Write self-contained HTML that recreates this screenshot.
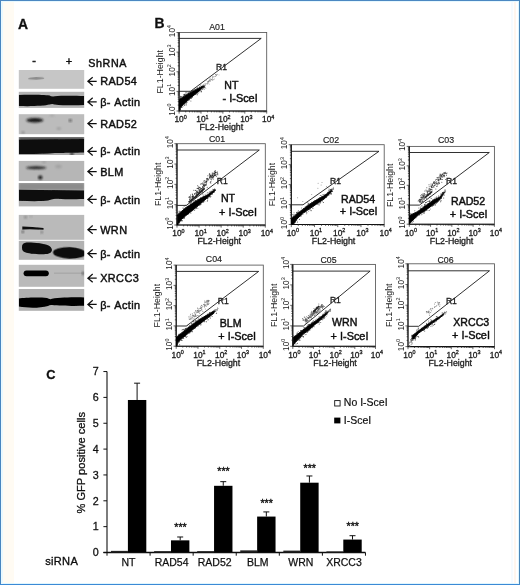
<!DOCTYPE html>
<html><head><meta charset="utf-8"><style>
html,body{margin:0;padding:0;background:#fff;}
svg{display:block;font-family:"Liberation Sans", sans-serif;will-change:transform;}
</style></head><body>
<svg width="520" height="585" viewBox="0 0 520 585">
<defs>
<filter id="b1" x="-20%" y="-50%" width="140%" height="200%"><feGaussianBlur stdDeviation="1"/></filter>
<filter id="b07" x="-20%" y="-50%" width="140%" height="200%"><feGaussianBlur stdDeviation="0.7"/></filter>
<filter id="b05" x="-20%" y="-50%" width="140%" height="200%"><feGaussianBlur stdDeviation="0.5"/></filter>
<filter id="b04" x="-20%" y="-20%" width="140%" height="140%"><feGaussianBlur stdDeviation="0.4"/></filter>
<filter id="gblur" x="0" y="0" width="100%" height="100%" filterUnits="userSpaceOnUse"><feGaussianBlur stdDeviation="0.35"/></filter>
<clipPath id="blotclip"><rect x="18.8" y="70.0" width="65.4" height="18.799999999999997"/><rect x="18.8" y="91.8" width="65.4" height="16.10000000000001"/><rect x="18.8" y="114.2" width="65.4" height="19.999999999999986"/><rect x="18.8" y="137.0" width="65.4" height="18.0"/><rect x="18.8" y="160.9" width="65.4" height="20.099999999999994"/><rect x="18.8" y="183.0" width="65.4" height="23.400000000000006"/><rect x="18.8" y="214.9" width="65.4" height="24.900000000000006"/><rect x="18.8" y="240.8" width="65.4" height="19.0"/><rect x="18.8" y="264.8" width="65.4" height="22.0"/><rect x="18.8" y="289.0" width="65.4" height="21.80000000000001"/></clipPath>
</defs>
<g filter="url(#gblur)">
<rect x="0" y="0" width="520" height="585" fill="#fff"/>
<rect x="3" y="1" width="11" height="583" fill="#fffbf3"/>
<rect x="514" y="1" width="2" height="583" fill="#fff6ee"/>
<rect x="511" y="1" width="2" height="583" fill="#f6fbff"/>
<rect x="0" y="0" width="520" height="1" fill="#4c88c2"/>
<rect x="0" y="0" width="1" height="585" fill="#4a86bf"/>
<rect x="519" y="0" width="1" height="585" fill="#4a86b8"/>
<rect x="0" y="584" width="520" height="1" fill="#3a8ad6"/>
<rect x="1" y="583" width="518" height="1" fill="#dff6ff"/>
<rect x="518" y="1" width="1" height="583" fill="#dff6ff"/>
<rect x="1" y="1" width="518" height="1" fill="#e6f8ff"/>
<rect x="1" y="1" width="2" height="583" fill="#e9f9ff"/>
<text x="18.10" y="28.90" font-size="13.9" text-anchor="start" font-weight="bold" fill="#111" stroke="#111" stroke-width="0.3" >A</text>
<text x="34.00" y="64.00" font-size="11" text-anchor="middle" font-weight="normal" fill="#111" stroke="#111" stroke-width="0.45" >-</text>
<text x="69.00" y="65.20" font-size="11" text-anchor="middle" font-weight="normal" fill="#111" stroke="#111" stroke-width="0.45" >+</text>
<text x="88.30" y="66.60" font-size="10.7" text-anchor="start" font-weight="normal" fill="#111" stroke="#111" stroke-width="0.45" letter-spacing="0.6">ShRNA</text>
<rect x="18.8" y="70.0" width="65.4" height="18.799999999999997" fill="#c6c6c6"/>
<rect x="18.8" y="91.8" width="65.4" height="16.10000000000001" fill="#b4b4b4"/>
<rect x="18.8" y="114.2" width="65.4" height="19.999999999999986" fill="#bcbcbc"/>
<rect x="18.8" y="137.0" width="65.4" height="18.0" fill="#a8a8a8"/>
<rect x="18.8" y="160.9" width="65.4" height="20.099999999999994" fill="#b6b6b6"/>
<rect x="18.8" y="183.0" width="65.4" height="23.400000000000006" fill="#b0b0b0"/>
<rect x="18.8" y="214.9" width="65.4" height="24.900000000000006" fill="#bababa"/>
<rect x="18.8" y="240.8" width="65.4" height="19.0" fill="#b2b2b2"/>
<rect x="18.8" y="264.8" width="65.4" height="22.0" fill="#bababa"/>
<rect x="18.8" y="289.0" width="65.4" height="21.80000000000001" fill="#b0b0b0"/>
<g clip-path="url(#blotclip)">
<ellipse cx="36.2" cy="78.4" rx="8.2" ry="1.3" fill="#8c8c8c" filter="url(#b07)" transform="rotate(-2 36.2 78.4)"/>
<path d="M18.8,95.0 C30,94.6 45,94.9 49.5,95.6 Q52,96.9 54.5,96.2 C62,95.6 75,95.8 84.2,96.0 L84.2,105.0 C75,105.5 62,105.4 54.5,104.4 Q52,103.4 49.5,104.6 C45,106.0 30,106.4 18.8,106.0 Z" fill="#0c0c0c" filter="url(#b07)"/>
<ellipse cx="34.8" cy="120.2" rx="8.6" ry="2.2" fill="#161616" opacity="1.0" filter="url(#b1)"/>
<ellipse cx="70.3" cy="120.4" rx="1.4" ry="1.0" fill="#252525" opacity="0.95" filter="url(#b1)"/>
<ellipse cx="58.8" cy="128.6" rx="2.4" ry="1.1" fill="#8a8a8a" opacity="0.7" filter="url(#b1)"/>
<ellipse cx="23.0" cy="132.6" rx="1.6" ry="1.1" fill="#666" opacity="0.7" filter="url(#b1)"/>
<ellipse cx="52.0" cy="115.5" rx="2.5" ry="1.0" fill="#999" opacity="0.6" filter="url(#b1)"/>
<rect x="18.8" y="137" width="65.4" height="4" fill="#555" filter="url(#b1)"/>
<path d="M18.8,139.8 L84.2,139.0 L84.2,152.6 C70,152.8 60,153.2 55,153.0 C45,154.0 30,154.2 18.8,154.0 Z" fill="#0a0a0a" filter="url(#b07)"/>
<ellipse cx="71.9" cy="153.9" rx="1.8" ry="1.2" fill="#000" opacity="0.9" filter="url(#b1)"/>
<ellipse cx="36.2" cy="167.8" rx="10.2" ry="1.5" fill="#202020" opacity="1.0" filter="url(#b1)"/>
<ellipse cx="40.3" cy="177.6" rx="2.0" ry="2.0" fill="#111" opacity="1.0" filter="url(#b1)"/>
<ellipse cx="58.5" cy="166.5" rx="3.2" ry="1.8" fill="#999" opacity="0.7" filter="url(#b1)"/>
<ellipse cx="44.0" cy="162.0" rx="2.0" ry="1.0" fill="#888" opacity="0.6" filter="url(#b1)"/>
<rect x="18.8" y="183" width="65.4" height="7" fill="#8c8c8c" filter="url(#b1)"/>
<path d="M18.8,189.8 L84.2,190.5 L84.2,199.0 C70,199.4 60,199.2 55,198.8 Q51,199.2 48,200.6 C40,201.4 30,201.2 18.8,200.8 Z" fill="#080808" filter="url(#b07)"/>
<path d="M22.3,226.4 Q32,226.6 43.5,228.0 L43.5,229.8 Q32,228.8 22.3,229.4 Z" fill="#0c0c0c" filter="url(#b05)"/>
<ellipse cx="25.5" cy="217.2" rx="1.1" ry="1.0" fill="#444" opacity="0.8" filter="url(#b1)"/>
<ellipse cx="22.8" cy="231.8" rx="1.2" ry="1.1" fill="#333" opacity="0.9" filter="url(#b1)"/>
<ellipse cx="41.7" cy="232.2" rx="1.0" ry="1.0" fill="#444" opacity="0.9" filter="url(#b1)"/>
<ellipse cx="31.0" cy="216.5" rx="0.9" ry="0.8" fill="#777" opacity="0.7" filter="url(#b1)"/>
<path d="M22.0,247.5 C22.0,243.5 24.5,242.6 28,242.6 C36,242.6 44,243.6 48.5,245.6 C51.5,247.0 52.2,249.5 51.8,250.8 C51.2,253.2 48,254.2 44,254.2 C36,254.4 28,253.6 24.5,252.0 C22.6,251.0 22.0,249.5 22.0,247.5 Z" fill="#080808" filter="url(#b07)"/>
<ellipse cx="0" cy="0" rx="16.5" ry="5.8" fill="#080808" filter="url(#b07)" transform="translate(69.5,252.9) rotate(2)"/>
<rect x="23.6" y="270.4" width="25.2" height="5.8" rx="2.9" fill="#060606" filter="url(#b05)"/>
<rect x="54" y="272.6" width="28" height="1.2" fill="#a6a6a6" filter="url(#b05)"/>
<ellipse cx="83.2" cy="273.2" rx="1.0" ry="1.8" fill="#333" opacity="0.9" filter="url(#b1)"/>
<path d="M18.8,298.5 C25,297.4 40,297.2 47,298.0 Q50,299.8 52,298.8 C60,297.4 75,297.2 84.2,297.4 L84.2,305.8 C75,306.0 60,306.0 52,305.0 Q50,304.6 48,306.0 C40,308.2 28,308.2 18.8,306.6 Z" fill="#060606" filter="url(#b07)"/>
</g>
<path d="M96.7,81.30 H88.2 M92.7,77.20 L87.9,81.30 L92.7,85.40" stroke="#111" stroke-width="1.25" fill="none"/>
<text x="100.20" y="85.40" font-size="10.9" text-anchor="start" font-weight="normal" fill="#111" stroke="#111" stroke-width="0.45" letter-spacing="0.4">RAD54</text>
<path d="M96.7,101.90 H88.2 M92.7,97.80 L87.9,101.90 L92.7,106.00" stroke="#111" stroke-width="1.25" fill="none"/>
<text x="100.20" y="106.00" font-size="10.9" text-anchor="start" font-weight="normal" fill="#111" stroke="#111" stroke-width="0.45" letter-spacing="0.4">β- Actin</text>
<path d="M96.7,123.60 H88.2 M92.7,119.50 L87.9,123.60 L92.7,127.70" stroke="#111" stroke-width="1.25" fill="none"/>
<text x="100.20" y="127.70" font-size="10.9" text-anchor="start" font-weight="normal" fill="#111" stroke="#111" stroke-width="0.45" letter-spacing="0.4">RAD52</text>
<path d="M96.7,151.30 H88.2 M92.7,147.20 L87.9,151.30 L92.7,155.40" stroke="#111" stroke-width="1.25" fill="none"/>
<text x="100.20" y="155.40" font-size="10.9" text-anchor="start" font-weight="normal" fill="#111" stroke="#111" stroke-width="0.45" letter-spacing="0.4">β- Actin</text>
<path d="M96.7,171.60 H88.2 M92.7,167.50 L87.9,171.60 L92.7,175.70" stroke="#111" stroke-width="1.25" fill="none"/>
<text x="100.20" y="175.70" font-size="10.9" text-anchor="start" font-weight="normal" fill="#111" stroke="#111" stroke-width="0.45" letter-spacing="0.4">BLM</text>
<path d="M96.7,199.40 H88.2 M92.7,195.30 L87.9,199.40 L92.7,203.50" stroke="#111" stroke-width="1.25" fill="none"/>
<text x="100.20" y="203.50" font-size="10.9" text-anchor="start" font-weight="normal" fill="#111" stroke="#111" stroke-width="0.45" letter-spacing="0.4">β- Actin</text>
<path d="M96.7,229.70 H88.2 M92.7,225.60 L87.9,229.70 L92.7,233.80" stroke="#111" stroke-width="1.25" fill="none"/>
<text x="100.20" y="233.80" font-size="10.9" text-anchor="start" font-weight="normal" fill="#111" stroke="#111" stroke-width="0.45" letter-spacing="0.4">WRN</text>
<path d="M96.7,253.60 H88.2 M92.7,249.50 L87.9,253.60 L92.7,257.70" stroke="#111" stroke-width="1.25" fill="none"/>
<text x="100.20" y="257.70" font-size="10.9" text-anchor="start" font-weight="normal" fill="#111" stroke="#111" stroke-width="0.45" letter-spacing="0.4">β- Actin</text>
<path d="M96.7,278.20 H88.2 M92.7,274.10 L87.9,278.20 L92.7,282.30" stroke="#111" stroke-width="1.25" fill="none"/>
<text x="100.20" y="282.30" font-size="10.9" text-anchor="start" font-weight="normal" fill="#111" stroke="#111" stroke-width="0.45" letter-spacing="0.4">XRCC3</text>
<path d="M96.7,304.40 H88.2 M92.7,300.30 L87.9,304.40 L92.7,308.50" stroke="#111" stroke-width="1.25" fill="none"/>
<text x="100.20" y="308.50" font-size="10.9" text-anchor="start" font-weight="normal" fill="#111" stroke="#111" stroke-width="0.45" letter-spacing="0.4">β- Actin</text>
<text x="154.60" y="28.40" font-size="13.9" text-anchor="start" font-weight="bold" fill="#111" stroke="#111" stroke-width="0.3" >B</text>
<rect x="179.1" y="32.5" width="87.60" height="78.50" fill="none" stroke="#555" stroke-width="0.85"/>
<path d="M179.1,32.5 L179.1,111.0 L266.7,111.0" fill="none" stroke="#111" stroke-width="1.1"/>
<path d="M179.10,111.0 v2.6 M179.1,111.00 h-2.6 M185.69,111.0 v1.4 M179.1,105.09 h-1.4 M189.55,111.0 v1.4 M179.1,101.64 h-1.4 M192.29,111.0 v1.4 M179.1,99.18 h-1.4 M194.41,111.0 v1.4 M179.1,97.28 h-1.4 M196.14,111.0 v1.4 M179.1,95.73 h-1.4 M197.61,111.0 v1.4 M179.1,94.41 h-1.4 M198.88,111.0 v1.4 M179.1,93.28 h-1.4 M200.00,111.0 v1.4 M179.1,92.27 h-1.4 M201.00,111.0 v2.6 M179.1,91.38 h-2.6 M207.59,111.0 v1.4 M179.1,85.47 h-1.4 M211.45,111.0 v1.4 M179.1,82.01 h-1.4 M214.19,111.0 v1.4 M179.1,79.56 h-1.4 M216.31,111.0 v1.4 M179.1,77.66 h-1.4 M218.04,111.0 v1.4 M179.1,76.10 h-1.4 M219.51,111.0 v1.4 M179.1,74.79 h-1.4 M220.78,111.0 v1.4 M179.1,73.65 h-1.4 M221.90,111.0 v1.4 M179.1,72.65 h-1.4 M222.90,111.0 v2.6 M179.1,71.75 h-2.6 M229.49,111.0 v1.4 M179.1,65.84 h-1.4 M233.35,111.0 v1.4 M179.1,62.39 h-1.4 M236.09,111.0 v1.4 M179.1,59.93 h-1.4 M238.21,111.0 v1.4 M179.1,58.03 h-1.4 M239.94,111.0 v1.4 M179.1,56.48 h-1.4 M241.41,111.0 v1.4 M179.1,55.16 h-1.4 M242.68,111.0 v1.4 M179.1,54.03 h-1.4 M243.80,111.0 v1.4 M179.1,53.02 h-1.4 M244.80,111.0 v2.6 M179.1,52.12 h-2.6 M251.39,111.0 v1.4 M179.1,46.22 h-1.4 M255.25,111.0 v1.4 M179.1,42.76 h-1.4 M257.99,111.0 v1.4 M179.1,40.31 h-1.4 M260.11,111.0 v1.4 M179.1,38.41 h-1.4 M261.84,111.0 v1.4 M179.1,36.85 h-1.4 M263.31,111.0 v1.4 M179.1,35.54 h-1.4 M264.58,111.0 v1.4 M179.1,34.40 h-1.4 M265.70,111.0 v1.4 M179.1,33.40 h-1.4 M266.70,111.0 v2.6 M179.1,32.5 h-2.6" stroke="#222" stroke-width="0.7" fill="none"/>
<path d="M179.1,91.3 L190.5,91.3 L261.2,38.4 L179.1,38.4" fill="none" stroke="#1a1a1a" stroke-width="0.9"/>
<circle cx="207.8" cy="83.8" r="0.45" fill="#666" opacity="0.85"/>
<circle cx="204.0" cy="87.9" r="0.45" fill="#666" opacity="0.85"/>
<circle cx="210.4" cy="79.8" r="0.45" fill="#666" opacity="0.85"/>
<circle cx="210.3" cy="80.6" r="0.45" fill="#666" opacity="0.85"/>
<circle cx="202.3" cy="87.2" r="0.45" fill="#666" opacity="0.85"/>
<circle cx="203.6" cy="86.8" r="0.45" fill="#666" opacity="0.85"/>
<circle cx="209.0" cy="81.8" r="0.45" fill="#666" opacity="0.85"/>
<circle cx="205.2" cy="84.3" r="0.45" fill="#666" opacity="0.85"/>
<circle cx="213.0" cy="79.6" r="0.45" fill="#666" opacity="0.85"/>
<circle cx="208.0" cy="81.7" r="0.45" fill="#666" opacity="0.85"/>
<circle cx="219.0" cy="74.9" r="0.45" fill="#666" opacity="0.85"/>
<circle cx="207.1" cy="84.1" r="0.45" fill="#666" opacity="0.85"/>
<circle cx="204.8" cy="86.3" r="0.45" fill="#666" opacity="0.85"/>
<circle cx="215.5" cy="76.2" r="0.45" fill="#666" opacity="0.85"/>
<circle cx="204.0" cy="84.3" r="0.45" fill="#666" opacity="0.85"/>
<circle cx="207.4" cy="81.9" r="0.45" fill="#666" opacity="0.85"/>
<circle cx="211.0" cy="80.0" r="0.45" fill="#666" opacity="0.85"/>
<circle cx="205.4" cy="85.0" r="0.45" fill="#666" opacity="0.85"/>
<circle cx="212.3" cy="77.2" r="0.45" fill="#666" opacity="0.85"/>
<circle cx="211.7" cy="79.5" r="0.45" fill="#666" opacity="0.85"/>
<circle cx="208.8" cy="80.8" r="0.45" fill="#666" opacity="0.85"/>
<circle cx="214.5" cy="78.9" r="0.45" fill="#666" opacity="0.85"/>
<circle cx="205.1" cy="83.5" r="0.45" fill="#666" opacity="0.85"/>
<circle cx="215.6" cy="74.4" r="0.45" fill="#666" opacity="0.85"/>
<circle cx="213.2" cy="76.5" r="0.45" fill="#666" opacity="0.85"/>
<circle cx="205.9" cy="88.4" r="0.45" fill="#666" opacity="0.85"/>
<circle cx="208.7" cy="81.7" r="0.45" fill="#666" opacity="0.85"/>
<circle cx="209.4" cy="80.2" r="0.45" fill="#666" opacity="0.85"/>
<circle cx="202.0" cy="86.7" r="0.45" fill="#666" opacity="0.85"/>
<circle cx="210.1" cy="78.2" r="0.45" fill="#666" opacity="0.85"/>
<circle cx="215.6" cy="74.4" r="0.45" fill="#666" opacity="0.85"/>
<circle cx="212.6" cy="80.2" r="0.45" fill="#666" opacity="0.85"/>
<circle cx="209.9" cy="77.8" r="0.45" fill="#666" opacity="0.85"/>
<circle cx="217.5" cy="74.2" r="0.45" fill="#666" opacity="0.85"/>
<circle cx="209.4" cy="80.7" r="0.45" fill="#666" opacity="0.85"/>
<circle cx="213.0" cy="77.2" r="0.45" fill="#666" opacity="0.85"/>
<circle cx="213.8" cy="79.8" r="0.45" fill="#666" opacity="0.85"/>
<circle cx="206.5" cy="83.7" r="0.45" fill="#666" opacity="0.85"/>
<circle cx="208.1" cy="82.1" r="0.45" fill="#666" opacity="0.85"/>
<circle cx="209.2" cy="80.9" r="0.45" fill="#666" opacity="0.85"/>
<circle cx="204.9" cy="85.7" r="0.45" fill="#666" opacity="0.85"/>
<circle cx="214.5" cy="76.7" r="0.45" fill="#666" opacity="0.85"/>
<circle cx="204.1" cy="86.1" r="0.45" fill="#666" opacity="0.85"/>
<circle cx="216.7" cy="75.7" r="0.45" fill="#666" opacity="0.85"/>
<circle cx="202.4" cy="85.8" r="0.45" fill="#666" opacity="0.85"/>
<circle cx="216.4" cy="75.1" r="0.45" fill="#666" opacity="0.85"/>
<circle cx="215.5" cy="76.1" r="0.45" fill="#666" opacity="0.85"/>
<circle cx="208.2" cy="81.3" r="0.45" fill="#666" opacity="0.85"/>
<circle cx="209.2" cy="84.1" r="0.45" fill="#666" opacity="0.85"/>
<circle cx="203.2" cy="84.4" r="0.45" fill="#666" opacity="0.85"/>
<circle cx="204.9" cy="85.4" r="0.45" fill="#666" opacity="0.85"/>
<circle cx="210.3" cy="81.3" r="0.45" fill="#666" opacity="0.85"/>
<circle cx="211.4" cy="79.2" r="0.45" fill="#666" opacity="0.85"/>
<circle cx="208.8" cy="81.8" r="0.45" fill="#666" opacity="0.85"/>
<circle cx="206.2" cy="80.6" r="0.45" fill="#666" opacity="0.85"/>
<circle cx="212.3" cy="76.8" r="0.45" fill="#666" opacity="0.85"/>
<circle cx="209.4" cy="79.4" r="0.45" fill="#666" opacity="0.85"/>
<circle cx="202.1" cy="86.4" r="0.45" fill="#666" opacity="0.85"/>
<circle cx="216.7" cy="74.8" r="0.45" fill="#666" opacity="0.85"/>
<circle cx="213.3" cy="74.4" r="0.45" fill="#666" opacity="0.85"/>
<circle cx="208.0" cy="81.8" r="0.45" fill="#666" opacity="0.85"/>
<circle cx="212.4" cy="78.7" r="0.45" fill="#666" opacity="0.85"/>
<circle cx="203.5" cy="87.6" r="0.45" fill="#666" opacity="0.85"/>
<circle cx="204.8" cy="85.8" r="0.45" fill="#666" opacity="0.85"/>
<circle cx="207.5" cy="82.9" r="0.45" fill="#666" opacity="0.85"/>
<circle cx="204.4" cy="85.7" r="0.45" fill="#666" opacity="0.85"/>
<circle cx="203.5" cy="86.4" r="0.45" fill="#666" opacity="0.85"/>
<circle cx="216.1" cy="75.0" r="0.45" fill="#666" opacity="0.85"/>
<circle cx="212.2" cy="79.2" r="0.45" fill="#666" opacity="0.85"/>
<circle cx="208.0" cy="83.3" r="0.45" fill="#666" opacity="0.85"/>
<polygon points="179.3,99.4 186.1,94.9 194.2,90.4 202.2,86.3 204.0,85.8 203.4,87.3 196.8,92.9 188.8,99.4 183.4,104.4 180.2,108.0 179.6,110.8 179.3,110.8" fill="#050505" stroke="#050505" stroke-width="0.9" stroke-linejoin="round" filter="url(#b04)"/>
<circle cx="184.5" cy="94.3" r="0.5" fill="#222" opacity="0.89"/>
<circle cx="182.0" cy="107.0" r="0.5" fill="#222" opacity="0.90"/>
<circle cx="196.4" cy="93.8" r="0.5" fill="#222" opacity="0.57"/>
<circle cx="189.6" cy="98.8" r="0.5" fill="#222" opacity="0.60"/>
<circle cx="186.2" cy="105.0" r="0.5" fill="#222" opacity="0.78"/>
<circle cx="186.6" cy="102.0" r="0.5" fill="#222" opacity="0.53"/>
<circle cx="201.2" cy="91.0" r="0.5" fill="#222" opacity="0.96"/>
<circle cx="192.5" cy="90.4" r="0.5" fill="#222" opacity="0.58"/>
<circle cx="181.4" cy="96.7" r="0.5" fill="#222" opacity="0.98"/>
<circle cx="186.0" cy="94.0" r="0.5" fill="#222" opacity="0.69"/>
<circle cx="190.9" cy="98.4" r="0.5" fill="#222" opacity="0.75"/>
<circle cx="184.6" cy="105.2" r="0.5" fill="#222" opacity="0.87"/>
<circle cx="192.1" cy="97.2" r="0.5" fill="#222" opacity="0.56"/>
<circle cx="190.1" cy="91.3" r="0.5" fill="#222" opacity="0.97"/>
<circle cx="180.5" cy="97.5" r="0.5" fill="#222" opacity="0.65"/>
<circle cx="180.5" cy="98.4" r="0.5" fill="#222" opacity="0.93"/>
<circle cx="184.1" cy="95.3" r="0.5" fill="#222" opacity="0.98"/>
<circle cx="190.9" cy="100.9" r="0.5" fill="#222" opacity="0.70"/>
<circle cx="184.5" cy="104.8" r="0.5" fill="#222" opacity="0.64"/>
<circle cx="195.2" cy="89.8" r="0.5" fill="#222" opacity="0.57"/>
<circle cx="186.5" cy="103.7" r="0.5" fill="#222" opacity="0.66"/>
<circle cx="188.5" cy="99.8" r="0.5" fill="#222" opacity="0.55"/>
<circle cx="195.3" cy="94.4" r="0.5" fill="#222" opacity="0.57"/>
<circle cx="204.4" cy="86.5" r="0.5" fill="#222" opacity="0.90"/>
<circle cx="181.5" cy="106.9" r="0.5" fill="#222" opacity="0.70"/>
<circle cx="180.5" cy="96.2" r="0.5" fill="#222" opacity="0.72"/>
<circle cx="181.7" cy="106.9" r="0.5" fill="#222" opacity="0.77"/>
<circle cx="203.5" cy="87.2" r="0.5" fill="#222" opacity="0.83"/>
<circle cx="204.8" cy="87.5" r="0.5" fill="#222" opacity="0.80"/>
<circle cx="186.0" cy="92.3" r="0.5" fill="#222" opacity="0.94"/>
<circle cx="192.3" cy="91.2" r="0.5" fill="#222" opacity="0.98"/>
<circle cx="203.9" cy="87.6" r="0.5" fill="#222" opacity="0.55"/>
<circle cx="187.1" cy="93.1" r="0.5" fill="#222" opacity="0.92"/>
<circle cx="184.2" cy="96.0" r="0.5" fill="#222" opacity="0.81"/>
<circle cx="184.9" cy="95.3" r="0.5" fill="#222" opacity="0.71"/>
<circle cx="180.4" cy="108.4" r="0.5" fill="#222" opacity="0.93"/>
<circle cx="184.7" cy="94.6" r="0.5" fill="#222" opacity="0.71"/>
<circle cx="198.3" cy="91.7" r="0.5" fill="#222" opacity="0.65"/>
<circle cx="183.0" cy="96.3" r="0.5" fill="#222" opacity="0.78"/>
<circle cx="199.5" cy="86.3" r="0.5" fill="#222" opacity="0.52"/>
<circle cx="189.3" cy="92.8" r="0.5" fill="#222" opacity="0.82"/>
<circle cx="181.0" cy="107.3" r="0.5" fill="#222" opacity="0.82"/>
<circle cx="180.9" cy="96.7" r="0.5" fill="#222" opacity="0.96"/>
<circle cx="191.0" cy="91.8" r="0.5" fill="#222" opacity="0.60"/>
<circle cx="191.5" cy="91.5" r="0.5" fill="#222" opacity="0.81"/>
<circle cx="194.1" cy="89.3" r="0.5" fill="#222" opacity="0.87"/>
<circle cx="192.2" cy="96.7" r="0.5" fill="#222" opacity="0.56"/>
<circle cx="180.4" cy="98.1" r="0.5" fill="#222" opacity="0.64"/>
<circle cx="184.2" cy="95.9" r="0.5" fill="#222" opacity="0.68"/>
<circle cx="184.6" cy="103.7" r="0.5" fill="#222" opacity="0.77"/>
<circle cx="180.5" cy="109.5" r="0.5" fill="#222" opacity="0.88"/>
<circle cx="185.5" cy="95.0" r="0.5" fill="#222" opacity="0.69"/>
<circle cx="180.0" cy="110.2" r="0.5" fill="#222" opacity="0.91"/>
<circle cx="185.9" cy="104.1" r="0.5" fill="#222" opacity="0.65"/>
<circle cx="200.8" cy="85.1" r="0.5" fill="#222" opacity="0.89"/>
<circle cx="200.4" cy="90.6" r="0.5" fill="#222" opacity="0.68"/>
<circle cx="187.2" cy="102.2" r="0.5" fill="#222" opacity="0.56"/>
<circle cx="186.0" cy="102.5" r="0.5" fill="#222" opacity="0.92"/>
<circle cx="197.2" cy="93.7" r="0.5" fill="#222" opacity="0.92"/>
<circle cx="199.9" cy="91.8" r="0.5" fill="#222" opacity="0.93"/>
<circle cx="201.5" cy="91.7" r="0.5" fill="#222" opacity="0.97"/>
<circle cx="193.0" cy="90.7" r="0.5" fill="#222" opacity="0.68"/>
<circle cx="185.4" cy="94.1" r="0.5" fill="#222" opacity="0.53"/>
<circle cx="191.5" cy="98.3" r="0.5" fill="#222" opacity="0.65"/>
<circle cx="197.3" cy="88.1" r="0.5" fill="#222" opacity="0.98"/>
<circle cx="185.2" cy="103.2" r="0.5" fill="#222" opacity="0.71"/>
<circle cx="203.7" cy="88.2" r="0.5" fill="#222" opacity="0.72"/>
<circle cx="187.8" cy="100.7" r="0.5" fill="#222" opacity="0.76"/>
<circle cx="180.1" cy="109.2" r="0.5" fill="#222" opacity="0.55"/>
<circle cx="192.6" cy="90.8" r="0.5" fill="#222" opacity="0.78"/>
<circle cx="180.1" cy="98.7" r="0.5" fill="#222" opacity="0.54"/>
<circle cx="199.9" cy="87.3" r="0.5" fill="#222" opacity="0.53"/>
<circle cx="183.8" cy="94.4" r="0.5" fill="#222" opacity="0.80"/>
<circle cx="197.2" cy="94.7" r="0.5" fill="#222" opacity="0.94"/>
<circle cx="196.1" cy="89.1" r="0.5" fill="#222" opacity="0.98"/>
<circle cx="198.4" cy="93.1" r="0.5" fill="#222" opacity="0.58"/>
<circle cx="189.4" cy="99.5" r="0.5" fill="#222" opacity="0.78"/>
<circle cx="204.8" cy="87.2" r="0.5" fill="#222" opacity="0.74"/>
<circle cx="183.5" cy="106.0" r="0.5" fill="#222" opacity="0.51"/>
<circle cx="183.6" cy="96.2" r="0.5" fill="#222" opacity="0.51"/>
<circle cx="188.9" cy="100.0" r="0.5" fill="#222" opacity="0.51"/>
<circle cx="188.6" cy="92.8" r="0.5" fill="#222" opacity="0.99"/>
<circle cx="186.3" cy="102.2" r="0.5" fill="#222" opacity="0.61"/>
<circle cx="192.3" cy="96.9" r="0.5" fill="#222" opacity="0.70"/>
<circle cx="202.4" cy="89.3" r="0.5" fill="#222" opacity="0.90"/>
<circle cx="195.2" cy="94.4" r="0.5" fill="#222" opacity="0.72"/>
<circle cx="188.9" cy="100.3" r="0.5" fill="#222" opacity="0.64"/>
<circle cx="204.1" cy="89.4" r="0.5" fill="#222" opacity="0.55"/>
<circle cx="197.2" cy="87.9" r="0.5" fill="#222" opacity="0.85"/>
<circle cx="182.0" cy="107.0" r="0.5" fill="#222" opacity="0.53"/>
<text x="209.20" y="30.00" font-size="8.8" text-anchor="start" font-weight="normal" fill="#1a1a1a" stroke="#1a1a1a" stroke-width="0.15" >A01</text>
<text x="216.00" y="70.30" font-size="8.6" text-anchor="start" font-weight="normal" fill="#1a1a1a" stroke="#1a1a1a" stroke-width="0.3" >R1</text>
<text x="224.30" y="89.30" font-size="10.6" text-anchor="start" font-weight="normal" fill="#111" stroke="#111" stroke-width="0.45" >NT</text>
<text x="222.60" y="102.30" font-size="10.9" text-anchor="start" font-weight="normal" fill="#111" stroke="#111" stroke-width="0.45" >- I-SceI</text>
<text x="179.10" y="122.30" font-size="8.4" text-anchor="middle" font-weight="normal" fill="#1a1a1a" stroke="#1a1a1a" stroke-width="0.3" >10</text>
<text x="183.70" y="118.60" font-size="5.4" text-anchor="start" font-weight="normal" fill="#1a1a1a" stroke="#1a1a1a" stroke-width="0.3" >0</text>
<text x="201.00" y="122.30" font-size="8.4" text-anchor="middle" font-weight="normal" fill="#1a1a1a" stroke="#1a1a1a" stroke-width="0.3" >10</text>
<text x="205.60" y="118.60" font-size="5.4" text-anchor="start" font-weight="normal" fill="#1a1a1a" stroke="#1a1a1a" stroke-width="0.3" >1</text>
<text x="222.90" y="122.30" font-size="8.4" text-anchor="middle" font-weight="normal" fill="#1a1a1a" stroke="#1a1a1a" stroke-width="0.3" >10</text>
<text x="227.50" y="118.60" font-size="5.4" text-anchor="start" font-weight="normal" fill="#1a1a1a" stroke="#1a1a1a" stroke-width="0.3" >2</text>
<text x="244.80" y="122.30" font-size="8.4" text-anchor="middle" font-weight="normal" fill="#1a1a1a" stroke="#1a1a1a" stroke-width="0.3" >10</text>
<text x="249.40" y="118.60" font-size="5.4" text-anchor="start" font-weight="normal" fill="#1a1a1a" stroke="#1a1a1a" stroke-width="0.3" >3</text>
<text x="266.70" y="122.30" font-size="8.4" text-anchor="middle" font-weight="normal" fill="#1a1a1a" stroke="#1a1a1a" stroke-width="0.3" >10</text>
<text x="271.30" y="118.60" font-size="5.4" text-anchor="start" font-weight="normal" fill="#1a1a1a" stroke="#1a1a1a" stroke-width="0.3" >4</text>
<text x="199.60" y="130.40" font-size="8.8" text-anchor="start" font-weight="normal" fill="#1a1a1a" stroke="#1a1a1a" stroke-width="0.3" >FL2-Height</text>
<g transform="translate(175.10,111.00) rotate(-90)">
<text x="0" y="0" font-size="8.4" text-anchor="middle" fill="#1a1a1a">10</text>
<text x="4.6" y="-3.7" font-size="5.4" fill="#1a1a1a">0</text>
</g>
<g transform="translate(175.10,91.38) rotate(-90)">
<text x="0" y="0" font-size="8.4" text-anchor="middle" fill="#1a1a1a">10</text>
<text x="4.6" y="-3.7" font-size="5.4" fill="#1a1a1a">1</text>
</g>
<g transform="translate(175.10,71.75) rotate(-90)">
<text x="0" y="0" font-size="8.4" text-anchor="middle" fill="#1a1a1a">10</text>
<text x="4.6" y="-3.7" font-size="5.4" fill="#1a1a1a">2</text>
</g>
<g transform="translate(175.10,52.12) rotate(-90)">
<text x="0" y="0" font-size="8.4" text-anchor="middle" fill="#1a1a1a">10</text>
<text x="4.6" y="-3.7" font-size="5.4" fill="#1a1a1a">3</text>
</g>
<g transform="translate(175.10,32.50) rotate(-90)">
<text x="0" y="0" font-size="8.4" text-anchor="middle" fill="#1a1a1a">10</text>
<text x="4.6" y="-3.7" font-size="5.4" fill="#1a1a1a">4</text>
</g>
<g transform="translate(163.10,71.75) rotate(-90)"><text x="0" y="0" font-size="8.8" text-anchor="middle" fill="#1a1a1a">FL1-Height</text></g>
<rect x="177.0" y="143.7" width="88.30" height="81.30" fill="none" stroke="#555" stroke-width="0.85"/>
<path d="M177.0,143.7 L177.0,225.0 L265.3,225.0" fill="none" stroke="#111" stroke-width="1.1"/>
<path d="M177.00,225.0 v2.6 M177.0,225.00 h-2.6 M183.65,225.0 v1.4 M177.0,218.88 h-1.4 M187.53,225.0 v1.4 M177.0,215.30 h-1.4 M190.29,225.0 v1.4 M177.0,212.76 h-1.4 M192.43,225.0 v1.4 M177.0,210.79 h-1.4 M194.18,225.0 v1.4 M177.0,209.18 h-1.4 M195.66,225.0 v1.4 M177.0,207.82 h-1.4 M196.94,225.0 v1.4 M177.0,206.64 h-1.4 M198.06,225.0 v1.4 M177.0,205.61 h-1.4 M199.07,225.0 v2.6 M177.0,204.68 h-2.6 M205.72,225.0 v1.4 M177.0,198.56 h-1.4 M209.61,225.0 v1.4 M177.0,194.98 h-1.4 M212.37,225.0 v1.4 M177.0,192.44 h-1.4 M214.50,225.0 v1.4 M177.0,190.47 h-1.4 M216.25,225.0 v1.4 M177.0,188.86 h-1.4 M217.73,225.0 v1.4 M177.0,187.50 h-1.4 M219.01,225.0 v1.4 M177.0,186.32 h-1.4 M220.14,225.0 v1.4 M177.0,185.28 h-1.4 M221.15,225.0 v2.6 M177.0,184.35 h-2.6 M227.80,225.0 v1.4 M177.0,178.23 h-1.4 M231.68,225.0 v1.4 M177.0,174.65 h-1.4 M234.44,225.0 v1.4 M177.0,172.11 h-1.4 M236.58,225.0 v1.4 M177.0,170.14 h-1.4 M238.33,225.0 v1.4 M177.0,168.53 h-1.4 M239.81,225.0 v1.4 M177.0,167.17 h-1.4 M241.09,225.0 v1.4 M177.0,165.99 h-1.4 M242.21,225.0 v1.4 M177.0,164.96 h-1.4 M243.23,225.0 v2.6 M177.0,164.02 h-2.6 M249.87,225.0 v1.4 M177.0,157.91 h-1.4 M253.76,225.0 v1.4 M177.0,154.33 h-1.4 M256.52,225.0 v1.4 M177.0,151.79 h-1.4 M258.65,225.0 v1.4 M177.0,149.82 h-1.4 M260.40,225.0 v1.4 M177.0,148.21 h-1.4 M261.88,225.0 v1.4 M177.0,146.85 h-1.4 M263.16,225.0 v1.4 M177.0,145.67 h-1.4 M264.29,225.0 v1.4 M177.0,144.63 h-1.4 M265.30,225.0 v2.6 M177.0,143.7 h-2.6" stroke="#222" stroke-width="0.7" fill="none"/>
<path d="M177.0,205.4 L186.3,205.4 L259.3,150.0 L177.0,150.0" fill="none" stroke="#1a1a1a" stroke-width="0.9"/>
<circle cx="206.3" cy="184.9" r="0.5" fill="#222" opacity="0.9"/>
<circle cx="212.1" cy="177.9" r="0.5" fill="#222" opacity="0.9"/>
<circle cx="205.8" cy="182.5" r="0.5" fill="#222" opacity="0.9"/>
<circle cx="203.9" cy="185.2" r="0.5" fill="#222" opacity="0.9"/>
<circle cx="192.2" cy="196.8" r="0.5" fill="#222" opacity="0.9"/>
<circle cx="205.1" cy="182.8" r="0.5" fill="#222" opacity="0.9"/>
<circle cx="198.3" cy="188.6" r="0.5" fill="#222" opacity="0.9"/>
<circle cx="195.6" cy="196.4" r="0.5" fill="#222" opacity="0.9"/>
<circle cx="195.6" cy="196.0" r="0.5" fill="#222" opacity="0.9"/>
<circle cx="212.4" cy="175.2" r="0.5" fill="#222" opacity="0.9"/>
<circle cx="212.9" cy="174.1" r="0.5" fill="#222" opacity="0.9"/>
<circle cx="192.6" cy="197.4" r="0.5" fill="#222" opacity="0.9"/>
<circle cx="214.8" cy="175.5" r="0.5" fill="#222" opacity="0.9"/>
<circle cx="205.4" cy="185.3" r="0.5" fill="#222" opacity="0.9"/>
<circle cx="192.5" cy="196.0" r="0.5" fill="#222" opacity="0.9"/>
<circle cx="204.6" cy="184.6" r="0.5" fill="#222" opacity="0.9"/>
<circle cx="203.2" cy="184.8" r="0.5" fill="#222" opacity="0.9"/>
<circle cx="201.5" cy="188.8" r="0.5" fill="#222" opacity="0.9"/>
<circle cx="196.1" cy="194.7" r="0.5" fill="#222" opacity="0.9"/>
<circle cx="214.2" cy="175.3" r="0.5" fill="#222" opacity="0.9"/>
<circle cx="203.7" cy="185.6" r="0.5" fill="#222" opacity="0.9"/>
<circle cx="215.3" cy="172.5" r="0.5" fill="#222" opacity="0.9"/>
<circle cx="203.6" cy="186.2" r="0.5" fill="#222" opacity="0.9"/>
<circle cx="207.1" cy="178.6" r="0.5" fill="#222" opacity="0.9"/>
<circle cx="196.2" cy="193.4" r="0.5" fill="#222" opacity="0.9"/>
<circle cx="196.5" cy="191.7" r="0.5" fill="#222" opacity="0.9"/>
<circle cx="189.7" cy="198.1" r="0.5" fill="#222" opacity="0.9"/>
<circle cx="198.8" cy="192.4" r="0.5" fill="#222" opacity="0.9"/>
<circle cx="215.4" cy="175.4" r="0.5" fill="#222" opacity="0.9"/>
<circle cx="197.1" cy="193.9" r="0.5" fill="#222" opacity="0.9"/>
<circle cx="206.5" cy="183.1" r="0.5" fill="#222" opacity="0.9"/>
<circle cx="189.9" cy="196.5" r="0.5" fill="#222" opacity="0.9"/>
<circle cx="193.9" cy="190.3" r="0.5" fill="#222" opacity="0.9"/>
<circle cx="189.2" cy="197.0" r="0.5" fill="#222" opacity="0.9"/>
<circle cx="205.9" cy="181.4" r="0.5" fill="#222" opacity="0.9"/>
<circle cx="197.2" cy="188.2" r="0.5" fill="#222" opacity="0.9"/>
<circle cx="209.3" cy="174.1" r="0.5" fill="#222" opacity="0.9"/>
<circle cx="190.9" cy="200.3" r="0.5" fill="#222" opacity="0.9"/>
<circle cx="214.4" cy="171.8" r="0.5" fill="#222" opacity="0.9"/>
<circle cx="193.0" cy="198.0" r="0.5" fill="#222" opacity="0.9"/>
<circle cx="196.4" cy="192.7" r="0.5" fill="#222" opacity="0.9"/>
<circle cx="192.3" cy="194.0" r="0.5" fill="#222" opacity="0.9"/>
<circle cx="199.8" cy="190.5" r="0.5" fill="#222" opacity="0.9"/>
<circle cx="196.5" cy="194.2" r="0.5" fill="#222" opacity="0.9"/>
<circle cx="202.9" cy="194.1" r="0.5" fill="#222" opacity="0.9"/>
<circle cx="210.8" cy="176.5" r="0.5" fill="#222" opacity="0.9"/>
<circle cx="200.9" cy="184.2" r="0.5" fill="#222" opacity="0.9"/>
<circle cx="214.6" cy="173.7" r="0.5" fill="#222" opacity="0.9"/>
<circle cx="209.8" cy="177.7" r="0.5" fill="#222" opacity="0.9"/>
<circle cx="206.3" cy="181.3" r="0.5" fill="#222" opacity="0.9"/>
<circle cx="213.0" cy="175.6" r="0.5" fill="#222" opacity="0.9"/>
<circle cx="208.9" cy="178.7" r="0.5" fill="#222" opacity="0.9"/>
<circle cx="201.0" cy="191.4" r="0.5" fill="#222" opacity="0.9"/>
<circle cx="210.8" cy="182.9" r="0.5" fill="#222" opacity="0.9"/>
<circle cx="211.6" cy="179.7" r="0.5" fill="#222" opacity="0.9"/>
<circle cx="217.0" cy="174.4" r="0.5" fill="#222" opacity="0.9"/>
<circle cx="214.4" cy="173.7" r="0.5" fill="#222" opacity="0.9"/>
<circle cx="209.4" cy="174.7" r="0.5" fill="#222" opacity="0.9"/>
<circle cx="203.9" cy="181.0" r="0.5" fill="#222" opacity="0.9"/>
<circle cx="212.0" cy="178.1" r="0.5" fill="#222" opacity="0.9"/>
<circle cx="212.6" cy="173.9" r="0.5" fill="#222" opacity="0.9"/>
<circle cx="207.2" cy="187.2" r="0.5" fill="#222" opacity="0.9"/>
<circle cx="217.8" cy="174.7" r="0.5" fill="#222" opacity="0.9"/>
<circle cx="213.3" cy="179.1" r="0.5" fill="#222" opacity="0.9"/>
<circle cx="197.3" cy="193.1" r="0.5" fill="#222" opacity="0.9"/>
<circle cx="194.6" cy="193.6" r="0.5" fill="#222" opacity="0.9"/>
<circle cx="202.5" cy="186.8" r="0.5" fill="#222" opacity="0.9"/>
<circle cx="215.9" cy="174.9" r="0.5" fill="#222" opacity="0.9"/>
<circle cx="208.2" cy="179.9" r="0.5" fill="#222" opacity="0.9"/>
<circle cx="210.0" cy="176.2" r="0.5" fill="#222" opacity="0.9"/>
<circle cx="210.3" cy="175.9" r="0.5" fill="#222" opacity="0.9"/>
<circle cx="209.7" cy="173.7" r="0.5" fill="#222" opacity="0.9"/>
<circle cx="202.4" cy="189.6" r="0.5" fill="#222" opacity="0.9"/>
<circle cx="213.5" cy="176.6" r="0.5" fill="#222" opacity="0.9"/>
<circle cx="197.3" cy="188.4" r="0.5" fill="#222" opacity="0.9"/>
<circle cx="210.2" cy="175.8" r="0.5" fill="#222" opacity="0.9"/>
<circle cx="189.9" cy="199.7" r="0.5" fill="#222" opacity="0.9"/>
<circle cx="193.0" cy="196.8" r="0.5" fill="#222" opacity="0.9"/>
<circle cx="210.5" cy="175.1" r="0.5" fill="#222" opacity="0.9"/>
<circle cx="203.1" cy="187.5" r="0.5" fill="#222" opacity="0.9"/>
<circle cx="199.3" cy="190.5" r="0.5" fill="#222" opacity="0.9"/>
<circle cx="213.9" cy="176.5" r="0.5" fill="#222" opacity="0.9"/>
<circle cx="206.6" cy="181.9" r="0.5" fill="#222" opacity="0.9"/>
<circle cx="197.8" cy="192.6" r="0.5" fill="#222" opacity="0.9"/>
<circle cx="207.3" cy="178.2" r="0.5" fill="#222" opacity="0.9"/>
<circle cx="212.4" cy="177.2" r="0.5" fill="#222" opacity="0.9"/>
<circle cx="193.1" cy="196.4" r="0.5" fill="#222" opacity="0.9"/>
<circle cx="211.9" cy="175.8" r="0.5" fill="#222" opacity="0.9"/>
<circle cx="194.6" cy="194.3" r="0.5" fill="#222" opacity="0.9"/>
<circle cx="202.7" cy="192.2" r="0.5" fill="#222" opacity="0.9"/>
<circle cx="197.3" cy="194.7" r="0.5" fill="#222" opacity="0.9"/>
<circle cx="213.1" cy="173.1" r="0.5" fill="#222" opacity="0.9"/>
<circle cx="197.7" cy="185.8" r="0.5" fill="#222" opacity="0.9"/>
<circle cx="203.7" cy="185.3" r="0.5" fill="#222" opacity="0.9"/>
<circle cx="217.5" cy="172.1" r="0.5" fill="#222" opacity="0.9"/>
<circle cx="196.4" cy="197.2" r="0.5" fill="#222" opacity="0.9"/>
<circle cx="205.0" cy="185.4" r="0.5" fill="#222" opacity="0.9"/>
<circle cx="215.5" cy="172.6" r="0.5" fill="#222" opacity="0.9"/>
<circle cx="202.6" cy="187.1" r="0.5" fill="#222" opacity="0.9"/>
<circle cx="198.7" cy="189.0" r="0.5" fill="#222" opacity="0.9"/>
<circle cx="190.5" cy="195.0" r="0.5" fill="#222" opacity="0.9"/>
<circle cx="203.1" cy="184.4" r="0.5" fill="#222" opacity="0.9"/>
<circle cx="202.4" cy="191.2" r="0.5" fill="#222" opacity="0.9"/>
<circle cx="206.9" cy="179.7" r="0.5" fill="#222" opacity="0.9"/>
<circle cx="191.1" cy="197.0" r="0.5" fill="#222" opacity="0.9"/>
<circle cx="215.0" cy="171.4" r="0.5" fill="#222" opacity="0.9"/>
<circle cx="198.9" cy="188.7" r="0.5" fill="#222" opacity="0.9"/>
<circle cx="198.7" cy="187.8" r="0.5" fill="#222" opacity="0.9"/>
<circle cx="203.0" cy="183.8" r="0.5" fill="#222" opacity="0.9"/>
<circle cx="201.2" cy="183.4" r="0.5" fill="#222" opacity="0.9"/>
<circle cx="200.2" cy="189.8" r="0.5" fill="#222" opacity="0.9"/>
<circle cx="212.5" cy="175.7" r="0.5" fill="#222" opacity="0.9"/>
<circle cx="207.3" cy="179.1" r="0.5" fill="#222" opacity="0.9"/>
<circle cx="209.8" cy="177.8" r="0.5" fill="#222" opacity="0.9"/>
<circle cx="213.8" cy="173.9" r="0.5" fill="#222" opacity="0.9"/>
<circle cx="189.0" cy="197.2" r="0.5" fill="#222" opacity="0.9"/>
<circle cx="200.7" cy="192.3" r="0.5" fill="#222" opacity="0.9"/>
<circle cx="216.3" cy="176.2" r="0.5" fill="#222" opacity="0.9"/>
<circle cx="192.6" cy="194.6" r="0.5" fill="#222" opacity="0.9"/>
<circle cx="190.5" cy="197.9" r="0.5" fill="#222" opacity="0.9"/>
<circle cx="200.6" cy="188.6" r="0.5" fill="#222" opacity="0.9"/>
<circle cx="195.9" cy="190.3" r="0.5" fill="#222" opacity="0.9"/>
<circle cx="210.2" cy="177.5" r="0.5" fill="#222" opacity="0.9"/>
<circle cx="202.8" cy="189.1" r="0.5" fill="#222" opacity="0.9"/>
<circle cx="215.2" cy="170.5" r="0.5" fill="#222" opacity="0.9"/>
<circle cx="206.6" cy="178.8" r="0.5" fill="#222" opacity="0.9"/>
<circle cx="202.1" cy="190.6" r="0.5" fill="#222" opacity="0.9"/>
<circle cx="208.2" cy="179.6" r="0.5" fill="#222" opacity="0.9"/>
<circle cx="198.3" cy="192.7" r="0.5" fill="#222" opacity="0.9"/>
<circle cx="213.6" cy="177.3" r="0.5" fill="#222" opacity="0.9"/>
<circle cx="211.1" cy="176.6" r="0.5" fill="#222" opacity="0.9"/>
<circle cx="204.5" cy="185.5" r="0.5" fill="#222" opacity="0.9"/>
<circle cx="214.7" cy="175.5" r="0.5" fill="#222" opacity="0.9"/>
<circle cx="196.2" cy="196.6" r="0.5" fill="#222" opacity="0.9"/>
<circle cx="199.4" cy="191.8" r="0.5" fill="#222" opacity="0.9"/>
<circle cx="200.7" cy="189.2" r="0.5" fill="#222" opacity="0.9"/>
<circle cx="216.8" cy="172.6" r="0.5" fill="#222" opacity="0.9"/>
<circle cx="198.2" cy="190.9" r="0.5" fill="#222" opacity="0.9"/>
<circle cx="215.8" cy="172.9" r="0.5" fill="#222" opacity="0.9"/>
<circle cx="202.8" cy="188.2" r="0.5" fill="#222" opacity="0.9"/>
<circle cx="192.9" cy="196.8" r="0.5" fill="#222" opacity="0.9"/>
<circle cx="201.6" cy="189.9" r="0.5" fill="#222" opacity="0.9"/>
<circle cx="215.9" cy="172.0" r="0.5" fill="#222" opacity="0.9"/>
<circle cx="215.3" cy="174.4" r="0.5" fill="#222" opacity="0.9"/>
<circle cx="203.0" cy="187.8" r="0.5" fill="#222" opacity="0.9"/>
<circle cx="209.6" cy="176.1" r="0.5" fill="#222" opacity="0.9"/>
<circle cx="199.6" cy="191.9" r="0.5" fill="#222" opacity="0.9"/>
<circle cx="204.3" cy="187.9" r="0.5" fill="#222" opacity="0.9"/>
<circle cx="204.1" cy="182.9" r="0.5" fill="#222" opacity="0.9"/>
<circle cx="195.7" cy="190.4" r="0.5" fill="#222" opacity="0.9"/>
<circle cx="201.0" cy="190.6" r="0.5" fill="#222" opacity="0.9"/>
<circle cx="197.1" cy="191.0" r="0.5" fill="#222" opacity="0.9"/>
<circle cx="206.9" cy="181.6" r="0.5" fill="#222" opacity="0.9"/>
<circle cx="193.1" cy="200.7" r="0.5" fill="#222" opacity="0.9"/>
<circle cx="211.3" cy="175.1" r="0.5" fill="#222" opacity="0.9"/>
<circle cx="214.9" cy="172.3" r="0.5" fill="#222" opacity="0.9"/>
<circle cx="197.2" cy="192.3" r="0.5" fill="#222" opacity="0.9"/>
<circle cx="205.3" cy="184.5" r="0.5" fill="#222" opacity="0.9"/>
<circle cx="209.8" cy="177.7" r="0.5" fill="#222" opacity="0.9"/>
<circle cx="210.7" cy="175.6" r="0.5" fill="#222" opacity="0.9"/>
<circle cx="192.4" cy="196.2" r="0.5" fill="#222" opacity="0.9"/>
<circle cx="217.7" cy="173.4" r="0.5" fill="#222" opacity="0.9"/>
<circle cx="206.4" cy="180.9" r="0.5" fill="#222" opacity="0.9"/>
<circle cx="198.8" cy="186.8" r="0.5" fill="#222" opacity="0.9"/>
<circle cx="215.3" cy="172.7" r="0.5" fill="#222" opacity="0.9"/>
<circle cx="199.5" cy="187.6" r="0.5" fill="#222" opacity="0.9"/>
<circle cx="211.3" cy="176.2" r="0.5" fill="#222" opacity="0.9"/>
<circle cx="214.1" cy="175.3" r="0.5" fill="#222" opacity="0.9"/>
<circle cx="202.6" cy="183.0" r="0.5" fill="#222" opacity="0.9"/>
<circle cx="214.1" cy="173.6" r="0.5" fill="#222" opacity="0.9"/>
<circle cx="193.4" cy="195.9" r="0.5" fill="#222" opacity="0.9"/>
<circle cx="201.5" cy="188.4" r="0.5" fill="#222" opacity="0.9"/>
<circle cx="204.6" cy="186.4" r="0.5" fill="#222" opacity="0.9"/>
<circle cx="204.2" cy="181.9" r="0.5" fill="#222" opacity="0.9"/>
<circle cx="200.1" cy="187.5" r="0.5" fill="#222" opacity="0.9"/>
<circle cx="212.4" cy="175.1" r="0.5" fill="#222" opacity="0.9"/>
<circle cx="211.6" cy="177.5" r="0.5" fill="#222" opacity="0.9"/>
<circle cx="207.6" cy="180.0" r="0.5" fill="#222" opacity="0.9"/>
<circle cx="207.9" cy="175.8" r="0.5" fill="#222" opacity="0.9"/>
<circle cx="214.3" cy="173.9" r="0.5" fill="#222" opacity="0.9"/>
<circle cx="210.8" cy="179.1" r="0.5" fill="#222" opacity="0.9"/>
<circle cx="212.2" cy="173.1" r="0.5" fill="#222" opacity="0.9"/>
<circle cx="193.0" cy="195.7" r="0.5" fill="#222" opacity="0.9"/>
<circle cx="204.8" cy="180.6" r="0.5" fill="#222" opacity="0.9"/>
<circle cx="198.9" cy="193.4" r="0.5" fill="#222" opacity="0.9"/>
<circle cx="212.9" cy="176.7" r="0.5" fill="#222" opacity="0.9"/>
<circle cx="197.6" cy="192.3" r="0.5" fill="#222" opacity="0.9"/>
<circle cx="193.3" cy="198.0" r="0.5" fill="#222" opacity="0.9"/>
<circle cx="210.3" cy="182.3" r="0.5" fill="#222" opacity="0.9"/>
<circle cx="199.4" cy="189.3" r="0.5" fill="#222" opacity="0.9"/>
<circle cx="210.9" cy="181.6" r="0.5" fill="#222" opacity="0.9"/>
<circle cx="199.8" cy="191.5" r="0.5" fill="#222" opacity="0.9"/>
<circle cx="189.7" cy="199.5" r="0.5" fill="#222" opacity="0.9"/>
<circle cx="197.0" cy="191.6" r="0.5" fill="#222" opacity="0.9"/>
<circle cx="190.2" cy="197.0" r="0.5" fill="#222" opacity="0.9"/>
<circle cx="212.3" cy="177.1" r="0.5" fill="#222" opacity="0.9"/>
<circle cx="191.3" cy="199.1" r="0.5" fill="#222" opacity="0.9"/>
<circle cx="195.6" cy="193.0" r="0.5" fill="#222" opacity="0.9"/>
<circle cx="206.4" cy="181.2" r="0.5" fill="#222" opacity="0.9"/>
<circle cx="206.2" cy="184.3" r="0.5" fill="#222" opacity="0.9"/>
<circle cx="210.4" cy="193.0" r="0.45" fill="#666" opacity="0.85"/>
<circle cx="213.8" cy="189.5" r="0.45" fill="#666" opacity="0.85"/>
<circle cx="213.8" cy="189.8" r="0.45" fill="#666" opacity="0.85"/>
<circle cx="213.6" cy="190.1" r="0.45" fill="#666" opacity="0.85"/>
<circle cx="208.8" cy="193.4" r="0.45" fill="#666" opacity="0.85"/>
<circle cx="209.4" cy="193.7" r="0.45" fill="#666" opacity="0.85"/>
<circle cx="212.7" cy="190.8" r="0.45" fill="#666" opacity="0.85"/>
<circle cx="210.9" cy="191.4" r="0.45" fill="#666" opacity="0.85"/>
<circle cx="211.8" cy="191.2" r="0.45" fill="#666" opacity="0.85"/>
<circle cx="214.1" cy="189.5" r="0.45" fill="#666" opacity="0.85"/>
<circle cx="215.3" cy="189.4" r="0.45" fill="#666" opacity="0.85"/>
<circle cx="210.1" cy="191.2" r="0.45" fill="#666" opacity="0.85"/>
<circle cx="215.3" cy="189.5" r="0.45" fill="#666" opacity="0.85"/>
<circle cx="210.0" cy="193.6" r="0.45" fill="#666" opacity="0.85"/>
<circle cx="211.5" cy="191.4" r="0.45" fill="#666" opacity="0.85"/>
<circle cx="211.2" cy="191.1" r="0.45" fill="#666" opacity="0.85"/>
<circle cx="211.2" cy="192.5" r="0.45" fill="#666" opacity="0.85"/>
<circle cx="211.1" cy="193.0" r="0.45" fill="#666" opacity="0.85"/>
<circle cx="210.1" cy="193.0" r="0.45" fill="#666" opacity="0.85"/>
<circle cx="211.2" cy="191.3" r="0.45" fill="#666" opacity="0.85"/>
<circle cx="210.1" cy="192.9" r="0.45" fill="#666" opacity="0.85"/>
<circle cx="210.4" cy="192.4" r="0.45" fill="#666" opacity="0.85"/>
<circle cx="212.1" cy="190.8" r="0.45" fill="#666" opacity="0.85"/>
<circle cx="212.5" cy="189.1" r="0.45" fill="#666" opacity="0.85"/>
<circle cx="215.2" cy="189.9" r="0.45" fill="#666" opacity="0.85"/>
<circle cx="213.0" cy="190.0" r="0.45" fill="#666" opacity="0.85"/>
<circle cx="209.4" cy="193.7" r="0.45" fill="#666" opacity="0.85"/>
<circle cx="214.2" cy="189.8" r="0.45" fill="#666" opacity="0.85"/>
<circle cx="213.1" cy="190.1" r="0.45" fill="#666" opacity="0.85"/>
<circle cx="210.9" cy="192.0" r="0.45" fill="#666" opacity="0.85"/>
<circle cx="209.2" cy="192.2" r="0.45" fill="#666" opacity="0.85"/>
<circle cx="210.0" cy="191.4" r="0.45" fill="#666" opacity="0.85"/>
<circle cx="209.4" cy="194.0" r="0.45" fill="#666" opacity="0.85"/>
<circle cx="214.7" cy="189.9" r="0.45" fill="#666" opacity="0.85"/>
<circle cx="213.7" cy="189.8" r="0.45" fill="#666" opacity="0.85"/>
<circle cx="209.7" cy="193.5" r="0.45" fill="#666" opacity="0.85"/>
<circle cx="210.0" cy="193.3" r="0.45" fill="#666" opacity="0.85"/>
<circle cx="214.5" cy="188.5" r="0.45" fill="#666" opacity="0.85"/>
<circle cx="214.6" cy="189.6" r="0.45" fill="#666" opacity="0.85"/>
<circle cx="213.5" cy="189.4" r="0.45" fill="#666" opacity="0.85"/>
<polygon points="177.3,215.0 185.4,208.0 193.5,202.6 201.5,197.8 208.0,194.6 214.9,189.8 215.4,190.4 214.1,191.8 206.9,198.2 198.8,205.2 190.8,211.7 185.4,216.0 181.2,219.7 178.4,223.5 177.5,224.8 177.2,224.8" fill="#050505" stroke="#050505" stroke-width="0.9" stroke-linejoin="round" filter="url(#b04)"/>
<circle cx="179.1" cy="211.0" r="0.5" fill="#222" opacity="0.60"/>
<circle cx="198.3" cy="198.9" r="0.5" fill="#222" opacity="0.50"/>
<circle cx="207.3" cy="198.2" r="0.5" fill="#222" opacity="0.71"/>
<circle cx="210.9" cy="196.6" r="0.5" fill="#222" opacity="0.72"/>
<circle cx="184.3" cy="217.1" r="0.5" fill="#222" opacity="0.94"/>
<circle cx="203.4" cy="201.7" r="0.5" fill="#222" opacity="0.99"/>
<circle cx="181.6" cy="220.5" r="0.5" fill="#222" opacity="0.80"/>
<circle cx="213.1" cy="189.5" r="0.5" fill="#222" opacity="0.58"/>
<circle cx="184.7" cy="216.8" r="0.5" fill="#222" opacity="0.83"/>
<circle cx="197.3" cy="200.1" r="0.5" fill="#222" opacity="0.74"/>
<circle cx="208.9" cy="196.5" r="0.5" fill="#222" opacity="0.83"/>
<circle cx="179.3" cy="212.7" r="0.5" fill="#222" opacity="0.63"/>
<circle cx="196.6" cy="208.2" r="0.5" fill="#222" opacity="0.86"/>
<circle cx="214.1" cy="192.4" r="0.5" fill="#222" opacity="0.81"/>
<circle cx="207.9" cy="192.6" r="0.5" fill="#222" opacity="0.54"/>
<circle cx="181.0" cy="221.6" r="0.5" fill="#222" opacity="0.59"/>
<circle cx="209.2" cy="196.3" r="0.5" fill="#222" opacity="0.53"/>
<circle cx="206.8" cy="195.2" r="0.5" fill="#222" opacity="0.70"/>
<circle cx="197.1" cy="206.7" r="0.5" fill="#222" opacity="0.94"/>
<circle cx="184.2" cy="217.1" r="0.5" fill="#222" opacity="0.61"/>
<circle cx="193.4" cy="202.5" r="0.5" fill="#222" opacity="0.96"/>
<circle cx="200.7" cy="197.6" r="0.5" fill="#222" opacity="0.71"/>
<circle cx="195.3" cy="200.6" r="0.5" fill="#222" opacity="0.80"/>
<circle cx="208.7" cy="197.7" r="0.5" fill="#222" opacity="0.69"/>
<circle cx="209.6" cy="193.1" r="0.5" fill="#222" opacity="0.53"/>
<circle cx="178.5" cy="224.4" r="0.5" fill="#222" opacity="0.60"/>
<circle cx="205.2" cy="194.2" r="0.5" fill="#222" opacity="0.58"/>
<circle cx="207.5" cy="197.7" r="0.5" fill="#222" opacity="0.58"/>
<circle cx="179.5" cy="222.2" r="0.5" fill="#222" opacity="0.86"/>
<circle cx="210.0" cy="192.0" r="0.5" fill="#222" opacity="0.75"/>
<circle cx="182.4" cy="220.7" r="0.5" fill="#222" opacity="0.97"/>
<circle cx="210.4" cy="196.9" r="0.5" fill="#222" opacity="0.74"/>
<circle cx="178.5" cy="213.3" r="0.5" fill="#222" opacity="0.65"/>
<circle cx="203.7" cy="196.1" r="0.5" fill="#222" opacity="0.84"/>
<circle cx="197.1" cy="206.6" r="0.5" fill="#222" opacity="0.69"/>
<circle cx="196.4" cy="207.5" r="0.5" fill="#222" opacity="0.83"/>
<circle cx="182.9" cy="218.3" r="0.5" fill="#222" opacity="0.56"/>
<circle cx="191.9" cy="211.1" r="0.5" fill="#222" opacity="0.51"/>
<circle cx="191.5" cy="202.4" r="0.5" fill="#222" opacity="0.69"/>
<circle cx="190.3" cy="203.4" r="0.5" fill="#222" opacity="0.83"/>
<circle cx="180.5" cy="211.8" r="0.5" fill="#222" opacity="0.75"/>
<circle cx="188.0" cy="214.5" r="0.5" fill="#222" opacity="0.81"/>
<circle cx="179.2" cy="211.8" r="0.5" fill="#222" opacity="0.97"/>
<circle cx="177.7" cy="212.3" r="0.5" fill="#222" opacity="0.58"/>
<circle cx="195.2" cy="208.8" r="0.5" fill="#222" opacity="0.75"/>
<circle cx="184.0" cy="218.6" r="0.5" fill="#222" opacity="0.86"/>
<circle cx="202.7" cy="202.1" r="0.5" fill="#222" opacity="0.53"/>
<circle cx="194.6" cy="210.3" r="0.5" fill="#222" opacity="0.78"/>
<circle cx="207.4" cy="198.4" r="0.5" fill="#222" opacity="0.52"/>
<circle cx="207.7" cy="198.3" r="0.5" fill="#222" opacity="0.76"/>
<circle cx="183.0" cy="208.0" r="0.5" fill="#222" opacity="0.91"/>
<circle cx="212.1" cy="194.3" r="0.5" fill="#222" opacity="0.81"/>
<circle cx="193.5" cy="202.5" r="0.5" fill="#222" opacity="0.93"/>
<circle cx="207.6" cy="200.0" r="0.5" fill="#222" opacity="0.81"/>
<circle cx="209.3" cy="196.8" r="0.5" fill="#222" opacity="0.61"/>
<circle cx="185.3" cy="207.9" r="0.5" fill="#222" opacity="0.67"/>
<circle cx="209.8" cy="196.4" r="0.5" fill="#222" opacity="0.93"/>
<circle cx="183.9" cy="217.5" r="0.5" fill="#222" opacity="0.71"/>
<circle cx="192.6" cy="210.4" r="0.5" fill="#222" opacity="0.97"/>
<circle cx="197.9" cy="208.6" r="0.5" fill="#222" opacity="0.53"/>
<circle cx="203.0" cy="196.2" r="0.5" fill="#222" opacity="0.74"/>
<circle cx="184.1" cy="206.2" r="0.5" fill="#222" opacity="0.63"/>
<circle cx="207.2" cy="193.1" r="0.5" fill="#222" opacity="0.63"/>
<circle cx="199.7" cy="205.1" r="0.5" fill="#222" opacity="0.76"/>
<circle cx="195.2" cy="200.4" r="0.5" fill="#222" opacity="0.94"/>
<circle cx="184.0" cy="217.9" r="0.5" fill="#222" opacity="0.97"/>
<circle cx="183.5" cy="209.5" r="0.5" fill="#222" opacity="0.89"/>
<circle cx="193.4" cy="209.8" r="0.5" fill="#222" opacity="0.70"/>
<circle cx="187.0" cy="205.9" r="0.5" fill="#222" opacity="0.53"/>
<circle cx="211.8" cy="191.8" r="0.5" fill="#222" opacity="0.99"/>
<circle cx="200.0" cy="204.5" r="0.5" fill="#222" opacity="0.99"/>
<circle cx="207.3" cy="200.9" r="0.5" fill="#222" opacity="0.99"/>
<circle cx="181.3" cy="220.6" r="0.5" fill="#222" opacity="0.91"/>
<circle cx="178.5" cy="224.2" r="0.5" fill="#222" opacity="0.57"/>
<circle cx="215.0" cy="189.3" r="0.5" fill="#222" opacity="0.62"/>
<circle cx="185.9" cy="205.2" r="0.5" fill="#222" opacity="0.95"/>
<circle cx="187.6" cy="214.3" r="0.5" fill="#222" opacity="0.80"/>
<circle cx="204.8" cy="201.2" r="0.5" fill="#222" opacity="0.54"/>
<circle cx="200.3" cy="204.4" r="0.5" fill="#222" opacity="0.55"/>
<circle cx="203.7" cy="202.1" r="0.5" fill="#222" opacity="0.81"/>
<circle cx="201.0" cy="204.2" r="0.5" fill="#222" opacity="0.73"/>
<circle cx="213.9" cy="190.3" r="0.5" fill="#222" opacity="0.59"/>
<circle cx="183.7" cy="208.7" r="0.5" fill="#222" opacity="0.62"/>
<circle cx="194.0" cy="201.6" r="0.5" fill="#222" opacity="0.74"/>
<circle cx="197.7" cy="199.6" r="0.5" fill="#222" opacity="0.74"/>
<circle cx="190.8" cy="213.0" r="0.5" fill="#222" opacity="0.96"/>
<circle cx="179.7" cy="223.0" r="0.5" fill="#222" opacity="0.91"/>
<circle cx="212.4" cy="193.8" r="0.5" fill="#222" opacity="0.57"/>
<circle cx="199.8" cy="205.1" r="0.5" fill="#222" opacity="0.92"/>
<circle cx="185.7" cy="207.7" r="0.5" fill="#222" opacity="0.61"/>
<polygon points="188.0,201.8 196.0,195.2 204.0,187.8 205.2,189.0 197.0,196.8 189.2,203.0" fill="#222" filter="url(#b05)"/>
<text x="209.00" y="141.70" font-size="8.8" text-anchor="start" font-weight="normal" fill="#1a1a1a" stroke="#1a1a1a" stroke-width="0.15" >C01</text>
<text x="216.80" y="183.50" font-size="8.6" text-anchor="start" font-weight="normal" fill="#1a1a1a" stroke="#1a1a1a" stroke-width="0.3" >R1</text>
<text x="220.90" y="202.30" font-size="10.6" text-anchor="start" font-weight="normal" fill="#111" stroke="#111" stroke-width="0.45" >NT</text>
<text x="219.10" y="215.50" font-size="10.9" text-anchor="start" font-weight="normal" fill="#111" stroke="#111" stroke-width="0.45" >+ I-SceI</text>
<text x="177.00" y="236.30" font-size="8.4" text-anchor="middle" font-weight="normal" fill="#1a1a1a" stroke="#1a1a1a" stroke-width="0.3" >10</text>
<text x="181.60" y="232.60" font-size="5.4" text-anchor="start" font-weight="normal" fill="#1a1a1a" stroke="#1a1a1a" stroke-width="0.3" >0</text>
<text x="199.07" y="236.30" font-size="8.4" text-anchor="middle" font-weight="normal" fill="#1a1a1a" stroke="#1a1a1a" stroke-width="0.3" >10</text>
<text x="203.67" y="232.60" font-size="5.4" text-anchor="start" font-weight="normal" fill="#1a1a1a" stroke="#1a1a1a" stroke-width="0.3" >1</text>
<text x="221.15" y="236.30" font-size="8.4" text-anchor="middle" font-weight="normal" fill="#1a1a1a" stroke="#1a1a1a" stroke-width="0.3" >10</text>
<text x="225.75" y="232.60" font-size="5.4" text-anchor="start" font-weight="normal" fill="#1a1a1a" stroke="#1a1a1a" stroke-width="0.3" >2</text>
<text x="243.23" y="236.30" font-size="8.4" text-anchor="middle" font-weight="normal" fill="#1a1a1a" stroke="#1a1a1a" stroke-width="0.3" >10</text>
<text x="247.83" y="232.60" font-size="5.4" text-anchor="start" font-weight="normal" fill="#1a1a1a" stroke="#1a1a1a" stroke-width="0.3" >3</text>
<text x="265.30" y="236.30" font-size="8.4" text-anchor="middle" font-weight="normal" fill="#1a1a1a" stroke="#1a1a1a" stroke-width="0.3" >10</text>
<text x="269.90" y="232.60" font-size="5.4" text-anchor="start" font-weight="normal" fill="#1a1a1a" stroke="#1a1a1a" stroke-width="0.3" >4</text>
<text x="197.50" y="244.40" font-size="8.8" text-anchor="start" font-weight="normal" fill="#1a1a1a" stroke="#1a1a1a" stroke-width="0.3" >FL2-Height</text>
<g transform="translate(173.00,225.00) rotate(-90)">
<text x="0" y="0" font-size="8.4" text-anchor="middle" fill="#1a1a1a">10</text>
<text x="4.6" y="-3.7" font-size="5.4" fill="#1a1a1a">0</text>
</g>
<g transform="translate(173.00,204.68) rotate(-90)">
<text x="0" y="0" font-size="8.4" text-anchor="middle" fill="#1a1a1a">10</text>
<text x="4.6" y="-3.7" font-size="5.4" fill="#1a1a1a">1</text>
</g>
<g transform="translate(173.00,184.35) rotate(-90)">
<text x="0" y="0" font-size="8.4" text-anchor="middle" fill="#1a1a1a">10</text>
<text x="4.6" y="-3.7" font-size="5.4" fill="#1a1a1a">2</text>
</g>
<g transform="translate(173.00,164.02) rotate(-90)">
<text x="0" y="0" font-size="8.4" text-anchor="middle" fill="#1a1a1a">10</text>
<text x="4.6" y="-3.7" font-size="5.4" fill="#1a1a1a">3</text>
</g>
<g transform="translate(173.00,143.70) rotate(-90)">
<text x="0" y="0" font-size="8.4" text-anchor="middle" fill="#1a1a1a">10</text>
<text x="4.6" y="-3.7" font-size="5.4" fill="#1a1a1a">4</text>
</g>
<g transform="translate(161.00,184.35) rotate(-90)"><text x="0" y="0" font-size="8.8" text-anchor="middle" fill="#1a1a1a">FL1-Height</text></g>
<rect x="291.3" y="144.7" width="92.90" height="79.80" fill="none" stroke="#555" stroke-width="0.85"/>
<path d="M291.3,144.7 L291.3,224.5 L384.2,224.5" fill="none" stroke="#111" stroke-width="1.1"/>
<path d="M291.30,224.5 v2.6 M291.3,224.50 h-2.6 M298.29,224.5 v1.4 M291.3,218.49 h-1.4 M302.38,224.5 v1.4 M291.3,214.98 h-1.4 M305.28,224.5 v1.4 M291.3,212.49 h-1.4 M307.53,224.5 v1.4 M291.3,210.56 h-1.4 M309.37,224.5 v1.4 M291.3,208.98 h-1.4 M310.93,224.5 v1.4 M291.3,207.64 h-1.4 M312.27,224.5 v1.4 M291.3,206.48 h-1.4 M313.46,224.5 v1.4 M291.3,205.46 h-1.4 M314.52,224.5 v2.6 M291.3,204.55 h-2.6 M321.52,224.5 v1.4 M291.3,198.54 h-1.4 M325.61,224.5 v1.4 M291.3,195.03 h-1.4 M328.51,224.5 v1.4 M291.3,192.54 h-1.4 M330.76,224.5 v1.4 M291.3,190.61 h-1.4 M332.60,224.5 v1.4 M291.3,189.03 h-1.4 M334.15,224.5 v1.4 M291.3,187.69 h-1.4 M335.50,224.5 v1.4 M291.3,186.53 h-1.4 M336.69,224.5 v1.4 M291.3,185.51 h-1.4 M337.75,224.5 v2.6 M291.3,184.60 h-2.6 M344.74,224.5 v1.4 M291.3,178.59 h-1.4 M348.83,224.5 v1.4 M291.3,175.08 h-1.4 M351.73,224.5 v1.4 M291.3,172.59 h-1.4 M353.98,224.5 v1.4 M291.3,170.66 h-1.4 M355.82,224.5 v1.4 M291.3,169.08 h-1.4 M357.38,224.5 v1.4 M291.3,167.74 h-1.4 M358.72,224.5 v1.4 M291.3,166.58 h-1.4 M359.91,224.5 v1.4 M291.3,165.56 h-1.4 M360.98,224.5 v2.6 M291.3,164.65 h-2.6 M367.97,224.5 v1.4 M291.3,158.64 h-1.4 M372.06,224.5 v1.4 M291.3,155.13 h-1.4 M374.96,224.5 v1.4 M291.3,152.64 h-1.4 M377.21,224.5 v1.4 M291.3,150.71 h-1.4 M379.05,224.5 v1.4 M291.3,149.13 h-1.4 M380.60,224.5 v1.4 M291.3,147.79 h-1.4 M381.95,224.5 v1.4 M291.3,146.63 h-1.4 M383.14,224.5 v1.4 M291.3,145.61 h-1.4 M384.20,224.5 v2.6 M291.3,144.7 h-2.6" stroke="#222" stroke-width="0.7" fill="none"/>
<path d="M291.3,204.8 L303.0,204.8 L379.0,151.3 L291.3,151.3" fill="none" stroke="#1a1a1a" stroke-width="0.9"/>
<circle cx="297.3" cy="212.0" r="0.5" fill="#666" opacity="0.8"/>
<circle cx="294.8" cy="217.0" r="0.5" fill="#666" opacity="0.8"/>
<circle cx="301.0" cy="214.2" r="0.5" fill="#666" opacity="0.8"/>
<circle cx="293.2" cy="215.7" r="0.5" fill="#666" opacity="0.8"/>
<circle cx="293.3" cy="218.3" r="0.5" fill="#666" opacity="0.8"/>
<circle cx="298.8" cy="212.0" r="0.5" fill="#666" opacity="0.8"/>
<circle cx="297.1" cy="213.0" r="0.5" fill="#666" opacity="0.8"/>
<circle cx="298.8" cy="214.4" r="0.5" fill="#666" opacity="0.8"/>
<circle cx="292.8" cy="216.6" r="0.5" fill="#666" opacity="0.8"/>
<circle cx="299.3" cy="214.9" r="0.5" fill="#666" opacity="0.8"/>
<circle cx="297.7" cy="214.9" r="0.5" fill="#666" opacity="0.8"/>
<circle cx="295.3" cy="217.4" r="0.5" fill="#666" opacity="0.8"/>
<circle cx="292.3" cy="217.9" r="0.5" fill="#666" opacity="0.8"/>
<circle cx="298.3" cy="210.6" r="0.5" fill="#666" opacity="0.8"/>
<circle cx="298.0" cy="215.5" r="0.5" fill="#666" opacity="0.8"/>
<circle cx="296.0" cy="214.3" r="0.5" fill="#666" opacity="0.8"/>
<circle cx="292.4" cy="214.5" r="0.5" fill="#666" opacity="0.8"/>
<circle cx="297.0" cy="215.6" r="0.5" fill="#666" opacity="0.8"/>
<circle cx="292.6" cy="218.6" r="0.5" fill="#666" opacity="0.8"/>
<circle cx="298.0" cy="214.5" r="0.5" fill="#666" opacity="0.8"/>
<circle cx="294.0" cy="212.7" r="0.5" fill="#666" opacity="0.8"/>
<circle cx="298.7" cy="213.2" r="0.5" fill="#666" opacity="0.8"/>
<circle cx="295.3" cy="219.8" r="0.5" fill="#666" opacity="0.8"/>
<circle cx="297.5" cy="214.5" r="0.5" fill="#666" opacity="0.8"/>
<circle cx="297.3" cy="213.5" r="0.5" fill="#666" opacity="0.8"/>
<circle cx="311.7" cy="194.6" r="0.5" fill="#888" opacity="0.9"/>
<circle cx="321.1" cy="185.1" r="0.5" fill="#888" opacity="0.9"/>
<circle cx="302.8" cy="201.6" r="0.5" fill="#888" opacity="0.9"/>
<circle cx="322.0" cy="182.5" r="0.5" fill="#888" opacity="0.9"/>
<circle cx="317.9" cy="188.2" r="0.5" fill="#888" opacity="0.9"/>
<circle cx="326.6" cy="186.6" r="0.5" fill="#888" opacity="0.9"/>
<circle cx="318.1" cy="183.2" r="0.5" fill="#888" opacity="0.9"/>
<circle cx="297.6" cy="197.7" r="0.5" fill="#888" opacity="0.9"/>
<circle cx="330.8" cy="190.8" r="0.45" fill="#666" opacity="0.85"/>
<circle cx="330.0" cy="191.8" r="0.45" fill="#666" opacity="0.85"/>
<circle cx="328.7" cy="191.5" r="0.45" fill="#666" opacity="0.85"/>
<circle cx="328.6" cy="190.8" r="0.45" fill="#666" opacity="0.85"/>
<circle cx="331.8" cy="189.2" r="0.45" fill="#666" opacity="0.85"/>
<circle cx="333.7" cy="188.9" r="0.45" fill="#666" opacity="0.85"/>
<circle cx="330.2" cy="191.6" r="0.45" fill="#666" opacity="0.85"/>
<circle cx="330.9" cy="190.9" r="0.45" fill="#666" opacity="0.85"/>
<circle cx="329.5" cy="192.2" r="0.45" fill="#666" opacity="0.85"/>
<circle cx="331.9" cy="188.9" r="0.45" fill="#666" opacity="0.85"/>
<circle cx="332.3" cy="188.3" r="0.45" fill="#666" opacity="0.85"/>
<circle cx="329.6" cy="192.0" r="0.45" fill="#666" opacity="0.85"/>
<circle cx="333.4" cy="187.9" r="0.45" fill="#666" opacity="0.85"/>
<circle cx="331.9" cy="190.6" r="0.45" fill="#666" opacity="0.85"/>
<circle cx="330.1" cy="191.6" r="0.45" fill="#666" opacity="0.85"/>
<circle cx="333.3" cy="187.2" r="0.45" fill="#666" opacity="0.85"/>
<circle cx="331.3" cy="189.8" r="0.45" fill="#666" opacity="0.85"/>
<circle cx="330.4" cy="190.4" r="0.45" fill="#666" opacity="0.85"/>
<circle cx="330.9" cy="189.6" r="0.45" fill="#666" opacity="0.85"/>
<circle cx="329.9" cy="190.4" r="0.45" fill="#666" opacity="0.85"/>
<circle cx="330.4" cy="191.4" r="0.45" fill="#666" opacity="0.85"/>
<circle cx="329.3" cy="190.8" r="0.45" fill="#666" opacity="0.85"/>
<circle cx="329.4" cy="191.8" r="0.45" fill="#666" opacity="0.85"/>
<circle cx="330.6" cy="191.2" r="0.45" fill="#666" opacity="0.85"/>
<circle cx="332.8" cy="188.9" r="0.45" fill="#666" opacity="0.85"/>
<circle cx="330.8" cy="191.2" r="0.45" fill="#666" opacity="0.85"/>
<circle cx="333.5" cy="188.8" r="0.45" fill="#666" opacity="0.85"/>
<circle cx="333.4" cy="189.5" r="0.45" fill="#666" opacity="0.85"/>
<circle cx="332.2" cy="189.7" r="0.45" fill="#666" opacity="0.85"/>
<circle cx="331.2" cy="189.8" r="0.45" fill="#666" opacity="0.85"/>
<circle cx="329.6" cy="190.9" r="0.45" fill="#666" opacity="0.85"/>
<circle cx="332.7" cy="189.4" r="0.45" fill="#666" opacity="0.85"/>
<circle cx="333.5" cy="188.8" r="0.45" fill="#666" opacity="0.85"/>
<circle cx="331.4" cy="189.1" r="0.45" fill="#666" opacity="0.85"/>
<circle cx="331.4" cy="190.0" r="0.45" fill="#666" opacity="0.85"/>
<circle cx="330.9" cy="190.4" r="0.45" fill="#666" opacity="0.85"/>
<circle cx="330.7" cy="190.6" r="0.45" fill="#666" opacity="0.85"/>
<circle cx="329.9" cy="192.7" r="0.45" fill="#666" opacity="0.85"/>
<circle cx="332.3" cy="189.4" r="0.45" fill="#666" opacity="0.85"/>
<circle cx="329.9" cy="191.6" r="0.45" fill="#666" opacity="0.85"/>
<polygon points="291.6,218.5 296.0,214.6 301.4,210.6 309.5,204.3 317.5,199.3 324.0,195.8 331.5,190.3 332.2,190.8 329.0,194.5 324.0,199.1 317.5,203.4 309.5,208.8 302.5,213.6 297.0,219.0 293.5,224.3 291.6,224.3" fill="#050505" stroke="#050505" stroke-width="0.9" stroke-linejoin="round" filter="url(#b04)"/>
<circle cx="301.7" cy="207.9" r="0.5" fill="#222" opacity="0.68"/>
<circle cx="318.6" cy="202.9" r="0.5" fill="#222" opacity="0.80"/>
<circle cx="297.9" cy="212.6" r="0.5" fill="#222" opacity="0.78"/>
<circle cx="313.1" cy="206.5" r="0.5" fill="#222" opacity="0.57"/>
<circle cx="308.9" cy="204.1" r="0.5" fill="#222" opacity="0.76"/>
<circle cx="303.5" cy="208.6" r="0.5" fill="#222" opacity="0.83"/>
<circle cx="318.9" cy="204.5" r="0.5" fill="#222" opacity="0.56"/>
<circle cx="319.1" cy="205.0" r="0.5" fill="#222" opacity="0.68"/>
<circle cx="314.4" cy="200.5" r="0.5" fill="#222" opacity="0.74"/>
<circle cx="329.0" cy="188.9" r="0.5" fill="#222" opacity="0.73"/>
<circle cx="296.7" cy="220.6" r="0.5" fill="#222" opacity="0.66"/>
<circle cx="303.6" cy="208.4" r="0.5" fill="#222" opacity="0.92"/>
<circle cx="295.1" cy="222.5" r="0.5" fill="#222" opacity="0.87"/>
<circle cx="309.9" cy="208.8" r="0.5" fill="#222" opacity="0.95"/>
<circle cx="305.2" cy="207.0" r="0.5" fill="#222" opacity="1.00"/>
<circle cx="324.1" cy="194.6" r="0.5" fill="#222" opacity="0.50"/>
<circle cx="301.1" cy="215.0" r="0.5" fill="#222" opacity="0.98"/>
<circle cx="323.3" cy="194.7" r="0.5" fill="#222" opacity="0.52"/>
<circle cx="293.5" cy="216.0" r="0.5" fill="#222" opacity="0.88"/>
<circle cx="320.3" cy="195.4" r="0.5" fill="#222" opacity="0.82"/>
<circle cx="327.7" cy="192.6" r="0.5" fill="#222" opacity="0.87"/>
<circle cx="319.5" cy="197.7" r="0.5" fill="#222" opacity="0.88"/>
<circle cx="313.1" cy="208.3" r="0.5" fill="#222" opacity="0.56"/>
<circle cx="320.0" cy="203.6" r="0.5" fill="#222" opacity="0.74"/>
<circle cx="298.1" cy="211.9" r="0.5" fill="#222" opacity="0.60"/>
<circle cx="309.2" cy="204.1" r="0.5" fill="#222" opacity="0.56"/>
<circle cx="327.6" cy="192.3" r="0.5" fill="#222" opacity="0.51"/>
<circle cx="300.1" cy="216.5" r="0.5" fill="#222" opacity="0.57"/>
<circle cx="321.6" cy="196.1" r="0.5" fill="#222" opacity="0.84"/>
<circle cx="311.8" cy="202.3" r="0.5" fill="#222" opacity="0.85"/>
<circle cx="302.0" cy="214.1" r="0.5" fill="#222" opacity="0.54"/>
<circle cx="331.5" cy="190.2" r="0.5" fill="#222" opacity="0.79"/>
<circle cx="322.0" cy="196.2" r="0.5" fill="#222" opacity="0.76"/>
<circle cx="305.7" cy="206.9" r="0.5" fill="#222" opacity="0.99"/>
<circle cx="306.5" cy="211.1" r="0.5" fill="#222" opacity="0.87"/>
<circle cx="302.8" cy="214.3" r="0.5" fill="#222" opacity="0.89"/>
<circle cx="323.3" cy="202.4" r="0.5" fill="#222" opacity="0.92"/>
<circle cx="317.2" cy="203.7" r="0.5" fill="#222" opacity="0.95"/>
<circle cx="317.6" cy="203.9" r="0.5" fill="#222" opacity="0.92"/>
<circle cx="297.6" cy="213.0" r="0.5" fill="#222" opacity="0.61"/>
<circle cx="307.0" cy="205.6" r="0.5" fill="#222" opacity="0.73"/>
<circle cx="332.6" cy="191.3" r="0.5" fill="#222" opacity="0.60"/>
<circle cx="300.5" cy="211.1" r="0.5" fill="#222" opacity="0.97"/>
<circle cx="303.7" cy="208.7" r="0.5" fill="#222" opacity="0.73"/>
<circle cx="326.5" cy="197.6" r="0.5" fill="#222" opacity="0.77"/>
<circle cx="296.5" cy="212.6" r="0.5" fill="#222" opacity="0.51"/>
<circle cx="296.7" cy="212.8" r="0.5" fill="#222" opacity="0.97"/>
<circle cx="330.3" cy="189.5" r="0.5" fill="#222" opacity="0.83"/>
<circle cx="330.2" cy="189.8" r="0.5" fill="#222" opacity="1.00"/>
<circle cx="310.1" cy="208.4" r="0.5" fill="#222" opacity="0.55"/>
<circle cx="308.6" cy="211.2" r="0.5" fill="#222" opacity="0.51"/>
<circle cx="297.4" cy="222.0" r="0.5" fill="#222" opacity="0.95"/>
<circle cx="330.8" cy="194.0" r="0.5" fill="#222" opacity="0.85"/>
<circle cx="300.7" cy="215.8" r="0.5" fill="#222" opacity="0.72"/>
<circle cx="296.8" cy="213.9" r="0.5" fill="#222" opacity="0.54"/>
<circle cx="306.9" cy="212.7" r="0.5" fill="#222" opacity="0.82"/>
<circle cx="313.4" cy="201.5" r="0.5" fill="#222" opacity="0.74"/>
<circle cx="329.0" cy="194.9" r="0.5" fill="#222" opacity="0.69"/>
<circle cx="311.4" cy="202.9" r="0.5" fill="#222" opacity="0.63"/>
<circle cx="331.4" cy="193.9" r="0.5" fill="#222" opacity="0.72"/>
<circle cx="304.3" cy="212.4" r="0.5" fill="#222" opacity="0.92"/>
<circle cx="313.0" cy="206.5" r="0.5" fill="#222" opacity="0.53"/>
<circle cx="322.9" cy="194.7" r="0.5" fill="#222" opacity="0.62"/>
<circle cx="299.1" cy="211.5" r="0.5" fill="#222" opacity="0.57"/>
<circle cx="295.4" cy="215.0" r="0.5" fill="#222" opacity="0.78"/>
<circle cx="308.3" cy="204.8" r="0.5" fill="#222" opacity="0.63"/>
<circle cx="331.2" cy="193.2" r="0.5" fill="#222" opacity="0.92"/>
<circle cx="313.6" cy="201.5" r="0.5" fill="#222" opacity="0.70"/>
<circle cx="320.7" cy="202.0" r="0.5" fill="#222" opacity="0.80"/>
<circle cx="328.8" cy="191.1" r="0.5" fill="#222" opacity="0.71"/>
<circle cx="325.0" cy="194.3" r="0.5" fill="#222" opacity="0.73"/>
<circle cx="331.6" cy="189.7" r="0.5" fill="#222" opacity="0.72"/>
<circle cx="308.0" cy="204.4" r="0.5" fill="#222" opacity="0.63"/>
<circle cx="311.0" cy="210.2" r="0.5" fill="#222" opacity="0.83"/>
<circle cx="311.1" cy="210.8" r="0.5" fill="#222" opacity="0.62"/>
<circle cx="322.5" cy="201.0" r="0.5" fill="#222" opacity="0.64"/>
<circle cx="308.6" cy="203.2" r="0.5" fill="#222" opacity="0.75"/>
<circle cx="307.5" cy="202.7" r="0.5" fill="#222" opacity="0.61"/>
<circle cx="309.0" cy="209.8" r="0.5" fill="#222" opacity="0.74"/>
<circle cx="301.8" cy="209.8" r="0.5" fill="#222" opacity="0.57"/>
<circle cx="294.0" cy="214.6" r="0.5" fill="#222" opacity="0.85"/>
<circle cx="306.6" cy="213.8" r="0.5" fill="#222" opacity="0.53"/>
<circle cx="306.0" cy="212.6" r="0.5" fill="#222" opacity="0.52"/>
<circle cx="309.9" cy="209.2" r="0.5" fill="#222" opacity="0.64"/>
<circle cx="301.2" cy="215.9" r="0.5" fill="#222" opacity="0.66"/>
<circle cx="299.4" cy="219.3" r="0.5" fill="#222" opacity="0.96"/>
<circle cx="320.3" cy="202.3" r="0.5" fill="#222" opacity="0.76"/>
<circle cx="332.5" cy="191.4" r="0.5" fill="#222" opacity="0.74"/>
<circle cx="312.5" cy="207.9" r="0.5" fill="#222" opacity="0.74"/>
<circle cx="330.4" cy="192.9" r="0.5" fill="#222" opacity="0.80"/>
<text x="323.00" y="143.00" font-size="8.8" text-anchor="start" font-weight="normal" fill="#1a1a1a" stroke="#1a1a1a" stroke-width="0.15" >C02</text>
<text x="330.00" y="184.40" font-size="8.6" text-anchor="start" font-weight="normal" fill="#1a1a1a" stroke="#1a1a1a" stroke-width="0.3" >R1</text>
<text x="341.00" y="202.50" font-size="10.6" text-anchor="start" font-weight="normal" fill="#111" stroke="#111" stroke-width="0.45" >RAD54</text>
<text x="339.80" y="215.20" font-size="10.9" text-anchor="start" font-weight="normal" fill="#111" stroke="#111" stroke-width="0.45" >+ I-SceI</text>
<text x="291.30" y="235.80" font-size="8.4" text-anchor="middle" font-weight="normal" fill="#1a1a1a" stroke="#1a1a1a" stroke-width="0.3" >10</text>
<text x="295.90" y="232.10" font-size="5.4" text-anchor="start" font-weight="normal" fill="#1a1a1a" stroke="#1a1a1a" stroke-width="0.3" >0</text>
<text x="314.52" y="235.80" font-size="8.4" text-anchor="middle" font-weight="normal" fill="#1a1a1a" stroke="#1a1a1a" stroke-width="0.3" >10</text>
<text x="319.12" y="232.10" font-size="5.4" text-anchor="start" font-weight="normal" fill="#1a1a1a" stroke="#1a1a1a" stroke-width="0.3" >1</text>
<text x="337.75" y="235.80" font-size="8.4" text-anchor="middle" font-weight="normal" fill="#1a1a1a" stroke="#1a1a1a" stroke-width="0.3" >10</text>
<text x="342.35" y="232.10" font-size="5.4" text-anchor="start" font-weight="normal" fill="#1a1a1a" stroke="#1a1a1a" stroke-width="0.3" >2</text>
<text x="360.98" y="235.80" font-size="8.4" text-anchor="middle" font-weight="normal" fill="#1a1a1a" stroke="#1a1a1a" stroke-width="0.3" >10</text>
<text x="365.58" y="232.10" font-size="5.4" text-anchor="start" font-weight="normal" fill="#1a1a1a" stroke="#1a1a1a" stroke-width="0.3" >3</text>
<text x="384.20" y="235.80" font-size="8.4" text-anchor="middle" font-weight="normal" fill="#1a1a1a" stroke="#1a1a1a" stroke-width="0.3" >10</text>
<text x="388.80" y="232.10" font-size="5.4" text-anchor="start" font-weight="normal" fill="#1a1a1a" stroke="#1a1a1a" stroke-width="0.3" >4</text>
<text x="311.80" y="243.90" font-size="8.8" text-anchor="start" font-weight="normal" fill="#1a1a1a" stroke="#1a1a1a" stroke-width="0.3" >FL2-Height</text>
<g transform="translate(287.30,224.50) rotate(-90)">
<text x="0" y="0" font-size="8.4" text-anchor="middle" fill="#1a1a1a">10</text>
<text x="4.6" y="-3.7" font-size="5.4" fill="#1a1a1a">0</text>
</g>
<g transform="translate(287.30,204.55) rotate(-90)">
<text x="0" y="0" font-size="8.4" text-anchor="middle" fill="#1a1a1a">10</text>
<text x="4.6" y="-3.7" font-size="5.4" fill="#1a1a1a">1</text>
</g>
<g transform="translate(287.30,184.60) rotate(-90)">
<text x="0" y="0" font-size="8.4" text-anchor="middle" fill="#1a1a1a">10</text>
<text x="4.6" y="-3.7" font-size="5.4" fill="#1a1a1a">2</text>
</g>
<g transform="translate(287.30,164.65) rotate(-90)">
<text x="0" y="0" font-size="8.4" text-anchor="middle" fill="#1a1a1a">10</text>
<text x="4.6" y="-3.7" font-size="5.4" fill="#1a1a1a">3</text>
</g>
<g transform="translate(287.30,144.70) rotate(-90)">
<text x="0" y="0" font-size="8.4" text-anchor="middle" fill="#1a1a1a">10</text>
<text x="4.6" y="-3.7" font-size="5.4" fill="#1a1a1a">4</text>
</g>
<g transform="translate(275.30,184.60) rotate(-90)"><text x="0" y="0" font-size="8.8" text-anchor="middle" fill="#1a1a1a">FL1-Height</text></g>
<rect x="409.3" y="146.4" width="85.10" height="77.80" fill="none" stroke="#555" stroke-width="0.85"/>
<path d="M409.3,146.4 L409.3,224.2 L494.4,224.2" fill="none" stroke="#111" stroke-width="1.1"/>
<path d="M409.30,224.2 v2.6 M409.3,224.20 h-2.6 M415.70,224.2 v1.4 M409.3,218.34 h-1.4 M419.45,224.2 v1.4 M409.3,214.92 h-1.4 M422.11,224.2 v1.4 M409.3,212.49 h-1.4 M424.17,224.2 v1.4 M409.3,210.61 h-1.4 M425.86,224.2 v1.4 M409.3,209.06 h-1.4 M427.28,224.2 v1.4 M409.3,207.76 h-1.4 M428.51,224.2 v1.4 M409.3,206.63 h-1.4 M429.60,224.2 v1.4 M409.3,205.64 h-1.4 M430.57,224.2 v2.6 M409.3,204.75 h-2.6 M436.98,224.2 v1.4 M409.3,198.89 h-1.4 M440.73,224.2 v1.4 M409.3,195.47 h-1.4 M443.38,224.2 v1.4 M409.3,193.04 h-1.4 M445.45,224.2 v1.4 M409.3,191.16 h-1.4 M447.13,224.2 v1.4 M409.3,189.61 h-1.4 M448.55,224.2 v1.4 M409.3,188.31 h-1.4 M449.79,224.2 v1.4 M409.3,187.18 h-1.4 M450.88,224.2 v1.4 M409.3,186.19 h-1.4 M451.85,224.2 v2.6 M409.3,185.30 h-2.6 M458.25,224.2 v1.4 M409.3,179.44 h-1.4 M462.00,224.2 v1.4 M409.3,176.02 h-1.4 M464.66,224.2 v1.4 M409.3,173.59 h-1.4 M466.72,224.2 v1.4 M409.3,171.71 h-1.4 M468.41,224.2 v1.4 M409.3,170.16 h-1.4 M469.83,224.2 v1.4 M409.3,168.86 h-1.4 M471.06,224.2 v1.4 M409.3,167.73 h-1.4 M472.15,224.2 v1.4 M409.3,166.74 h-1.4 M473.12,224.2 v2.6 M409.3,165.85 h-2.6 M479.53,224.2 v1.4 M409.3,159.99 h-1.4 M483.28,224.2 v1.4 M409.3,156.57 h-1.4 M485.93,224.2 v1.4 M409.3,154.14 h-1.4 M488.00,224.2 v1.4 M409.3,152.26 h-1.4 M489.68,224.2 v1.4 M409.3,150.71 h-1.4 M491.10,224.2 v1.4 M409.3,149.41 h-1.4 M492.34,224.2 v1.4 M409.3,148.28 h-1.4 M493.43,224.2 v1.4 M409.3,147.29 h-1.4 M494.40,224.2 v2.6 M409.3,146.4 h-2.6" stroke="#222" stroke-width="0.7" fill="none"/>
<path d="M409.3,205.1 L419.4,205.1 L489.3,152.5 L409.3,152.5" fill="none" stroke="#1a1a1a" stroke-width="0.9"/>
<circle cx="442.1" cy="174.8" r="0.5" fill="#333" opacity="0.9"/>
<circle cx="426.0" cy="190.0" r="0.5" fill="#333" opacity="0.9"/>
<circle cx="426.4" cy="194.8" r="0.5" fill="#333" opacity="0.9"/>
<circle cx="430.0" cy="191.7" r="0.5" fill="#333" opacity="0.9"/>
<circle cx="430.8" cy="186.0" r="0.5" fill="#333" opacity="0.9"/>
<circle cx="419.5" cy="201.6" r="0.5" fill="#333" opacity="0.9"/>
<circle cx="424.2" cy="193.8" r="0.5" fill="#333" opacity="0.9"/>
<circle cx="430.9" cy="191.8" r="0.5" fill="#333" opacity="0.9"/>
<circle cx="442.3" cy="179.6" r="0.5" fill="#333" opacity="0.9"/>
<circle cx="444.8" cy="172.7" r="0.5" fill="#333" opacity="0.9"/>
<circle cx="429.8" cy="188.8" r="0.5" fill="#333" opacity="0.9"/>
<circle cx="447.0" cy="173.1" r="0.5" fill="#333" opacity="0.9"/>
<circle cx="423.0" cy="197.5" r="0.5" fill="#333" opacity="0.9"/>
<circle cx="423.4" cy="196.6" r="0.5" fill="#333" opacity="0.9"/>
<circle cx="422.4" cy="201.4" r="0.5" fill="#333" opacity="0.9"/>
<circle cx="441.7" cy="175.4" r="0.5" fill="#333" opacity="0.9"/>
<circle cx="422.0" cy="199.2" r="0.5" fill="#333" opacity="0.9"/>
<circle cx="432.3" cy="185.5" r="0.5" fill="#333" opacity="0.9"/>
<circle cx="423.1" cy="199.8" r="0.5" fill="#333" opacity="0.9"/>
<circle cx="428.1" cy="190.9" r="0.5" fill="#333" opacity="0.9"/>
<circle cx="432.5" cy="186.9" r="0.5" fill="#333" opacity="0.9"/>
<circle cx="441.2" cy="176.3" r="0.5" fill="#333" opacity="0.9"/>
<circle cx="435.7" cy="182.8" r="0.5" fill="#333" opacity="0.9"/>
<circle cx="421.3" cy="199.6" r="0.5" fill="#333" opacity="0.9"/>
<circle cx="433.5" cy="186.2" r="0.5" fill="#333" opacity="0.9"/>
<circle cx="423.7" cy="196.6" r="0.5" fill="#333" opacity="0.9"/>
<circle cx="443.8" cy="175.7" r="0.5" fill="#333" opacity="0.9"/>
<circle cx="421.9" cy="196.8" r="0.5" fill="#333" opacity="0.9"/>
<circle cx="429.2" cy="186.8" r="0.5" fill="#333" opacity="0.9"/>
<circle cx="433.6" cy="183.5" r="0.5" fill="#333" opacity="0.9"/>
<circle cx="439.4" cy="183.1" r="0.5" fill="#333" opacity="0.9"/>
<circle cx="420.9" cy="199.5" r="0.5" fill="#333" opacity="0.9"/>
<circle cx="431.4" cy="187.0" r="0.5" fill="#333" opacity="0.9"/>
<circle cx="422.2" cy="194.9" r="0.5" fill="#333" opacity="0.9"/>
<circle cx="439.0" cy="180.2" r="0.5" fill="#333" opacity="0.9"/>
<circle cx="429.0" cy="193.3" r="0.5" fill="#333" opacity="0.9"/>
<circle cx="444.1" cy="175.0" r="0.5" fill="#333" opacity="0.9"/>
<circle cx="432.4" cy="184.1" r="0.5" fill="#333" opacity="0.9"/>
<circle cx="434.8" cy="181.6" r="0.5" fill="#333" opacity="0.9"/>
<circle cx="446.5" cy="175.2" r="0.5" fill="#333" opacity="0.9"/>
<circle cx="440.2" cy="177.3" r="0.5" fill="#333" opacity="0.9"/>
<circle cx="422.7" cy="197.6" r="0.5" fill="#333" opacity="0.9"/>
<circle cx="436.5" cy="186.3" r="0.5" fill="#333" opacity="0.9"/>
<circle cx="442.4" cy="176.3" r="0.5" fill="#333" opacity="0.9"/>
<circle cx="422.6" cy="195.9" r="0.5" fill="#333" opacity="0.9"/>
<circle cx="437.8" cy="183.2" r="0.5" fill="#333" opacity="0.9"/>
<circle cx="427.3" cy="194.5" r="0.5" fill="#333" opacity="0.9"/>
<circle cx="428.9" cy="189.1" r="0.5" fill="#333" opacity="0.9"/>
<circle cx="434.3" cy="182.2" r="0.5" fill="#333" opacity="0.9"/>
<circle cx="422.1" cy="201.5" r="0.5" fill="#333" opacity="0.9"/>
<circle cx="442.3" cy="173.8" r="0.5" fill="#333" opacity="0.9"/>
<circle cx="434.0" cy="182.3" r="0.5" fill="#333" opacity="0.9"/>
<circle cx="437.2" cy="177.8" r="0.5" fill="#333" opacity="0.9"/>
<circle cx="436.4" cy="183.2" r="0.5" fill="#333" opacity="0.9"/>
<circle cx="438.4" cy="180.6" r="0.5" fill="#333" opacity="0.9"/>
<circle cx="441.3" cy="176.0" r="0.5" fill="#333" opacity="0.9"/>
<circle cx="431.5" cy="189.2" r="0.5" fill="#333" opacity="0.9"/>
<circle cx="441.7" cy="176.8" r="0.5" fill="#333" opacity="0.9"/>
<circle cx="423.8" cy="195.4" r="0.5" fill="#333" opacity="0.9"/>
<circle cx="424.6" cy="195.7" r="0.5" fill="#333" opacity="0.9"/>
<circle cx="442.1" cy="174.5" r="0.5" fill="#333" opacity="0.9"/>
<circle cx="430.5" cy="190.0" r="0.5" fill="#333" opacity="0.9"/>
<circle cx="423.9" cy="198.8" r="0.5" fill="#333" opacity="0.9"/>
<circle cx="444.0" cy="176.7" r="0.5" fill="#333" opacity="0.9"/>
<circle cx="429.4" cy="190.8" r="0.5" fill="#333" opacity="0.9"/>
<circle cx="420.7" cy="201.4" r="0.5" fill="#333" opacity="0.9"/>
<circle cx="445.7" cy="179.4" r="0.5" fill="#333" opacity="0.9"/>
<circle cx="432.2" cy="191.0" r="0.5" fill="#333" opacity="0.9"/>
<circle cx="440.3" cy="174.6" r="0.5" fill="#333" opacity="0.9"/>
<circle cx="437.3" cy="179.0" r="0.5" fill="#333" opacity="0.9"/>
<circle cx="437.8" cy="180.0" r="0.5" fill="#333" opacity="0.9"/>
<circle cx="436.0" cy="184.6" r="0.5" fill="#333" opacity="0.9"/>
<circle cx="443.1" cy="174.9" r="0.5" fill="#333" opacity="0.9"/>
<circle cx="437.2" cy="177.4" r="0.5" fill="#333" opacity="0.9"/>
<circle cx="427.5" cy="194.1" r="0.5" fill="#333" opacity="0.9"/>
<circle cx="426.8" cy="187.8" r="0.5" fill="#333" opacity="0.9"/>
<circle cx="424.1" cy="193.4" r="0.5" fill="#333" opacity="0.9"/>
<circle cx="440.4" cy="175.3" r="0.5" fill="#333" opacity="0.9"/>
<circle cx="424.9" cy="191.0" r="0.5" fill="#333" opacity="0.9"/>
<circle cx="438.8" cy="183.8" r="0.5" fill="#333" opacity="0.9"/>
<circle cx="436.3" cy="179.6" r="0.5" fill="#333" opacity="0.9"/>
<circle cx="440.7" cy="175.9" r="0.5" fill="#333" opacity="0.9"/>
<circle cx="423.1" cy="195.2" r="0.5" fill="#333" opacity="0.9"/>
<circle cx="435.8" cy="189.0" r="0.5" fill="#333" opacity="0.9"/>
<circle cx="419.7" cy="200.4" r="0.5" fill="#333" opacity="0.9"/>
<circle cx="427.3" cy="193.0" r="0.5" fill="#333" opacity="0.9"/>
<circle cx="426.2" cy="198.6" r="0.5" fill="#333" opacity="0.9"/>
<circle cx="440.0" cy="179.4" r="0.5" fill="#333" opacity="0.9"/>
<circle cx="446.3" cy="173.7" r="0.5" fill="#333" opacity="0.9"/>
<circle cx="421.6" cy="197.5" r="0.5" fill="#333" opacity="0.9"/>
<circle cx="438.9" cy="178.9" r="0.5" fill="#333" opacity="0.9"/>
<circle cx="420.4" cy="199.6" r="0.5" fill="#333" opacity="0.9"/>
<circle cx="444.0" cy="172.5" r="0.5" fill="#333" opacity="0.9"/>
<circle cx="427.7" cy="192.0" r="0.5" fill="#333" opacity="0.9"/>
<circle cx="444.1" cy="173.6" r="0.5" fill="#333" opacity="0.9"/>
<circle cx="437.8" cy="184.5" r="0.5" fill="#333" opacity="0.9"/>
<circle cx="419.6" cy="199.3" r="0.5" fill="#333" opacity="0.9"/>
<circle cx="438.5" cy="179.2" r="0.5" fill="#333" opacity="0.9"/>
<circle cx="443.6" cy="175.8" r="0.5" fill="#333" opacity="0.9"/>
<circle cx="436.7" cy="181.8" r="0.5" fill="#333" opacity="0.9"/>
<circle cx="436.9" cy="182.9" r="0.5" fill="#333" opacity="0.9"/>
<circle cx="420.6" cy="200.2" r="0.5" fill="#333" opacity="0.9"/>
<circle cx="424.0" cy="197.2" r="0.5" fill="#333" opacity="0.9"/>
<circle cx="438.8" cy="179.2" r="0.5" fill="#333" opacity="0.9"/>
<circle cx="430.0" cy="196.7" r="0.5" fill="#333" opacity="0.9"/>
<circle cx="440.4" cy="177.9" r="0.5" fill="#333" opacity="0.9"/>
<circle cx="433.6" cy="182.3" r="0.5" fill="#333" opacity="0.9"/>
<circle cx="424.1" cy="199.0" r="0.5" fill="#333" opacity="0.9"/>
<circle cx="431.0" cy="183.9" r="0.5" fill="#333" opacity="0.9"/>
<circle cx="424.8" cy="197.1" r="0.5" fill="#333" opacity="0.9"/>
<circle cx="445.7" cy="173.3" r="0.5" fill="#333" opacity="0.9"/>
<circle cx="427.3" cy="192.2" r="0.5" fill="#333" opacity="0.9"/>
<circle cx="421.4" cy="202.2" r="0.5" fill="#333" opacity="0.9"/>
<circle cx="440.5" cy="178.5" r="0.5" fill="#333" opacity="0.9"/>
<circle cx="418.8" cy="200.2" r="0.5" fill="#333" opacity="0.9"/>
<circle cx="444.0" cy="175.7" r="0.5" fill="#333" opacity="0.9"/>
<circle cx="422.8" cy="194.0" r="0.5" fill="#333" opacity="0.9"/>
<circle cx="444.6" cy="173.2" r="0.5" fill="#333" opacity="0.9"/>
<circle cx="445.3" cy="172.3" r="0.5" fill="#333" opacity="0.9"/>
<circle cx="438.9" cy="182.0" r="0.5" fill="#333" opacity="0.9"/>
<circle cx="437.4" cy="186.1" r="0.5" fill="#333" opacity="0.9"/>
<circle cx="437.0" cy="183.6" r="0.5" fill="#333" opacity="0.9"/>
<circle cx="440.5" cy="178.4" r="0.5" fill="#333" opacity="0.9"/>
<circle cx="419.5" cy="201.7" r="0.5" fill="#333" opacity="0.9"/>
<circle cx="435.2" cy="184.9" r="0.5" fill="#333" opacity="0.9"/>
<circle cx="423.0" cy="198.1" r="0.5" fill="#333" opacity="0.9"/>
<circle cx="438.8" cy="177.4" r="0.5" fill="#333" opacity="0.9"/>
<circle cx="444.4" cy="175.3" r="0.5" fill="#333" opacity="0.9"/>
<circle cx="428.7" cy="190.9" r="0.5" fill="#333" opacity="0.9"/>
<circle cx="439.0" cy="176.9" r="0.5" fill="#333" opacity="0.9"/>
<circle cx="430.5" cy="194.1" r="0.5" fill="#333" opacity="0.9"/>
<circle cx="435.8" cy="183.1" r="0.5" fill="#333" opacity="0.9"/>
<circle cx="428.6" cy="195.2" r="0.5" fill="#333" opacity="0.9"/>
<circle cx="430.0" cy="189.0" r="0.5" fill="#333" opacity="0.9"/>
<circle cx="420.6" cy="195.8" r="0.5" fill="#333" opacity="0.9"/>
<circle cx="424.2" cy="197.2" r="0.5" fill="#333" opacity="0.9"/>
<circle cx="439.2" cy="183.6" r="0.5" fill="#333" opacity="0.9"/>
<circle cx="438.7" cy="180.8" r="0.5" fill="#333" opacity="0.9"/>
<circle cx="431.6" cy="186.4" r="0.5" fill="#333" opacity="0.9"/>
<circle cx="418.2" cy="201.0" r="0.5" fill="#333" opacity="0.9"/>
<circle cx="427.3" cy="195.4" r="0.5" fill="#333" opacity="0.9"/>
<circle cx="440.8" cy="178.4" r="0.5" fill="#333" opacity="0.9"/>
<circle cx="438.7" cy="182.6" r="0.5" fill="#333" opacity="0.9"/>
<circle cx="424.4" cy="194.8" r="0.5" fill="#333" opacity="0.9"/>
<circle cx="419.3" cy="199.6" r="0.5" fill="#333" opacity="0.9"/>
<circle cx="420.6" cy="197.7" r="0.5" fill="#333" opacity="0.9"/>
<circle cx="435.5" cy="180.0" r="0.5" fill="#333" opacity="0.9"/>
<circle cx="441.3" cy="175.2" r="0.5" fill="#333" opacity="0.9"/>
<circle cx="439.8" cy="175.3" r="0.5" fill="#333" opacity="0.9"/>
<circle cx="434.4" cy="183.5" r="0.5" fill="#333" opacity="0.9"/>
<circle cx="425.2" cy="194.8" r="0.5" fill="#333" opacity="0.9"/>
<circle cx="422.2" cy="200.2" r="0.5" fill="#333" opacity="0.9"/>
<circle cx="427.7" cy="193.9" r="0.5" fill="#333" opacity="0.9"/>
<circle cx="434.6" cy="185.5" r="0.5" fill="#333" opacity="0.9"/>
<circle cx="442.3" cy="174.4" r="0.5" fill="#333" opacity="0.9"/>
<circle cx="442.1" cy="177.5" r="0.5" fill="#333" opacity="0.9"/>
<circle cx="425.8" cy="197.4" r="0.5" fill="#333" opacity="0.9"/>
<circle cx="420.9" cy="200.2" r="0.5" fill="#333" opacity="0.9"/>
<circle cx="420.0" cy="202.5" r="0.5" fill="#333" opacity="0.9"/>
<circle cx="420.5" cy="202.0" r="0.5" fill="#333" opacity="0.9"/>
<circle cx="440.1" cy="174.1" r="0.5" fill="#333" opacity="0.9"/>
<circle cx="423.3" cy="201.9" r="0.5" fill="#333" opacity="0.9"/>
<circle cx="429.5" cy="191.1" r="0.5" fill="#333" opacity="0.9"/>
<circle cx="427.9" cy="191.2" r="0.5" fill="#333" opacity="0.9"/>
<circle cx="426.5" cy="190.9" r="0.5" fill="#333" opacity="0.9"/>
<circle cx="424.5" cy="198.8" r="0.5" fill="#333" opacity="0.9"/>
<circle cx="444.7" cy="175.9" r="0.5" fill="#333" opacity="0.9"/>
<circle cx="420.3" cy="201.1" r="0.5" fill="#333" opacity="0.9"/>
<circle cx="427.6" cy="195.3" r="0.5" fill="#333" opacity="0.9"/>
<circle cx="431.3" cy="186.5" r="0.5" fill="#333" opacity="0.9"/>
<circle cx="422.2" cy="198.5" r="0.5" fill="#333" opacity="0.9"/>
<circle cx="430.6" cy="189.6" r="0.5" fill="#333" opacity="0.9"/>
<circle cx="432.9" cy="185.3" r="0.5" fill="#333" opacity="0.9"/>
<circle cx="439.9" cy="176.8" r="0.5" fill="#333" opacity="0.9"/>
<circle cx="443.6" cy="173.7" r="0.5" fill="#333" opacity="0.9"/>
<circle cx="441.1" cy="179.5" r="0.5" fill="#333" opacity="0.9"/>
<circle cx="432.0" cy="187.5" r="0.5" fill="#333" opacity="0.9"/>
<circle cx="432.0" cy="189.3" r="0.5" fill="#333" opacity="0.9"/>
<circle cx="432.5" cy="184.2" r="0.5" fill="#333" opacity="0.9"/>
<circle cx="433.8" cy="187.3" r="0.5" fill="#333" opacity="0.9"/>
<circle cx="421.8" cy="197.4" r="0.5" fill="#333" opacity="0.9"/>
<circle cx="423.8" cy="196.7" r="0.5" fill="#333" opacity="0.9"/>
<circle cx="445.9" cy="173.2" r="0.5" fill="#333" opacity="0.9"/>
<circle cx="434.4" cy="185.7" r="0.5" fill="#333" opacity="0.9"/>
<circle cx="431.8" cy="185.2" r="0.5" fill="#333" opacity="0.9"/>
<circle cx="426.0" cy="196.1" r="0.5" fill="#333" opacity="0.9"/>
<circle cx="429.2" cy="189.1" r="0.5" fill="#333" opacity="0.9"/>
<circle cx="441.8" cy="182.2" r="0.5" fill="#333" opacity="0.9"/>
<circle cx="429.0" cy="184.8" r="0.5" fill="#333" opacity="0.9"/>
<circle cx="431.0" cy="189.8" r="0.5" fill="#333" opacity="0.9"/>
<circle cx="423.4" cy="194.9" r="0.5" fill="#333" opacity="0.9"/>
<circle cx="431.6" cy="187.4" r="0.5" fill="#333" opacity="0.9"/>
<circle cx="440.7" cy="179.6" r="0.5" fill="#333" opacity="0.9"/>
<circle cx="427.7" cy="190.9" r="0.5" fill="#333" opacity="0.9"/>
<circle cx="421.4" cy="197.9" r="0.5" fill="#333" opacity="0.9"/>
<circle cx="440.4" cy="178.8" r="0.5" fill="#333" opacity="0.9"/>
<circle cx="433.6" cy="182.1" r="0.5" fill="#333" opacity="0.9"/>
<circle cx="421.5" cy="194.7" r="0.5" fill="#333" opacity="0.9"/>
<circle cx="440.2" cy="178.5" r="0.5" fill="#333" opacity="0.9"/>
<circle cx="434.5" cy="183.8" r="0.5" fill="#333" opacity="0.9"/>
<circle cx="440.2" cy="195.5" r="0.45" fill="#666" opacity="0.85"/>
<circle cx="445.3" cy="191.2" r="0.45" fill="#666" opacity="0.85"/>
<circle cx="442.4" cy="193.6" r="0.45" fill="#666" opacity="0.85"/>
<circle cx="444.0" cy="191.6" r="0.45" fill="#666" opacity="0.85"/>
<circle cx="444.9" cy="189.8" r="0.45" fill="#666" opacity="0.85"/>
<circle cx="441.6" cy="194.4" r="0.45" fill="#666" opacity="0.85"/>
<circle cx="442.2" cy="194.2" r="0.45" fill="#666" opacity="0.85"/>
<circle cx="441.1" cy="195.8" r="0.45" fill="#666" opacity="0.85"/>
<circle cx="442.8" cy="192.9" r="0.45" fill="#666" opacity="0.85"/>
<circle cx="440.6" cy="195.9" r="0.45" fill="#666" opacity="0.85"/>
<circle cx="444.5" cy="191.2" r="0.45" fill="#666" opacity="0.85"/>
<circle cx="441.2" cy="194.7" r="0.45" fill="#666" opacity="0.85"/>
<circle cx="443.4" cy="193.0" r="0.45" fill="#666" opacity="0.85"/>
<circle cx="441.2" cy="193.8" r="0.45" fill="#666" opacity="0.85"/>
<circle cx="441.1" cy="194.4" r="0.45" fill="#666" opacity="0.85"/>
<circle cx="440.4" cy="194.9" r="0.45" fill="#666" opacity="0.85"/>
<circle cx="442.6" cy="193.3" r="0.45" fill="#666" opacity="0.85"/>
<circle cx="442.3" cy="193.9" r="0.45" fill="#666" opacity="0.85"/>
<circle cx="444.5" cy="191.8" r="0.45" fill="#666" opacity="0.85"/>
<circle cx="443.6" cy="192.0" r="0.45" fill="#666" opacity="0.85"/>
<circle cx="442.6" cy="192.5" r="0.45" fill="#666" opacity="0.85"/>
<circle cx="441.6" cy="195.2" r="0.45" fill="#666" opacity="0.85"/>
<circle cx="442.5" cy="193.0" r="0.45" fill="#666" opacity="0.85"/>
<circle cx="440.9" cy="193.7" r="0.45" fill="#666" opacity="0.85"/>
<circle cx="443.1" cy="194.3" r="0.45" fill="#666" opacity="0.85"/>
<circle cx="445.2" cy="191.5" r="0.45" fill="#666" opacity="0.85"/>
<circle cx="442.0" cy="194.7" r="0.45" fill="#666" opacity="0.85"/>
<circle cx="441.3" cy="194.5" r="0.45" fill="#666" opacity="0.85"/>
<circle cx="444.2" cy="192.5" r="0.45" fill="#666" opacity="0.85"/>
<circle cx="442.6" cy="193.7" r="0.45" fill="#666" opacity="0.85"/>
<circle cx="445.0" cy="190.7" r="0.45" fill="#666" opacity="0.85"/>
<circle cx="442.7" cy="193.5" r="0.45" fill="#666" opacity="0.85"/>
<circle cx="441.2" cy="194.1" r="0.45" fill="#666" opacity="0.85"/>
<circle cx="445.0" cy="190.3" r="0.45" fill="#666" opacity="0.85"/>
<circle cx="442.7" cy="192.4" r="0.45" fill="#666" opacity="0.85"/>
<circle cx="444.8" cy="192.3" r="0.45" fill="#666" opacity="0.85"/>
<circle cx="445.7" cy="190.0" r="0.45" fill="#666" opacity="0.85"/>
<circle cx="441.9" cy="193.7" r="0.45" fill="#666" opacity="0.85"/>
<circle cx="445.7" cy="191.7" r="0.45" fill="#666" opacity="0.85"/>
<circle cx="445.0" cy="190.3" r="0.45" fill="#666" opacity="0.85"/>
<polygon points="409.5,215.5 417.4,211.7 425.5,205.8 433.5,199.9 440.0,197.0 443.6,192.8 444.3,192.0 442.6,195.5 440.0,199.6 433.5,204.4 425.5,210.4 420.0,213.8 416.7,216.3 411.5,221.5 409.7,223.8 409.4,223.8" fill="#050505" stroke="#050505" stroke-width="0.9" stroke-linejoin="round" filter="url(#b04)"/>
<circle cx="420.5" cy="208.2" r="0.5" fill="#222" opacity="0.74"/>
<circle cx="440.6" cy="201.7" r="0.5" fill="#222" opacity="0.88"/>
<circle cx="422.1" cy="206.1" r="0.5" fill="#222" opacity="0.57"/>
<circle cx="435.2" cy="197.7" r="0.5" fill="#222" opacity="0.51"/>
<circle cx="441.0" cy="198.3" r="0.5" fill="#222" opacity="0.63"/>
<circle cx="443.6" cy="195.1" r="0.5" fill="#222" opacity="0.55"/>
<circle cx="418.0" cy="210.7" r="0.5" fill="#222" opacity="0.59"/>
<circle cx="444.2" cy="193.0" r="0.5" fill="#222" opacity="0.92"/>
<circle cx="438.6" cy="196.0" r="0.5" fill="#222" opacity="0.99"/>
<circle cx="417.1" cy="216.1" r="0.5" fill="#222" opacity="0.84"/>
<circle cx="424.5" cy="204.6" r="0.5" fill="#222" opacity="0.62"/>
<circle cx="419.5" cy="214.7" r="0.5" fill="#222" opacity="0.82"/>
<circle cx="436.7" cy="197.1" r="0.5" fill="#222" opacity="0.99"/>
<circle cx="426.2" cy="202.2" r="0.5" fill="#222" opacity="0.76"/>
<circle cx="412.2" cy="222.0" r="0.5" fill="#222" opacity="0.97"/>
<circle cx="441.1" cy="198.2" r="0.5" fill="#222" opacity="0.76"/>
<circle cx="443.5" cy="193.6" r="0.5" fill="#222" opacity="0.74"/>
<circle cx="420.8" cy="213.6" r="0.5" fill="#222" opacity="0.72"/>
<circle cx="424.5" cy="205.5" r="0.5" fill="#222" opacity="0.79"/>
<circle cx="441.2" cy="200.7" r="0.5" fill="#222" opacity="0.61"/>
<circle cx="428.9" cy="201.3" r="0.5" fill="#222" opacity="0.79"/>
<circle cx="425.3" cy="205.1" r="0.5" fill="#222" opacity="0.70"/>
<circle cx="413.5" cy="220.9" r="0.5" fill="#222" opacity="0.96"/>
<circle cx="444.4" cy="195.0" r="0.5" fill="#222" opacity="0.72"/>
<circle cx="416.2" cy="217.1" r="0.5" fill="#222" opacity="0.81"/>
<circle cx="438.2" cy="201.4" r="0.5" fill="#222" opacity="0.80"/>
<circle cx="433.9" cy="204.2" r="0.5" fill="#222" opacity="0.69"/>
<circle cx="429.1" cy="210.5" r="0.5" fill="#222" opacity="0.93"/>
<circle cx="431.2" cy="198.6" r="0.5" fill="#222" opacity="0.83"/>
<circle cx="439.2" cy="197.1" r="0.5" fill="#222" opacity="0.71"/>
<circle cx="432.6" cy="205.2" r="0.5" fill="#222" opacity="0.72"/>
<circle cx="425.9" cy="205.2" r="0.5" fill="#222" opacity="0.60"/>
<circle cx="419.0" cy="215.0" r="0.5" fill="#222" opacity="0.69"/>
<circle cx="422.9" cy="212.2" r="0.5" fill="#222" opacity="0.53"/>
<circle cx="427.8" cy="204.0" r="0.5" fill="#222" opacity="0.88"/>
<circle cx="441.3" cy="194.4" r="0.5" fill="#222" opacity="0.65"/>
<circle cx="441.1" cy="198.3" r="0.5" fill="#222" opacity="0.93"/>
<circle cx="436.1" cy="203.3" r="0.5" fill="#222" opacity="0.88"/>
<circle cx="420.9" cy="208.5" r="0.5" fill="#222" opacity="0.50"/>
<circle cx="427.9" cy="201.5" r="0.5" fill="#222" opacity="0.94"/>
<circle cx="434.4" cy="199.0" r="0.5" fill="#222" opacity="0.95"/>
<circle cx="432.3" cy="205.9" r="0.5" fill="#222" opacity="0.89"/>
<circle cx="429.9" cy="200.5" r="0.5" fill="#222" opacity="0.61"/>
<circle cx="436.3" cy="202.8" r="0.5" fill="#222" opacity="0.88"/>
<circle cx="420.4" cy="207.0" r="0.5" fill="#222" opacity="0.58"/>
<circle cx="438.7" cy="200.8" r="0.5" fill="#222" opacity="0.71"/>
<circle cx="410.3" cy="214.1" r="0.5" fill="#222" opacity="0.60"/>
<circle cx="414.9" cy="212.0" r="0.5" fill="#222" opacity="0.58"/>
<circle cx="442.8" cy="193.5" r="0.5" fill="#222" opacity="0.71"/>
<circle cx="419.6" cy="214.2" r="0.5" fill="#222" opacity="0.52"/>
<circle cx="421.1" cy="214.7" r="0.5" fill="#222" opacity="0.73"/>
<circle cx="433.6" cy="205.2" r="0.5" fill="#222" opacity="0.97"/>
<circle cx="422.1" cy="214.0" r="0.5" fill="#222" opacity="0.67"/>
<circle cx="423.0" cy="212.3" r="0.5" fill="#222" opacity="0.63"/>
<circle cx="443.7" cy="198.1" r="0.5" fill="#222" opacity="0.85"/>
<circle cx="435.2" cy="204.8" r="0.5" fill="#222" opacity="0.93"/>
<circle cx="444.9" cy="192.4" r="0.5" fill="#222" opacity="0.69"/>
<circle cx="441.6" cy="197.6" r="0.5" fill="#222" opacity="0.81"/>
<circle cx="442.4" cy="192.6" r="0.5" fill="#222" opacity="0.91"/>
<circle cx="440.9" cy="200.3" r="0.5" fill="#222" opacity="0.54"/>
<circle cx="436.8" cy="198.1" r="0.5" fill="#222" opacity="0.72"/>
<circle cx="435.3" cy="205.0" r="0.5" fill="#222" opacity="0.54"/>
<circle cx="424.8" cy="211.4" r="0.5" fill="#222" opacity="0.84"/>
<circle cx="425.6" cy="202.8" r="0.5" fill="#222" opacity="0.69"/>
<circle cx="418.9" cy="207.9" r="0.5" fill="#222" opacity="0.71"/>
<circle cx="424.0" cy="212.4" r="0.5" fill="#222" opacity="0.86"/>
<circle cx="428.1" cy="203.6" r="0.5" fill="#222" opacity="0.79"/>
<circle cx="429.7" cy="201.0" r="0.5" fill="#222" opacity="0.70"/>
<circle cx="410.1" cy="213.3" r="0.5" fill="#222" opacity="0.71"/>
<circle cx="415.7" cy="217.9" r="0.5" fill="#222" opacity="0.75"/>
<circle cx="414.8" cy="210.6" r="0.5" fill="#222" opacity="0.55"/>
<circle cx="421.7" cy="205.7" r="0.5" fill="#222" opacity="0.65"/>
<circle cx="429.4" cy="201.6" r="0.5" fill="#222" opacity="0.84"/>
<circle cx="426.0" cy="202.4" r="0.5" fill="#222" opacity="0.92"/>
<circle cx="426.9" cy="210.5" r="0.5" fill="#222" opacity="0.91"/>
<circle cx="430.2" cy="208.9" r="0.5" fill="#222" opacity="0.69"/>
<circle cx="417.3" cy="211.6" r="0.5" fill="#222" opacity="0.60"/>
<circle cx="425.0" cy="204.3" r="0.5" fill="#222" opacity="0.90"/>
<circle cx="416.1" cy="216.9" r="0.5" fill="#222" opacity="0.70"/>
<circle cx="421.7" cy="208.3" r="0.5" fill="#222" opacity="0.93"/>
<circle cx="424.0" cy="213.6" r="0.5" fill="#222" opacity="0.97"/>
<circle cx="414.2" cy="218.8" r="0.5" fill="#222" opacity="0.70"/>
<circle cx="423.4" cy="206.5" r="0.5" fill="#222" opacity="0.60"/>
<circle cx="437.4" cy="202.6" r="0.5" fill="#222" opacity="0.83"/>
<circle cx="431.8" cy="206.0" r="0.5" fill="#222" opacity="0.69"/>
<circle cx="433.9" cy="204.8" r="0.5" fill="#222" opacity="0.77"/>
<circle cx="433.0" cy="199.6" r="0.5" fill="#222" opacity="0.83"/>
<circle cx="411.9" cy="213.8" r="0.5" fill="#222" opacity="0.90"/>
<circle cx="426.1" cy="210.3" r="0.5" fill="#222" opacity="0.51"/>
<circle cx="424.7" cy="211.8" r="0.5" fill="#222" opacity="0.72"/>
<polygon points="424.5,197.0 431.5,191.0 432.5,192.2 425.5,198.2" fill="#222" filter="url(#b05)"/>
<text x="438.00" y="142.50" font-size="8.8" text-anchor="start" font-weight="normal" fill="#1a1a1a" stroke="#1a1a1a" stroke-width="0.15" >C03</text>
<text x="446.00" y="183.50" font-size="8.6" text-anchor="start" font-weight="normal" fill="#1a1a1a" stroke="#1a1a1a" stroke-width="0.3" >R1</text>
<text x="451.00" y="204.80" font-size="10.6" text-anchor="start" font-weight="normal" fill="#111" stroke="#111" stroke-width="0.45" >RAD52</text>
<text x="449.80" y="218.00" font-size="10.9" text-anchor="start" font-weight="normal" fill="#111" stroke="#111" stroke-width="0.45" >+ I-SceI</text>
<text x="409.30" y="235.50" font-size="8.4" text-anchor="middle" font-weight="normal" fill="#1a1a1a" stroke="#1a1a1a" stroke-width="0.3" >10</text>
<text x="413.90" y="231.80" font-size="5.4" text-anchor="start" font-weight="normal" fill="#1a1a1a" stroke="#1a1a1a" stroke-width="0.3" >0</text>
<text x="430.57" y="235.50" font-size="8.4" text-anchor="middle" font-weight="normal" fill="#1a1a1a" stroke="#1a1a1a" stroke-width="0.3" >10</text>
<text x="435.18" y="231.80" font-size="5.4" text-anchor="start" font-weight="normal" fill="#1a1a1a" stroke="#1a1a1a" stroke-width="0.3" >1</text>
<text x="451.85" y="235.50" font-size="8.4" text-anchor="middle" font-weight="normal" fill="#1a1a1a" stroke="#1a1a1a" stroke-width="0.3" >10</text>
<text x="456.45" y="231.80" font-size="5.4" text-anchor="start" font-weight="normal" fill="#1a1a1a" stroke="#1a1a1a" stroke-width="0.3" >2</text>
<text x="473.12" y="235.50" font-size="8.4" text-anchor="middle" font-weight="normal" fill="#1a1a1a" stroke="#1a1a1a" stroke-width="0.3" >10</text>
<text x="477.73" y="231.80" font-size="5.4" text-anchor="start" font-weight="normal" fill="#1a1a1a" stroke="#1a1a1a" stroke-width="0.3" >3</text>
<text x="494.40" y="235.50" font-size="8.4" text-anchor="middle" font-weight="normal" fill="#1a1a1a" stroke="#1a1a1a" stroke-width="0.3" >10</text>
<text x="499.00" y="231.80" font-size="5.4" text-anchor="start" font-weight="normal" fill="#1a1a1a" stroke="#1a1a1a" stroke-width="0.3" >4</text>
<text x="429.80" y="243.60" font-size="8.8" text-anchor="start" font-weight="normal" fill="#1a1a1a" stroke="#1a1a1a" stroke-width="0.3" >FL2-Height</text>
<g transform="translate(405.30,224.20) rotate(-90)">
<text x="0" y="0" font-size="8.4" text-anchor="middle" fill="#1a1a1a">10</text>
<text x="4.6" y="-3.7" font-size="5.4" fill="#1a1a1a">0</text>
</g>
<g transform="translate(405.30,204.75) rotate(-90)">
<text x="0" y="0" font-size="8.4" text-anchor="middle" fill="#1a1a1a">10</text>
<text x="4.6" y="-3.7" font-size="5.4" fill="#1a1a1a">1</text>
</g>
<g transform="translate(405.30,185.30) rotate(-90)">
<text x="0" y="0" font-size="8.4" text-anchor="middle" fill="#1a1a1a">10</text>
<text x="4.6" y="-3.7" font-size="5.4" fill="#1a1a1a">2</text>
</g>
<g transform="translate(405.30,165.85) rotate(-90)">
<text x="0" y="0" font-size="8.4" text-anchor="middle" fill="#1a1a1a">10</text>
<text x="4.6" y="-3.7" font-size="5.4" fill="#1a1a1a">3</text>
</g>
<g transform="translate(405.30,146.40) rotate(-90)">
<text x="0" y="0" font-size="8.4" text-anchor="middle" fill="#1a1a1a">10</text>
<text x="4.6" y="-3.7" font-size="5.4" fill="#1a1a1a">4</text>
</g>
<g transform="translate(393.30,185.30) rotate(-90)"><text x="0" y="0" font-size="8.8" text-anchor="middle" fill="#1a1a1a">FL1-Height</text></g>
<rect x="176.2" y="265.1" width="87.10" height="81.10" fill="none" stroke="#555" stroke-width="0.85"/>
<path d="M176.2,265.1 L176.2,346.2 L263.3,346.2" fill="none" stroke="#111" stroke-width="1.1"/>
<path d="M176.20,346.2 v2.6 M176.2,346.20 h-2.6 M182.75,346.2 v1.4 M176.2,340.10 h-1.4 M186.59,346.2 v1.4 M176.2,336.53 h-1.4 M189.31,346.2 v1.4 M176.2,333.99 h-1.4 M191.42,346.2 v1.4 M176.2,332.03 h-1.4 M193.14,346.2 v1.4 M176.2,330.42 h-1.4 M194.60,346.2 v1.4 M176.2,329.07 h-1.4 M195.86,346.2 v1.4 M176.2,327.89 h-1.4 M196.98,346.2 v1.4 M176.2,326.85 h-1.4 M197.97,346.2 v2.6 M176.2,325.93 h-2.6 M204.53,346.2 v1.4 M176.2,319.82 h-1.4 M208.36,346.2 v1.4 M176.2,316.25 h-1.4 M211.08,346.2 v1.4 M176.2,313.72 h-1.4 M213.20,346.2 v1.4 M176.2,311.75 h-1.4 M214.92,346.2 v1.4 M176.2,310.15 h-1.4 M216.38,346.2 v1.4 M176.2,308.79 h-1.4 M217.64,346.2 v1.4 M176.2,307.61 h-1.4 M218.75,346.2 v1.4 M176.2,306.58 h-1.4 M219.75,346.2 v2.6 M176.2,305.65 h-2.6 M226.30,346.2 v1.4 M176.2,299.55 h-1.4 M230.14,346.2 v1.4 M176.2,295.98 h-1.4 M232.86,346.2 v1.4 M176.2,293.44 h-1.4 M234.97,346.2 v1.4 M176.2,291.48 h-1.4 M236.69,346.2 v1.4 M176.2,289.87 h-1.4 M238.15,346.2 v1.4 M176.2,288.52 h-1.4 M239.41,346.2 v1.4 M176.2,287.34 h-1.4 M240.53,346.2 v1.4 M176.2,286.30 h-1.4 M241.53,346.2 v2.6 M176.2,285.38 h-2.6 M248.08,346.2 v1.4 M176.2,279.27 h-1.4 M251.91,346.2 v1.4 M176.2,275.70 h-1.4 M254.63,346.2 v1.4 M176.2,273.17 h-1.4 M256.75,346.2 v1.4 M176.2,271.20 h-1.4 M258.47,346.2 v1.4 M176.2,269.60 h-1.4 M259.93,346.2 v1.4 M176.2,268.24 h-1.4 M261.19,346.2 v1.4 M176.2,267.06 h-1.4 M262.30,346.2 v1.4 M176.2,266.03 h-1.4 M263.30,346.2 v2.6 M176.2,265.1 h-2.6" stroke="#222" stroke-width="0.7" fill="none"/>
<path d="M176.2,326.0 L186.4,326.0 L258.7,271.4 L176.2,271.4" fill="none" stroke="#1a1a1a" stroke-width="0.9"/>
<circle cx="197.8" cy="312.3" r="0.5" fill="#777" opacity="0.9"/>
<circle cx="204.2" cy="306.0" r="0.5" fill="#777" opacity="0.9"/>
<circle cx="198.8" cy="315.8" r="0.5" fill="#777" opacity="0.9"/>
<circle cx="199.2" cy="308.6" r="0.5" fill="#777" opacity="0.9"/>
<circle cx="190.8" cy="318.5" r="0.5" fill="#777" opacity="0.9"/>
<circle cx="192.4" cy="321.0" r="0.5" fill="#777" opacity="0.9"/>
<circle cx="200.8" cy="306.2" r="0.5" fill="#777" opacity="0.9"/>
<circle cx="192.5" cy="317.2" r="0.5" fill="#777" opacity="0.9"/>
<circle cx="190.9" cy="319.6" r="0.5" fill="#777" opacity="0.9"/>
<circle cx="196.3" cy="312.7" r="0.5" fill="#777" opacity="0.9"/>
<circle cx="207.5" cy="304.0" r="0.5" fill="#777" opacity="0.9"/>
<circle cx="201.7" cy="309.4" r="0.5" fill="#777" opacity="0.9"/>
<circle cx="190.9" cy="318.1" r="0.5" fill="#777" opacity="0.9"/>
<circle cx="204.9" cy="304.4" r="0.5" fill="#777" opacity="0.9"/>
<circle cx="195.5" cy="310.5" r="0.5" fill="#777" opacity="0.9"/>
<circle cx="207.4" cy="304.8" r="0.5" fill="#777" opacity="0.9"/>
<circle cx="204.5" cy="306.9" r="0.5" fill="#777" opacity="0.9"/>
<circle cx="200.4" cy="307.7" r="0.5" fill="#777" opacity="0.9"/>
<circle cx="197.6" cy="310.4" r="0.5" fill="#777" opacity="0.9"/>
<circle cx="197.9" cy="308.8" r="0.5" fill="#777" opacity="0.9"/>
<circle cx="195.3" cy="311.8" r="0.5" fill="#777" opacity="0.9"/>
<circle cx="200.5" cy="308.2" r="0.5" fill="#777" opacity="0.9"/>
<circle cx="204.3" cy="306.1" r="0.5" fill="#777" opacity="0.9"/>
<circle cx="189.8" cy="319.6" r="0.5" fill="#777" opacity="0.9"/>
<circle cx="192.8" cy="316.0" r="0.5" fill="#777" opacity="0.9"/>
<circle cx="204.1" cy="304.2" r="0.5" fill="#777" opacity="0.9"/>
<circle cx="199.8" cy="310.3" r="0.5" fill="#777" opacity="0.9"/>
<circle cx="208.1" cy="300.8" r="0.5" fill="#777" opacity="0.9"/>
<circle cx="208.3" cy="300.3" r="0.5" fill="#777" opacity="0.9"/>
<circle cx="195.7" cy="316.0" r="0.5" fill="#777" opacity="0.9"/>
<circle cx="206.8" cy="304.7" r="0.5" fill="#777" opacity="0.9"/>
<circle cx="204.7" cy="302.8" r="0.5" fill="#777" opacity="0.9"/>
<circle cx="194.6" cy="316.3" r="0.5" fill="#777" opacity="0.9"/>
<circle cx="196.6" cy="316.0" r="0.5" fill="#777" opacity="0.9"/>
<circle cx="208.3" cy="300.4" r="0.5" fill="#777" opacity="0.9"/>
<circle cx="200.6" cy="308.5" r="0.5" fill="#777" opacity="0.9"/>
<circle cx="196.8" cy="310.9" r="0.5" fill="#777" opacity="0.9"/>
<circle cx="208.4" cy="301.4" r="0.5" fill="#777" opacity="0.9"/>
<circle cx="190.5" cy="314.3" r="0.5" fill="#777" opacity="0.9"/>
<circle cx="199.7" cy="313.3" r="0.5" fill="#777" opacity="0.9"/>
<circle cx="205.3" cy="302.5" r="0.5" fill="#777" opacity="0.9"/>
<circle cx="207.5" cy="302.1" r="0.5" fill="#777" opacity="0.9"/>
<circle cx="193.1" cy="318.9" r="0.5" fill="#777" opacity="0.9"/>
<circle cx="199.8" cy="311.6" r="0.5" fill="#777" opacity="0.9"/>
<circle cx="193.6" cy="315.8" r="0.5" fill="#777" opacity="0.9"/>
<circle cx="197.2" cy="310.8" r="0.5" fill="#777" opacity="0.9"/>
<circle cx="206.4" cy="301.1" r="0.5" fill="#777" opacity="0.9"/>
<circle cx="208.4" cy="301.0" r="0.5" fill="#777" opacity="0.9"/>
<circle cx="198.9" cy="312.1" r="0.5" fill="#777" opacity="0.9"/>
<circle cx="195.6" cy="315.5" r="0.5" fill="#777" opacity="0.9"/>
<circle cx="201.8" cy="305.2" r="0.5" fill="#777" opacity="0.9"/>
<circle cx="202.6" cy="306.7" r="0.5" fill="#777" opacity="0.9"/>
<circle cx="205.8" cy="305.4" r="0.5" fill="#777" opacity="0.9"/>
<circle cx="191.9" cy="318.2" r="0.5" fill="#777" opacity="0.9"/>
<circle cx="193.7" cy="315.4" r="0.5" fill="#777" opacity="0.9"/>
<circle cx="205.5" cy="305.1" r="0.5" fill="#777" opacity="0.9"/>
<circle cx="208.5" cy="300.9" r="0.5" fill="#777" opacity="0.9"/>
<circle cx="200.8" cy="310.4" r="0.5" fill="#777" opacity="0.9"/>
<circle cx="195.0" cy="315.8" r="0.5" fill="#777" opacity="0.9"/>
<circle cx="201.6" cy="305.6" r="0.5" fill="#777" opacity="0.9"/>
<circle cx="207.1" cy="300.3" r="0.5" fill="#777" opacity="0.9"/>
<circle cx="206.5" cy="302.0" r="0.5" fill="#777" opacity="0.9"/>
<circle cx="206.0" cy="301.2" r="0.5" fill="#777" opacity="0.9"/>
<circle cx="204.5" cy="300.9" r="0.5" fill="#777" opacity="0.9"/>
<circle cx="209.3" cy="300.8" r="0.5" fill="#777" opacity="0.9"/>
<circle cx="193.8" cy="316.0" r="0.5" fill="#777" opacity="0.9"/>
<circle cx="201.9" cy="310.1" r="0.5" fill="#777" opacity="0.9"/>
<circle cx="197.5" cy="310.6" r="0.5" fill="#777" opacity="0.9"/>
<circle cx="198.1" cy="311.4" r="0.5" fill="#777" opacity="0.9"/>
<circle cx="201.7" cy="308.0" r="0.5" fill="#777" opacity="0.9"/>
<circle cx="190.2" cy="316.0" r="0.5" fill="#777" opacity="0.9"/>
<circle cx="192.3" cy="313.8" r="0.5" fill="#777" opacity="0.9"/>
<circle cx="195.3" cy="314.3" r="0.5" fill="#777" opacity="0.9"/>
<circle cx="204.7" cy="305.2" r="0.5" fill="#777" opacity="0.9"/>
<circle cx="207.7" cy="303.7" r="0.5" fill="#777" opacity="0.9"/>
<circle cx="194.1" cy="316.3" r="0.5" fill="#777" opacity="0.9"/>
<circle cx="189.1" cy="318.0" r="0.5" fill="#777" opacity="0.9"/>
<circle cx="198.7" cy="309.9" r="0.5" fill="#777" opacity="0.9"/>
<circle cx="197.0" cy="312.1" r="0.5" fill="#777" opacity="0.9"/>
<circle cx="197.5" cy="307.9" r="0.5" fill="#777" opacity="0.9"/>
<circle cx="197.8" cy="312.3" r="0.5" fill="#777" opacity="0.9"/>
<circle cx="207.5" cy="301.6" r="0.5" fill="#777" opacity="0.9"/>
<circle cx="194.1" cy="318.0" r="0.5" fill="#777" opacity="0.9"/>
<circle cx="201.4" cy="308.1" r="0.5" fill="#777" opacity="0.9"/>
<circle cx="188.9" cy="316.7" r="0.5" fill="#777" opacity="0.9"/>
<circle cx="206.1" cy="306.4" r="0.5" fill="#777" opacity="0.9"/>
<circle cx="197.7" cy="315.6" r="0.5" fill="#777" opacity="0.9"/>
<circle cx="208.3" cy="304.3" r="0.5" fill="#777" opacity="0.9"/>
<circle cx="202.8" cy="311.4" r="0.5" fill="#777" opacity="0.9"/>
<circle cx="195.4" cy="316.6" r="0.5" fill="#777" opacity="0.9"/>
<circle cx="203.5" cy="304.5" r="0.5" fill="#777" opacity="0.9"/>
<circle cx="198.4" cy="311.3" r="0.5" fill="#777" opacity="0.9"/>
<circle cx="208.2" cy="304.3" r="0.5" fill="#777" opacity="0.9"/>
<circle cx="204.5" cy="305.0" r="0.5" fill="#777" opacity="0.9"/>
<circle cx="198.7" cy="310.2" r="0.5" fill="#777" opacity="0.9"/>
<circle cx="194.2" cy="312.5" r="0.5" fill="#777" opacity="0.9"/>
<circle cx="201.5" cy="307.5" r="0.5" fill="#777" opacity="0.9"/>
<circle cx="189.3" cy="319.2" r="0.5" fill="#777" opacity="0.9"/>
<circle cx="198.8" cy="312.0" r="0.5" fill="#777" opacity="0.9"/>
<circle cx="195.6" cy="314.2" r="0.5" fill="#777" opacity="0.9"/>
<circle cx="200.2" cy="310.6" r="0.5" fill="#777" opacity="0.9"/>
<circle cx="208.1" cy="302.8" r="0.5" fill="#777" opacity="0.9"/>
<circle cx="205.3" cy="308.9" r="0.5" fill="#777" opacity="0.9"/>
<circle cx="209.0" cy="303.2" r="0.5" fill="#777" opacity="0.9"/>
<circle cx="207.3" cy="300.6" r="0.5" fill="#777" opacity="0.9"/>
<circle cx="192.9" cy="315.1" r="0.5" fill="#777" opacity="0.9"/>
<circle cx="192.3" cy="315.6" r="0.5" fill="#777" opacity="0.9"/>
<circle cx="194.8" cy="313.8" r="0.5" fill="#777" opacity="0.9"/>
<circle cx="191.2" cy="317.1" r="0.5" fill="#777" opacity="0.9"/>
<circle cx="206.9" cy="303.1" r="0.5" fill="#777" opacity="0.9"/>
<circle cx="213.1" cy="311.9" r="0.45" fill="#666" opacity="0.85"/>
<circle cx="211.1" cy="311.9" r="0.45" fill="#666" opacity="0.85"/>
<circle cx="212.7" cy="312.0" r="0.45" fill="#666" opacity="0.85"/>
<circle cx="215.0" cy="309.5" r="0.45" fill="#666" opacity="0.85"/>
<circle cx="215.7" cy="310.3" r="0.45" fill="#666" opacity="0.85"/>
<circle cx="217.1" cy="310.2" r="0.45" fill="#666" opacity="0.85"/>
<circle cx="217.3" cy="309.7" r="0.45" fill="#666" opacity="0.85"/>
<circle cx="213.2" cy="313.2" r="0.45" fill="#666" opacity="0.85"/>
<circle cx="216.7" cy="309.2" r="0.45" fill="#666" opacity="0.85"/>
<circle cx="214.7" cy="311.6" r="0.45" fill="#666" opacity="0.85"/>
<circle cx="214.9" cy="310.2" r="0.45" fill="#666" opacity="0.85"/>
<circle cx="211.9" cy="312.4" r="0.45" fill="#666" opacity="0.85"/>
<circle cx="214.6" cy="310.9" r="0.45" fill="#666" opacity="0.85"/>
<circle cx="214.2" cy="311.5" r="0.45" fill="#666" opacity="0.85"/>
<circle cx="212.3" cy="312.2" r="0.45" fill="#666" opacity="0.85"/>
<circle cx="213.7" cy="312.0" r="0.45" fill="#666" opacity="0.85"/>
<circle cx="213.8" cy="310.9" r="0.45" fill="#666" opacity="0.85"/>
<circle cx="217.6" cy="309.0" r="0.45" fill="#666" opacity="0.85"/>
<circle cx="212.8" cy="312.3" r="0.45" fill="#666" opacity="0.85"/>
<circle cx="214.4" cy="312.0" r="0.45" fill="#666" opacity="0.85"/>
<circle cx="216.7" cy="309.9" r="0.45" fill="#666" opacity="0.85"/>
<circle cx="213.6" cy="311.0" r="0.45" fill="#666" opacity="0.85"/>
<circle cx="217.5" cy="307.4" r="0.45" fill="#666" opacity="0.85"/>
<circle cx="212.6" cy="311.6" r="0.45" fill="#666" opacity="0.85"/>
<circle cx="214.8" cy="310.9" r="0.45" fill="#666" opacity="0.85"/>
<circle cx="214.9" cy="310.0" r="0.45" fill="#666" opacity="0.85"/>
<circle cx="215.5" cy="310.2" r="0.45" fill="#666" opacity="0.85"/>
<circle cx="214.3" cy="310.9" r="0.45" fill="#666" opacity="0.85"/>
<circle cx="217.0" cy="309.5" r="0.45" fill="#666" opacity="0.85"/>
<circle cx="212.7" cy="312.0" r="0.45" fill="#666" opacity="0.85"/>
<circle cx="217.6" cy="308.4" r="0.45" fill="#666" opacity="0.85"/>
<circle cx="211.6" cy="312.4" r="0.45" fill="#666" opacity="0.85"/>
<circle cx="216.9" cy="310.3" r="0.45" fill="#666" opacity="0.85"/>
<circle cx="213.4" cy="311.8" r="0.45" fill="#666" opacity="0.85"/>
<circle cx="212.2" cy="312.1" r="0.45" fill="#666" opacity="0.85"/>
<circle cx="212.9" cy="312.8" r="0.45" fill="#666" opacity="0.85"/>
<circle cx="214.5" cy="311.0" r="0.45" fill="#666" opacity="0.85"/>
<circle cx="218.1" cy="308.5" r="0.45" fill="#666" opacity="0.85"/>
<circle cx="215.7" cy="309.4" r="0.45" fill="#666" opacity="0.85"/>
<circle cx="215.8" cy="310.0" r="0.45" fill="#666" opacity="0.85"/>
<polygon points="176.6,337.0 183.7,331.2 192.3,324.6 201.0,318.6 209.6,313.4 214.5,311.0 213.9,313.3 205.3,319.7 196.6,326.5 188.0,333.5 180.2,340.0 177.6,343.0 177.0,346.0 176.5,346.0" fill="#050505" stroke="#050505" stroke-width="0.9" stroke-linejoin="round" filter="url(#b04)"/>
<circle cx="201.9" cy="317.1" r="0.5" fill="#222" opacity="0.63"/>
<circle cx="204.7" cy="321.2" r="0.5" fill="#222" opacity="0.85"/>
<circle cx="178.8" cy="334.6" r="0.5" fill="#222" opacity="0.94"/>
<circle cx="185.0" cy="329.7" r="0.5" fill="#222" opacity="0.72"/>
<circle cx="191.9" cy="331.2" r="0.5" fill="#222" opacity="0.75"/>
<circle cx="191.4" cy="324.8" r="0.5" fill="#222" opacity="0.70"/>
<circle cx="189.6" cy="325.8" r="0.5" fill="#222" opacity="0.98"/>
<circle cx="185.2" cy="329.9" r="0.5" fill="#222" opacity="0.86"/>
<circle cx="206.3" cy="321.8" r="0.5" fill="#222" opacity="0.98"/>
<circle cx="196.7" cy="321.3" r="0.5" fill="#222" opacity="0.64"/>
<circle cx="195.0" cy="328.1" r="0.5" fill="#222" opacity="0.90"/>
<circle cx="213.9" cy="310.9" r="0.5" fill="#222" opacity="0.75"/>
<circle cx="213.3" cy="311.0" r="0.5" fill="#222" opacity="0.62"/>
<circle cx="183.6" cy="329.3" r="0.5" fill="#222" opacity="0.65"/>
<circle cx="187.2" cy="328.0" r="0.5" fill="#222" opacity="0.99"/>
<circle cx="181.5" cy="340.1" r="0.5" fill="#222" opacity="0.78"/>
<circle cx="191.5" cy="323.6" r="0.5" fill="#222" opacity="0.69"/>
<circle cx="210.3" cy="317.9" r="0.5" fill="#222" opacity="0.94"/>
<circle cx="189.0" cy="326.7" r="0.5" fill="#222" opacity="0.85"/>
<circle cx="191.9" cy="331.3" r="0.5" fill="#222" opacity="0.75"/>
<circle cx="209.2" cy="316.9" r="0.5" fill="#222" opacity="0.52"/>
<circle cx="186.5" cy="337.4" r="0.5" fill="#222" opacity="0.70"/>
<circle cx="185.5" cy="336.0" r="0.5" fill="#222" opacity="0.82"/>
<circle cx="186.9" cy="328.3" r="0.5" fill="#222" opacity="0.86"/>
<circle cx="215.8" cy="311.6" r="0.5" fill="#222" opacity="0.67"/>
<circle cx="215.1" cy="311.5" r="0.5" fill="#222" opacity="0.86"/>
<circle cx="185.7" cy="328.6" r="0.5" fill="#222" opacity="0.90"/>
<circle cx="177.9" cy="343.4" r="0.5" fill="#222" opacity="0.82"/>
<circle cx="208.8" cy="317.2" r="0.5" fill="#222" opacity="0.79"/>
<circle cx="206.0" cy="315.5" r="0.5" fill="#222" opacity="0.52"/>
<circle cx="182.0" cy="330.0" r="0.5" fill="#222" opacity="0.62"/>
<circle cx="206.6" cy="318.9" r="0.5" fill="#222" opacity="0.58"/>
<circle cx="201.0" cy="324.1" r="0.5" fill="#222" opacity="0.86"/>
<circle cx="216.3" cy="313.6" r="0.5" fill="#222" opacity="0.70"/>
<circle cx="209.5" cy="313.3" r="0.5" fill="#222" opacity="0.97"/>
<circle cx="204.0" cy="321.3" r="0.5" fill="#222" opacity="0.52"/>
<circle cx="198.0" cy="325.9" r="0.5" fill="#222" opacity="0.77"/>
<circle cx="189.7" cy="333.3" r="0.5" fill="#222" opacity="0.67"/>
<circle cx="200.5" cy="324.0" r="0.5" fill="#222" opacity="0.53"/>
<circle cx="182.2" cy="340.2" r="0.5" fill="#222" opacity="0.77"/>
<circle cx="185.2" cy="328.5" r="0.5" fill="#222" opacity="0.64"/>
<circle cx="207.7" cy="313.9" r="0.5" fill="#222" opacity="0.74"/>
<circle cx="196.3" cy="320.9" r="0.5" fill="#222" opacity="0.75"/>
<circle cx="187.0" cy="336.5" r="0.5" fill="#222" opacity="0.90"/>
<circle cx="195.1" cy="327.8" r="0.5" fill="#222" opacity="0.64"/>
<circle cx="210.7" cy="315.8" r="0.5" fill="#222" opacity="0.64"/>
<circle cx="181.2" cy="340.3" r="0.5" fill="#222" opacity="0.82"/>
<circle cx="195.5" cy="320.6" r="0.5" fill="#222" opacity="0.70"/>
<circle cx="204.6" cy="320.5" r="0.5" fill="#222" opacity="0.89"/>
<circle cx="216.6" cy="313.0" r="0.5" fill="#222" opacity="0.67"/>
<circle cx="204.1" cy="321.9" r="0.5" fill="#222" opacity="0.51"/>
<circle cx="187.1" cy="325.4" r="0.5" fill="#222" opacity="0.67"/>
<circle cx="179.2" cy="333.9" r="0.5" fill="#222" opacity="0.96"/>
<circle cx="185.3" cy="336.8" r="0.5" fill="#222" opacity="0.92"/>
<circle cx="195.2" cy="321.4" r="0.5" fill="#222" opacity="0.66"/>
<circle cx="208.2" cy="319.4" r="0.5" fill="#222" opacity="0.54"/>
<circle cx="201.1" cy="318.5" r="0.5" fill="#222" opacity="0.89"/>
<circle cx="210.0" cy="312.4" r="0.5" fill="#222" opacity="0.93"/>
<circle cx="198.2" cy="319.8" r="0.5" fill="#222" opacity="0.97"/>
<circle cx="184.5" cy="336.6" r="0.5" fill="#222" opacity="0.98"/>
<circle cx="193.1" cy="322.1" r="0.5" fill="#222" opacity="0.59"/>
<circle cx="198.1" cy="320.3" r="0.5" fill="#222" opacity="0.97"/>
<circle cx="179.0" cy="342.3" r="0.5" fill="#222" opacity="0.71"/>
<circle cx="193.3" cy="321.2" r="0.5" fill="#222" opacity="0.83"/>
<circle cx="198.9" cy="318.2" r="0.5" fill="#222" opacity="0.75"/>
<circle cx="186.4" cy="329.0" r="0.5" fill="#222" opacity="0.56"/>
<circle cx="179.7" cy="344.8" r="0.5" fill="#222" opacity="0.81"/>
<circle cx="208.0" cy="320.1" r="0.5" fill="#222" opacity="0.65"/>
<circle cx="184.2" cy="329.7" r="0.5" fill="#222" opacity="0.96"/>
<circle cx="188.5" cy="326.9" r="0.5" fill="#222" opacity="0.50"/>
<circle cx="183.7" cy="338.6" r="0.5" fill="#222" opacity="0.92"/>
<circle cx="212.1" cy="316.5" r="0.5" fill="#222" opacity="0.78"/>
<circle cx="182.0" cy="338.5" r="0.5" fill="#222" opacity="0.76"/>
<circle cx="192.2" cy="323.6" r="0.5" fill="#222" opacity="0.60"/>
<circle cx="200.8" cy="324.9" r="0.5" fill="#222" opacity="0.74"/>
<circle cx="184.9" cy="336.3" r="0.5" fill="#222" opacity="0.50"/>
<circle cx="177.2" cy="345.0" r="0.5" fill="#222" opacity="0.87"/>
<circle cx="182.9" cy="329.5" r="0.5" fill="#222" opacity="0.90"/>
<circle cx="181.4" cy="333.1" r="0.5" fill="#222" opacity="0.52"/>
<circle cx="196.4" cy="321.4" r="0.5" fill="#222" opacity="0.52"/>
<circle cx="196.6" cy="321.1" r="0.5" fill="#222" opacity="0.78"/>
<circle cx="207.4" cy="318.6" r="0.5" fill="#222" opacity="0.97"/>
<circle cx="179.2" cy="341.6" r="0.5" fill="#222" opacity="0.79"/>
<circle cx="186.2" cy="328.9" r="0.5" fill="#222" opacity="0.64"/>
<circle cx="190.2" cy="332.3" r="0.5" fill="#222" opacity="0.87"/>
<circle cx="212.4" cy="311.5" r="0.5" fill="#222" opacity="0.87"/>
<circle cx="192.1" cy="331.8" r="0.5" fill="#222" opacity="0.95"/>
<circle cx="209.5" cy="312.8" r="0.5" fill="#222" opacity="0.90"/>
<circle cx="195.2" cy="321.8" r="0.5" fill="#222" opacity="0.65"/>
<circle cx="194.2" cy="328.6" r="0.5" fill="#222" opacity="0.71"/>
<text x="205.80" y="262.40" font-size="8.8" text-anchor="start" font-weight="normal" fill="#1a1a1a" stroke="#1a1a1a" stroke-width="0.15" >C04</text>
<text x="217.70" y="304.40" font-size="8.6" text-anchor="start" font-weight="normal" fill="#1a1a1a" stroke="#1a1a1a" stroke-width="0.3" >R1</text>
<text x="219.80" y="326.80" font-size="10.6" text-anchor="start" font-weight="normal" fill="#111" stroke="#111" stroke-width="0.45" >BLM</text>
<text x="218.30" y="340.40" font-size="10.9" text-anchor="start" font-weight="normal" fill="#111" stroke="#111" stroke-width="0.45" >+ I-SceI</text>
<text x="176.20" y="357.50" font-size="8.4" text-anchor="middle" font-weight="normal" fill="#1a1a1a" stroke="#1a1a1a" stroke-width="0.3" >10</text>
<text x="180.80" y="353.80" font-size="5.4" text-anchor="start" font-weight="normal" fill="#1a1a1a" stroke="#1a1a1a" stroke-width="0.3" >0</text>
<text x="197.97" y="357.50" font-size="8.4" text-anchor="middle" font-weight="normal" fill="#1a1a1a" stroke="#1a1a1a" stroke-width="0.3" >10</text>
<text x="202.57" y="353.80" font-size="5.4" text-anchor="start" font-weight="normal" fill="#1a1a1a" stroke="#1a1a1a" stroke-width="0.3" >1</text>
<text x="219.75" y="357.50" font-size="8.4" text-anchor="middle" font-weight="normal" fill="#1a1a1a" stroke="#1a1a1a" stroke-width="0.3" >10</text>
<text x="224.35" y="353.80" font-size="5.4" text-anchor="start" font-weight="normal" fill="#1a1a1a" stroke="#1a1a1a" stroke-width="0.3" >2</text>
<text x="241.53" y="357.50" font-size="8.4" text-anchor="middle" font-weight="normal" fill="#1a1a1a" stroke="#1a1a1a" stroke-width="0.3" >10</text>
<text x="246.12" y="353.80" font-size="5.4" text-anchor="start" font-weight="normal" fill="#1a1a1a" stroke="#1a1a1a" stroke-width="0.3" >3</text>
<text x="263.30" y="357.50" font-size="8.4" text-anchor="middle" font-weight="normal" fill="#1a1a1a" stroke="#1a1a1a" stroke-width="0.3" >10</text>
<text x="267.90" y="353.80" font-size="5.4" text-anchor="start" font-weight="normal" fill="#1a1a1a" stroke="#1a1a1a" stroke-width="0.3" >4</text>
<text x="196.70" y="365.60" font-size="8.8" text-anchor="start" font-weight="normal" fill="#1a1a1a" stroke="#1a1a1a" stroke-width="0.3" >FL2-Height</text>
<g transform="translate(172.20,346.20) rotate(-90)">
<text x="0" y="0" font-size="8.4" text-anchor="middle" fill="#1a1a1a">10</text>
<text x="4.6" y="-3.7" font-size="5.4" fill="#1a1a1a">0</text>
</g>
<g transform="translate(172.20,325.93) rotate(-90)">
<text x="0" y="0" font-size="8.4" text-anchor="middle" fill="#1a1a1a">10</text>
<text x="4.6" y="-3.7" font-size="5.4" fill="#1a1a1a">1</text>
</g>
<g transform="translate(172.20,305.65) rotate(-90)">
<text x="0" y="0" font-size="8.4" text-anchor="middle" fill="#1a1a1a">10</text>
<text x="4.6" y="-3.7" font-size="5.4" fill="#1a1a1a">2</text>
</g>
<g transform="translate(172.20,285.38) rotate(-90)">
<text x="0" y="0" font-size="8.4" text-anchor="middle" fill="#1a1a1a">10</text>
<text x="4.6" y="-3.7" font-size="5.4" fill="#1a1a1a">3</text>
</g>
<g transform="translate(172.20,265.10) rotate(-90)">
<text x="0" y="0" font-size="8.4" text-anchor="middle" fill="#1a1a1a">10</text>
<text x="4.6" y="-3.7" font-size="5.4" fill="#1a1a1a">4</text>
</g>
<g transform="translate(160.20,305.65) rotate(-90)"><text x="0" y="0" font-size="8.8" text-anchor="middle" fill="#1a1a1a">FL1-Height</text></g>
<rect x="292.8" y="264.4" width="82.70" height="81.90" fill="none" stroke="#555" stroke-width="0.85"/>
<path d="M292.8,264.4 L292.8,346.3 L375.5,346.3" fill="none" stroke="#111" stroke-width="1.1"/>
<path d="M292.80,346.3 v2.6 M292.8,346.30 h-2.6 M299.02,346.3 v1.4 M292.8,340.14 h-1.4 M302.66,346.3 v1.4 M292.8,336.53 h-1.4 M305.25,346.3 v1.4 M292.8,333.97 h-1.4 M307.25,346.3 v1.4 M292.8,331.99 h-1.4 M308.89,346.3 v1.4 M292.8,330.37 h-1.4 M310.27,346.3 v1.4 M292.8,329.00 h-1.4 M311.47,346.3 v1.4 M292.8,327.81 h-1.4 M312.53,346.3 v1.4 M292.8,326.76 h-1.4 M313.48,346.3 v2.6 M292.8,325.82 h-2.6 M319.70,346.3 v1.4 M292.8,319.66 h-1.4 M323.34,346.3 v1.4 M292.8,316.06 h-1.4 M325.92,346.3 v1.4 M292.8,313.50 h-1.4 M327.93,346.3 v1.4 M292.8,311.51 h-1.4 M329.56,346.3 v1.4 M292.8,309.89 h-1.4 M330.95,346.3 v1.4 M292.8,308.52 h-1.4 M332.15,346.3 v1.4 M292.8,307.33 h-1.4 M333.20,346.3 v1.4 M292.8,306.29 h-1.4 M334.15,346.3 v2.6 M292.8,305.35 h-2.6 M340.37,346.3 v1.4 M292.8,299.19 h-1.4 M344.01,346.3 v1.4 M292.8,295.58 h-1.4 M346.60,346.3 v1.4 M292.8,293.02 h-1.4 M348.60,346.3 v1.4 M292.8,291.04 h-1.4 M350.24,346.3 v1.4 M292.8,289.42 h-1.4 M351.62,346.3 v1.4 M292.8,288.05 h-1.4 M352.82,346.3 v1.4 M292.8,286.86 h-1.4 M353.88,346.3 v1.4 M292.8,285.81 h-1.4 M354.82,346.3 v2.6 M292.8,284.88 h-2.6 M361.05,346.3 v1.4 M292.8,278.71 h-1.4 M364.69,346.3 v1.4 M292.8,275.11 h-1.4 M367.27,346.3 v1.4 M292.8,272.55 h-1.4 M369.28,346.3 v1.4 M292.8,270.56 h-1.4 M370.91,346.3 v1.4 M292.8,268.94 h-1.4 M372.30,346.3 v1.4 M292.8,267.57 h-1.4 M373.50,346.3 v1.4 M292.8,266.38 h-1.4 M374.55,346.3 v1.4 M292.8,265.34 h-1.4 M375.50,346.3 v2.6 M292.8,264.4 h-2.6" stroke="#222" stroke-width="0.7" fill="none"/>
<path d="M292.8,326.0 L303.5,326.0 L370.1,271.1 L292.8,271.1" fill="none" stroke="#1a1a1a" stroke-width="0.9"/>
<circle cx="318.0" cy="307.7" r="0.5" fill="#555" opacity="0.9"/>
<circle cx="315.8" cy="311.2" r="0.5" fill="#555" opacity="0.9"/>
<circle cx="317.0" cy="311.5" r="0.5" fill="#555" opacity="0.9"/>
<circle cx="315.0" cy="313.0" r="0.5" fill="#555" opacity="0.9"/>
<circle cx="322.3" cy="307.3" r="0.5" fill="#555" opacity="0.9"/>
<circle cx="311.6" cy="314.2" r="0.5" fill="#555" opacity="0.9"/>
<circle cx="306.3" cy="322.0" r="0.5" fill="#555" opacity="0.9"/>
<circle cx="311.0" cy="315.9" r="0.5" fill="#555" opacity="0.9"/>
<circle cx="306.5" cy="319.1" r="0.5" fill="#555" opacity="0.9"/>
<circle cx="310.7" cy="315.8" r="0.5" fill="#555" opacity="0.9"/>
<circle cx="314.0" cy="313.3" r="0.5" fill="#555" opacity="0.9"/>
<circle cx="317.0" cy="313.1" r="0.5" fill="#555" opacity="0.9"/>
<circle cx="314.6" cy="312.7" r="0.5" fill="#555" opacity="0.9"/>
<circle cx="316.1" cy="311.2" r="0.5" fill="#555" opacity="0.9"/>
<circle cx="324.3" cy="306.5" r="0.5" fill="#555" opacity="0.9"/>
<circle cx="320.9" cy="306.6" r="0.5" fill="#555" opacity="0.9"/>
<circle cx="311.0" cy="315.7" r="0.5" fill="#555" opacity="0.9"/>
<circle cx="317.4" cy="307.7" r="0.5" fill="#555" opacity="0.9"/>
<circle cx="317.6" cy="311.0" r="0.5" fill="#555" opacity="0.9"/>
<circle cx="312.6" cy="314.7" r="0.5" fill="#555" opacity="0.9"/>
<circle cx="314.4" cy="315.5" r="0.5" fill="#555" opacity="0.9"/>
<circle cx="313.3" cy="312.2" r="0.5" fill="#555" opacity="0.9"/>
<circle cx="316.6" cy="312.6" r="0.5" fill="#555" opacity="0.9"/>
<circle cx="319.4" cy="307.4" r="0.5" fill="#555" opacity="0.9"/>
<circle cx="319.0" cy="306.2" r="0.5" fill="#555" opacity="0.9"/>
<circle cx="318.6" cy="308.9" r="0.5" fill="#555" opacity="0.9"/>
<circle cx="321.2" cy="305.7" r="0.5" fill="#555" opacity="0.9"/>
<circle cx="312.4" cy="313.9" r="0.5" fill="#555" opacity="0.9"/>
<circle cx="308.8" cy="320.4" r="0.5" fill="#555" opacity="0.9"/>
<circle cx="317.1" cy="312.8" r="0.5" fill="#555" opacity="0.9"/>
<circle cx="319.3" cy="309.1" r="0.5" fill="#555" opacity="0.9"/>
<circle cx="316.2" cy="307.7" r="0.5" fill="#555" opacity="0.9"/>
<circle cx="307.6" cy="317.7" r="0.5" fill="#555" opacity="0.9"/>
<circle cx="312.3" cy="312.9" r="0.5" fill="#555" opacity="0.9"/>
<circle cx="321.3" cy="305.9" r="0.5" fill="#555" opacity="0.9"/>
<circle cx="321.5" cy="306.0" r="0.5" fill="#555" opacity="0.9"/>
<circle cx="310.0" cy="316.1" r="0.5" fill="#555" opacity="0.9"/>
<circle cx="316.4" cy="307.8" r="0.5" fill="#555" opacity="0.9"/>
<circle cx="314.4" cy="312.0" r="0.5" fill="#555" opacity="0.9"/>
<circle cx="320.5" cy="310.0" r="0.5" fill="#555" opacity="0.9"/>
<circle cx="311.7" cy="311.3" r="0.5" fill="#555" opacity="0.9"/>
<circle cx="318.5" cy="309.6" r="0.5" fill="#555" opacity="0.9"/>
<circle cx="321.3" cy="305.2" r="0.5" fill="#555" opacity="0.9"/>
<circle cx="305.6" cy="319.4" r="0.5" fill="#555" opacity="0.9"/>
<circle cx="320.9" cy="307.1" r="0.5" fill="#555" opacity="0.9"/>
<circle cx="318.8" cy="310.2" r="0.5" fill="#555" opacity="0.9"/>
<circle cx="317.6" cy="310.2" r="0.5" fill="#555" opacity="0.9"/>
<circle cx="308.5" cy="318.2" r="0.5" fill="#555" opacity="0.9"/>
<circle cx="312.2" cy="315.9" r="0.5" fill="#555" opacity="0.9"/>
<circle cx="313.6" cy="313.2" r="0.5" fill="#555" opacity="0.9"/>
<circle cx="322.1" cy="307.3" r="0.5" fill="#555" opacity="0.9"/>
<circle cx="305.1" cy="320.9" r="0.5" fill="#555" opacity="0.9"/>
<circle cx="314.0" cy="314.0" r="0.5" fill="#555" opacity="0.9"/>
<circle cx="314.0" cy="308.4" r="0.5" fill="#555" opacity="0.9"/>
<circle cx="313.4" cy="313.8" r="0.5" fill="#555" opacity="0.9"/>
<circle cx="306.9" cy="320.8" r="0.5" fill="#555" opacity="0.9"/>
<circle cx="306.6" cy="321.0" r="0.5" fill="#555" opacity="0.9"/>
<circle cx="318.3" cy="308.7" r="0.5" fill="#555" opacity="0.9"/>
<circle cx="321.6" cy="304.8" r="0.5" fill="#555" opacity="0.9"/>
<circle cx="322.1" cy="305.1" r="0.5" fill="#555" opacity="0.9"/>
<circle cx="313.3" cy="314.3" r="0.5" fill="#555" opacity="0.9"/>
<circle cx="309.7" cy="316.9" r="0.5" fill="#555" opacity="0.9"/>
<circle cx="312.9" cy="312.9" r="0.5" fill="#555" opacity="0.9"/>
<circle cx="312.1" cy="315.2" r="0.5" fill="#555" opacity="0.9"/>
<circle cx="305.4" cy="318.6" r="0.5" fill="#555" opacity="0.9"/>
<circle cx="303.5" cy="320.3" r="0.5" fill="#555" opacity="0.9"/>
<circle cx="312.1" cy="315.2" r="0.5" fill="#555" opacity="0.9"/>
<circle cx="317.3" cy="308.7" r="0.5" fill="#555" opacity="0.9"/>
<circle cx="307.0" cy="320.8" r="0.5" fill="#555" opacity="0.9"/>
<circle cx="302.9" cy="320.0" r="0.5" fill="#555" opacity="0.9"/>
<circle cx="310.9" cy="316.9" r="0.5" fill="#555" opacity="0.9"/>
<circle cx="322.4" cy="306.3" r="0.5" fill="#555" opacity="0.9"/>
<circle cx="308.8" cy="317.7" r="0.5" fill="#555" opacity="0.9"/>
<circle cx="308.4" cy="318.5" r="0.5" fill="#555" opacity="0.9"/>
<circle cx="323.0" cy="305.8" r="0.5" fill="#555" opacity="0.9"/>
<circle cx="311.5" cy="317.9" r="0.5" fill="#555" opacity="0.9"/>
<circle cx="311.2" cy="312.6" r="0.5" fill="#555" opacity="0.9"/>
<circle cx="318.7" cy="308.7" r="0.5" fill="#555" opacity="0.9"/>
<circle cx="313.7" cy="310.4" r="0.5" fill="#555" opacity="0.9"/>
<circle cx="316.6" cy="312.9" r="0.5" fill="#555" opacity="0.9"/>
<circle cx="316.1" cy="312.2" r="0.5" fill="#555" opacity="0.9"/>
<circle cx="320.9" cy="307.1" r="0.5" fill="#555" opacity="0.9"/>
<circle cx="314.6" cy="310.1" r="0.5" fill="#555" opacity="0.9"/>
<circle cx="309.3" cy="317.0" r="0.5" fill="#555" opacity="0.9"/>
<circle cx="315.8" cy="312.3" r="0.5" fill="#555" opacity="0.9"/>
<circle cx="309.9" cy="316.9" r="0.5" fill="#555" opacity="0.9"/>
<circle cx="322.5" cy="308.4" r="0.5" fill="#555" opacity="0.9"/>
<circle cx="307.3" cy="320.4" r="0.5" fill="#555" opacity="0.9"/>
<circle cx="312.0" cy="314.3" r="0.5" fill="#555" opacity="0.9"/>
<circle cx="318.4" cy="312.0" r="0.5" fill="#555" opacity="0.9"/>
<circle cx="319.1" cy="306.5" r="0.5" fill="#555" opacity="0.9"/>
<circle cx="315.6" cy="311.3" r="0.5" fill="#555" opacity="0.9"/>
<circle cx="314.1" cy="312.6" r="0.5" fill="#555" opacity="0.9"/>
<circle cx="305.8" cy="321.2" r="0.5" fill="#555" opacity="0.9"/>
<circle cx="315.7" cy="310.5" r="0.5" fill="#555" opacity="0.9"/>
<circle cx="305.4" cy="320.8" r="0.5" fill="#555" opacity="0.9"/>
<circle cx="304.6" cy="319.9" r="0.5" fill="#555" opacity="0.9"/>
<circle cx="309.2" cy="315.9" r="0.5" fill="#555" opacity="0.9"/>
<circle cx="308.4" cy="315.4" r="0.5" fill="#555" opacity="0.9"/>
<circle cx="312.4" cy="315.4" r="0.5" fill="#555" opacity="0.9"/>
<circle cx="306.0" cy="319.8" r="0.5" fill="#555" opacity="0.9"/>
<circle cx="322.7" cy="306.2" r="0.5" fill="#555" opacity="0.9"/>
<circle cx="317.5" cy="312.3" r="0.5" fill="#555" opacity="0.9"/>
<circle cx="305.7" cy="320.4" r="0.5" fill="#555" opacity="0.9"/>
<circle cx="316.8" cy="307.0" r="0.5" fill="#555" opacity="0.9"/>
<circle cx="307.1" cy="321.3" r="0.5" fill="#555" opacity="0.9"/>
<circle cx="322.7" cy="306.3" r="0.5" fill="#555" opacity="0.9"/>
<circle cx="319.1" cy="311.1" r="0.5" fill="#555" opacity="0.9"/>
<circle cx="306.2" cy="319.9" r="0.5" fill="#555" opacity="0.9"/>
<circle cx="306.7" cy="316.8" r="0.5" fill="#555" opacity="0.9"/>
<circle cx="311.4" cy="316.7" r="0.5" fill="#555" opacity="0.9"/>
<circle cx="308.9" cy="317.2" r="0.5" fill="#555" opacity="0.9"/>
<circle cx="310.3" cy="314.3" r="0.5" fill="#555" opacity="0.9"/>
<circle cx="305.4" cy="319.8" r="0.5" fill="#555" opacity="0.9"/>
<circle cx="305.8" cy="323.0" r="0.5" fill="#555" opacity="0.9"/>
<circle cx="313.6" cy="312.5" r="0.5" fill="#555" opacity="0.9"/>
<circle cx="309.9" cy="319.0" r="0.5" fill="#555" opacity="0.9"/>
<circle cx="311.9" cy="312.2" r="0.5" fill="#555" opacity="0.9"/>
<circle cx="304.9" cy="317.2" r="0.5" fill="#555" opacity="0.9"/>
<circle cx="313.4" cy="313.0" r="0.5" fill="#555" opacity="0.9"/>
<circle cx="306.4" cy="319.1" r="0.5" fill="#555" opacity="0.9"/>
<circle cx="308.1" cy="317.8" r="0.5" fill="#555" opacity="0.9"/>
<circle cx="308.1" cy="318.0" r="0.5" fill="#555" opacity="0.9"/>
<circle cx="313.1" cy="314.9" r="0.5" fill="#555" opacity="0.9"/>
<circle cx="318.8" cy="304.1" r="0.5" fill="#555" opacity="0.9"/>
<circle cx="306.8" cy="321.0" r="0.5" fill="#555" opacity="0.9"/>
<circle cx="314.5" cy="313.7" r="0.5" fill="#555" opacity="0.9"/>
<circle cx="304.3" cy="317.0" r="0.5" fill="#555" opacity="0.9"/>
<circle cx="313.0" cy="313.5" r="0.5" fill="#555" opacity="0.9"/>
<circle cx="311.8" cy="313.4" r="0.5" fill="#555" opacity="0.9"/>
<circle cx="323.4" cy="306.9" r="0.5" fill="#555" opacity="0.9"/>
<circle cx="314.4" cy="310.9" r="0.5" fill="#555" opacity="0.9"/>
<circle cx="315.4" cy="314.0" r="0.5" fill="#555" opacity="0.9"/>
<circle cx="315.2" cy="311.1" r="0.5" fill="#555" opacity="0.9"/>
<circle cx="318.7" cy="309.2" r="0.5" fill="#555" opacity="0.9"/>
<circle cx="310.7" cy="317.3" r="0.5" fill="#555" opacity="0.9"/>
<circle cx="308.5" cy="318.3" r="0.5" fill="#555" opacity="0.9"/>
<circle cx="319.2" cy="311.8" r="0.5" fill="#555" opacity="0.9"/>
<circle cx="315.4" cy="312.1" r="0.5" fill="#555" opacity="0.9"/>
<circle cx="305.9" cy="319.7" r="0.5" fill="#555" opacity="0.9"/>
<circle cx="314.4" cy="310.6" r="0.5" fill="#555" opacity="0.9"/>
<circle cx="310.1" cy="317.2" r="0.5" fill="#555" opacity="0.9"/>
<circle cx="315.9" cy="312.6" r="0.5" fill="#555" opacity="0.9"/>
<circle cx="322.1" cy="304.6" r="0.5" fill="#555" opacity="0.9"/>
<circle cx="317.3" cy="308.1" r="0.5" fill="#555" opacity="0.9"/>
<circle cx="318.1" cy="308.8" r="0.5" fill="#555" opacity="0.9"/>
<circle cx="320.8" cy="307.3" r="0.5" fill="#555" opacity="0.9"/>
<circle cx="307.2" cy="319.5" r="0.5" fill="#555" opacity="0.9"/>
<circle cx="317.9" cy="310.8" r="0.5" fill="#555" opacity="0.9"/>
<circle cx="311.6" cy="314.0" r="0.5" fill="#555" opacity="0.9"/>
<circle cx="319.0" cy="309.0" r="0.5" fill="#555" opacity="0.9"/>
<circle cx="316.6" cy="307.8" r="0.5" fill="#555" opacity="0.9"/>
<circle cx="303.3" cy="319.3" r="0.5" fill="#555" opacity="0.9"/>
<circle cx="319.7" cy="308.2" r="0.5" fill="#555" opacity="0.9"/>
<circle cx="310.2" cy="314.0" r="0.5" fill="#555" opacity="0.9"/>
<circle cx="323.3" cy="305.9" r="0.5" fill="#555" opacity="0.9"/>
<circle cx="302.6" cy="318.4" r="0.5" fill="#555" opacity="0.9"/>
<circle cx="318.1" cy="309.2" r="0.5" fill="#555" opacity="0.9"/>
<circle cx="319.8" cy="308.2" r="0.5" fill="#555" opacity="0.9"/>
<circle cx="321.2" cy="307.1" r="0.5" fill="#555" opacity="0.9"/>
<circle cx="328.0" cy="310.7" r="0.45" fill="#666" opacity="0.85"/>
<circle cx="325.4" cy="313.4" r="0.45" fill="#666" opacity="0.85"/>
<circle cx="329.7" cy="309.6" r="0.45" fill="#666" opacity="0.85"/>
<circle cx="325.6" cy="313.7" r="0.45" fill="#666" opacity="0.85"/>
<circle cx="328.4" cy="311.6" r="0.45" fill="#666" opacity="0.85"/>
<circle cx="326.6" cy="312.1" r="0.45" fill="#666" opacity="0.85"/>
<circle cx="326.2" cy="313.6" r="0.45" fill="#666" opacity="0.85"/>
<circle cx="328.5" cy="311.7" r="0.45" fill="#666" opacity="0.85"/>
<circle cx="328.6" cy="311.0" r="0.45" fill="#666" opacity="0.85"/>
<circle cx="328.5" cy="311.8" r="0.45" fill="#666" opacity="0.85"/>
<circle cx="330.5" cy="309.5" r="0.45" fill="#666" opacity="0.85"/>
<circle cx="327.2" cy="312.0" r="0.45" fill="#666" opacity="0.85"/>
<circle cx="330.6" cy="310.5" r="0.45" fill="#666" opacity="0.85"/>
<circle cx="329.6" cy="309.7" r="0.45" fill="#666" opacity="0.85"/>
<circle cx="325.7" cy="313.5" r="0.45" fill="#666" opacity="0.85"/>
<circle cx="329.1" cy="311.2" r="0.45" fill="#666" opacity="0.85"/>
<circle cx="326.2" cy="313.8" r="0.45" fill="#666" opacity="0.85"/>
<circle cx="327.4" cy="311.4" r="0.45" fill="#666" opacity="0.85"/>
<circle cx="326.5" cy="312.0" r="0.45" fill="#666" opacity="0.85"/>
<circle cx="329.0" cy="311.6" r="0.45" fill="#666" opacity="0.85"/>
<circle cx="327.4" cy="311.4" r="0.45" fill="#666" opacity="0.85"/>
<circle cx="325.4" cy="314.0" r="0.45" fill="#666" opacity="0.85"/>
<circle cx="325.3" cy="314.0" r="0.45" fill="#666" opacity="0.85"/>
<circle cx="329.0" cy="310.5" r="0.45" fill="#666" opacity="0.85"/>
<circle cx="330.7" cy="309.1" r="0.45" fill="#666" opacity="0.85"/>
<circle cx="327.9" cy="311.9" r="0.45" fill="#666" opacity="0.85"/>
<circle cx="328.9" cy="310.5" r="0.45" fill="#666" opacity="0.85"/>
<circle cx="330.5" cy="309.2" r="0.45" fill="#666" opacity="0.85"/>
<circle cx="330.4" cy="309.0" r="0.45" fill="#666" opacity="0.85"/>
<circle cx="326.6" cy="312.0" r="0.45" fill="#666" opacity="0.85"/>
<circle cx="326.9" cy="312.9" r="0.45" fill="#666" opacity="0.85"/>
<circle cx="330.1" cy="309.4" r="0.45" fill="#666" opacity="0.85"/>
<circle cx="327.0" cy="312.4" r="0.45" fill="#666" opacity="0.85"/>
<circle cx="329.6" cy="310.4" r="0.45" fill="#666" opacity="0.85"/>
<circle cx="329.4" cy="310.2" r="0.45" fill="#666" opacity="0.85"/>
<circle cx="330.6" cy="310.2" r="0.45" fill="#666" opacity="0.85"/>
<circle cx="330.4" cy="309.5" r="0.45" fill="#666" opacity="0.85"/>
<circle cx="329.2" cy="311.4" r="0.45" fill="#666" opacity="0.85"/>
<circle cx="326.3" cy="312.5" r="0.45" fill="#666" opacity="0.85"/>
<circle cx="330.0" cy="309.6" r="0.45" fill="#666" opacity="0.85"/>
<polygon points="293.2,337.6 301.2,331.3 308.8,325.4 316.8,320.0 323.8,314.6 328.3,311.8 326.6,314.2 322.2,318.6 314.2,325.2 307.7,331.0 303.4,334.0 300.7,337.1 295.5,342.3 293.7,344.5 293.2,345.5" fill="#050505" stroke="#050505" stroke-width="0.9" stroke-linejoin="round" filter="url(#b04)"/>
<circle cx="313.1" cy="322.3" r="0.5" fill="#222" opacity="0.76"/>
<circle cx="321.0" cy="316.6" r="0.5" fill="#222" opacity="0.67"/>
<circle cx="322.9" cy="319.3" r="0.5" fill="#222" opacity="0.56"/>
<circle cx="323.8" cy="318.3" r="0.5" fill="#222" opacity="0.97"/>
<circle cx="312.9" cy="321.3" r="0.5" fill="#222" opacity="0.61"/>
<circle cx="307.5" cy="331.8" r="0.5" fill="#222" opacity="0.76"/>
<circle cx="326.1" cy="316.6" r="0.5" fill="#222" opacity="0.50"/>
<circle cx="325.8" cy="312.9" r="0.5" fill="#222" opacity="0.92"/>
<circle cx="315.2" cy="319.8" r="0.5" fill="#222" opacity="0.51"/>
<circle cx="321.4" cy="319.3" r="0.5" fill="#222" opacity="0.81"/>
<circle cx="297.1" cy="334.0" r="0.5" fill="#222" opacity="0.74"/>
<circle cx="322.6" cy="314.2" r="0.5" fill="#222" opacity="0.71"/>
<circle cx="302.2" cy="336.5" r="0.5" fill="#222" opacity="0.96"/>
<circle cx="319.3" cy="318.0" r="0.5" fill="#222" opacity="0.62"/>
<circle cx="304.2" cy="327.5" r="0.5" fill="#222" opacity="0.87"/>
<circle cx="309.8" cy="330.4" r="0.5" fill="#222" opacity="0.52"/>
<circle cx="325.6" cy="311.8" r="0.5" fill="#222" opacity="0.72"/>
<circle cx="326.9" cy="314.8" r="0.5" fill="#222" opacity="0.96"/>
<circle cx="309.9" cy="324.2" r="0.5" fill="#222" opacity="0.81"/>
<circle cx="318.3" cy="322.6" r="0.5" fill="#222" opacity="0.89"/>
<circle cx="318.9" cy="317.1" r="0.5" fill="#222" opacity="0.75"/>
<circle cx="303.9" cy="327.9" r="0.5" fill="#222" opacity="0.71"/>
<circle cx="308.2" cy="324.5" r="0.5" fill="#222" opacity="0.71"/>
<circle cx="305.0" cy="334.7" r="0.5" fill="#222" opacity="0.58"/>
<circle cx="293.9" cy="335.7" r="0.5" fill="#222" opacity="0.90"/>
<circle cx="313.7" cy="326.6" r="0.5" fill="#222" opacity="0.75"/>
<circle cx="318.4" cy="318.7" r="0.5" fill="#222" opacity="0.77"/>
<circle cx="324.0" cy="314.1" r="0.5" fill="#222" opacity="0.89"/>
<circle cx="314.6" cy="321.4" r="0.5" fill="#222" opacity="0.93"/>
<circle cx="297.1" cy="333.6" r="0.5" fill="#222" opacity="0.66"/>
<circle cx="301.7" cy="330.5" r="0.5" fill="#222" opacity="0.73"/>
<circle cx="306.0" cy="334.2" r="0.5" fill="#222" opacity="0.86"/>
<circle cx="309.9" cy="324.4" r="0.5" fill="#222" opacity="0.93"/>
<circle cx="308.9" cy="324.5" r="0.5" fill="#222" opacity="0.92"/>
<circle cx="320.7" cy="322.4" r="0.5" fill="#222" opacity="0.75"/>
<circle cx="307.1" cy="325.8" r="0.5" fill="#222" opacity="0.50"/>
<circle cx="307.6" cy="332.0" r="0.5" fill="#222" opacity="0.81"/>
<circle cx="309.8" cy="329.6" r="0.5" fill="#222" opacity="0.95"/>
<circle cx="326.8" cy="314.0" r="0.5" fill="#222" opacity="0.81"/>
<circle cx="298.2" cy="331.5" r="0.5" fill="#222" opacity="0.54"/>
<circle cx="318.1" cy="318.4" r="0.5" fill="#222" opacity="0.67"/>
<circle cx="300.7" cy="330.4" r="0.5" fill="#222" opacity="0.59"/>
<circle cx="296.0" cy="344.1" r="0.5" fill="#222" opacity="0.79"/>
<circle cx="330.2" cy="311.2" r="0.5" fill="#222" opacity="0.86"/>
<circle cx="310.8" cy="328.8" r="0.5" fill="#222" opacity="0.84"/>
<circle cx="308.3" cy="331.1" r="0.5" fill="#222" opacity="0.96"/>
<circle cx="325.0" cy="312.2" r="0.5" fill="#222" opacity="0.67"/>
<circle cx="318.6" cy="321.9" r="0.5" fill="#222" opacity="0.90"/>
<circle cx="294.2" cy="336.5" r="0.5" fill="#222" opacity="0.83"/>
<circle cx="314.1" cy="326.8" r="0.5" fill="#222" opacity="0.61"/>
<circle cx="295.0" cy="343.0" r="0.5" fill="#222" opacity="0.84"/>
<circle cx="300.0" cy="340.4" r="0.5" fill="#222" opacity="0.63"/>
<circle cx="325.8" cy="310.7" r="0.5" fill="#222" opacity="0.89"/>
<circle cx="297.2" cy="332.8" r="0.5" fill="#222" opacity="0.71"/>
<circle cx="319.5" cy="322.0" r="0.5" fill="#222" opacity="0.60"/>
<circle cx="312.1" cy="327.6" r="0.5" fill="#222" opacity="0.65"/>
<circle cx="309.7" cy="330.0" r="0.5" fill="#222" opacity="0.83"/>
<circle cx="313.7" cy="320.8" r="0.5" fill="#222" opacity="0.82"/>
<circle cx="317.3" cy="323.1" r="0.5" fill="#222" opacity="0.82"/>
<circle cx="306.9" cy="332.4" r="0.5" fill="#222" opacity="0.58"/>
<circle cx="311.8" cy="322.8" r="0.5" fill="#222" opacity="0.64"/>
<circle cx="299.0" cy="340.2" r="0.5" fill="#222" opacity="0.58"/>
<circle cx="324.9" cy="317.2" r="0.5" fill="#222" opacity="0.57"/>
<circle cx="316.8" cy="319.1" r="0.5" fill="#222" opacity="0.58"/>
<circle cx="307.9" cy="325.2" r="0.5" fill="#222" opacity="0.74"/>
<circle cx="320.4" cy="317.2" r="0.5" fill="#222" opacity="0.71"/>
<circle cx="327.1" cy="312.3" r="0.5" fill="#222" opacity="0.88"/>
<circle cx="303.3" cy="337.0" r="0.5" fill="#222" opacity="0.89"/>
<circle cx="301.5" cy="330.6" r="0.5" fill="#222" opacity="0.52"/>
<circle cx="321.6" cy="319.3" r="0.5" fill="#222" opacity="0.81"/>
<circle cx="319.8" cy="316.8" r="0.5" fill="#222" opacity="0.63"/>
<circle cx="324.0" cy="314.0" r="0.5" fill="#222" opacity="0.70"/>
<circle cx="323.9" cy="316.9" r="0.5" fill="#222" opacity="0.50"/>
<circle cx="312.2" cy="327.7" r="0.5" fill="#222" opacity="0.92"/>
<circle cx="300.8" cy="330.6" r="0.5" fill="#222" opacity="0.75"/>
<circle cx="300.8" cy="338.0" r="0.5" fill="#222" opacity="0.71"/>
<circle cx="326.4" cy="310.9" r="0.5" fill="#222" opacity="0.69"/>
<circle cx="297.4" cy="343.2" r="0.5" fill="#222" opacity="0.86"/>
<circle cx="303.5" cy="336.4" r="0.5" fill="#222" opacity="0.81"/>
<circle cx="322.3" cy="319.8" r="0.5" fill="#222" opacity="0.72"/>
<circle cx="300.6" cy="337.3" r="0.5" fill="#222" opacity="0.84"/>
<circle cx="324.2" cy="317.9" r="0.5" fill="#222" opacity="0.57"/>
<circle cx="325.2" cy="312.4" r="0.5" fill="#222" opacity="0.85"/>
<circle cx="312.3" cy="322.3" r="0.5" fill="#222" opacity="0.88"/>
<circle cx="319.2" cy="323.9" r="0.5" fill="#222" opacity="0.81"/>
<circle cx="299.7" cy="339.2" r="0.5" fill="#222" opacity="0.80"/>
<circle cx="311.3" cy="323.0" r="0.5" fill="#222" opacity="0.88"/>
<circle cx="322.3" cy="315.2" r="0.5" fill="#222" opacity="0.65"/>
<circle cx="299.0" cy="340.1" r="0.5" fill="#222" opacity="0.61"/>
<circle cx="324.1" cy="317.7" r="0.5" fill="#222" opacity="0.80"/>
<polygon points="312.5,311.5 318.5,305.5 319.7,306.5 314.0,312.5" fill="#222" filter="url(#b05)"/>
<text x="320.40" y="262.50" font-size="8.8" text-anchor="start" font-weight="normal" fill="#1a1a1a" stroke="#1a1a1a" stroke-width="0.15" >C05</text>
<text x="329.90" y="303.30" font-size="8.6" text-anchor="start" font-weight="normal" fill="#1a1a1a" stroke="#1a1a1a" stroke-width="0.3" >R1</text>
<text x="332.10" y="326.30" font-size="10.6" text-anchor="start" font-weight="normal" fill="#111" stroke="#111" stroke-width="0.45" >WRN</text>
<text x="330.60" y="339.80" font-size="10.9" text-anchor="start" font-weight="normal" fill="#111" stroke="#111" stroke-width="0.45" >+ I-SceI</text>
<text x="292.80" y="357.60" font-size="8.4" text-anchor="middle" font-weight="normal" fill="#1a1a1a" stroke="#1a1a1a" stroke-width="0.3" >10</text>
<text x="297.40" y="353.90" font-size="5.4" text-anchor="start" font-weight="normal" fill="#1a1a1a" stroke="#1a1a1a" stroke-width="0.3" >0</text>
<text x="313.48" y="357.60" font-size="8.4" text-anchor="middle" font-weight="normal" fill="#1a1a1a" stroke="#1a1a1a" stroke-width="0.3" >10</text>
<text x="318.08" y="353.90" font-size="5.4" text-anchor="start" font-weight="normal" fill="#1a1a1a" stroke="#1a1a1a" stroke-width="0.3" >1</text>
<text x="334.15" y="357.60" font-size="8.4" text-anchor="middle" font-weight="normal" fill="#1a1a1a" stroke="#1a1a1a" stroke-width="0.3" >10</text>
<text x="338.75" y="353.90" font-size="5.4" text-anchor="start" font-weight="normal" fill="#1a1a1a" stroke="#1a1a1a" stroke-width="0.3" >2</text>
<text x="354.82" y="357.60" font-size="8.4" text-anchor="middle" font-weight="normal" fill="#1a1a1a" stroke="#1a1a1a" stroke-width="0.3" >10</text>
<text x="359.43" y="353.90" font-size="5.4" text-anchor="start" font-weight="normal" fill="#1a1a1a" stroke="#1a1a1a" stroke-width="0.3" >3</text>
<text x="375.50" y="357.60" font-size="8.4" text-anchor="middle" font-weight="normal" fill="#1a1a1a" stroke="#1a1a1a" stroke-width="0.3" >10</text>
<text x="380.10" y="353.90" font-size="5.4" text-anchor="start" font-weight="normal" fill="#1a1a1a" stroke="#1a1a1a" stroke-width="0.3" >4</text>
<text x="313.30" y="365.70" font-size="8.8" text-anchor="start" font-weight="normal" fill="#1a1a1a" stroke="#1a1a1a" stroke-width="0.3" >FL2-Height</text>
<g transform="translate(288.80,346.30) rotate(-90)">
<text x="0" y="0" font-size="8.4" text-anchor="middle" fill="#1a1a1a">10</text>
<text x="4.6" y="-3.7" font-size="5.4" fill="#1a1a1a">0</text>
</g>
<g transform="translate(288.80,325.82) rotate(-90)">
<text x="0" y="0" font-size="8.4" text-anchor="middle" fill="#1a1a1a">10</text>
<text x="4.6" y="-3.7" font-size="5.4" fill="#1a1a1a">1</text>
</g>
<g transform="translate(288.80,305.35) rotate(-90)">
<text x="0" y="0" font-size="8.4" text-anchor="middle" fill="#1a1a1a">10</text>
<text x="4.6" y="-3.7" font-size="5.4" fill="#1a1a1a">2</text>
</g>
<g transform="translate(288.80,284.88) rotate(-90)">
<text x="0" y="0" font-size="8.4" text-anchor="middle" fill="#1a1a1a">10</text>
<text x="4.6" y="-3.7" font-size="5.4" fill="#1a1a1a">3</text>
</g>
<g transform="translate(288.80,264.40) rotate(-90)">
<text x="0" y="0" font-size="8.4" text-anchor="middle" fill="#1a1a1a">10</text>
<text x="4.6" y="-3.7" font-size="5.4" fill="#1a1a1a">4</text>
</g>
<g transform="translate(276.80,305.35) rotate(-90)"><text x="0" y="0" font-size="8.8" text-anchor="middle" fill="#1a1a1a">FL1-Height</text></g>
<rect x="408.0" y="263.8" width="86.50" height="82.80" fill="none" stroke="#555" stroke-width="0.85"/>
<path d="M408.0,263.8 L408.0,346.6 L494.5,346.6" fill="none" stroke="#111" stroke-width="1.1"/>
<path d="M408.00,346.6 v2.6 M408.0,346.60 h-2.6 M414.51,346.6 v1.4 M408.0,340.37 h-1.4 M418.32,346.6 v1.4 M408.0,336.72 h-1.4 M421.02,346.6 v1.4 M408.0,334.14 h-1.4 M423.12,346.6 v1.4 M408.0,332.13 h-1.4 M424.83,346.6 v1.4 M408.0,330.49 h-1.4 M426.28,346.6 v1.4 M408.0,329.11 h-1.4 M427.53,346.6 v1.4 M408.0,327.91 h-1.4 M428.64,346.6 v1.4 M408.0,326.85 h-1.4 M429.62,346.6 v2.6 M408.0,325.90 h-2.6 M436.13,346.6 v1.4 M408.0,319.67 h-1.4 M439.94,346.6 v1.4 M408.0,316.02 h-1.4 M442.64,346.6 v1.4 M408.0,313.44 h-1.4 M444.74,346.6 v1.4 M408.0,311.43 h-1.4 M446.45,346.6 v1.4 M408.0,309.79 h-1.4 M447.90,346.6 v1.4 M408.0,308.41 h-1.4 M449.15,346.6 v1.4 M408.0,307.21 h-1.4 M450.26,346.6 v1.4 M408.0,306.15 h-1.4 M451.25,346.6 v2.6 M408.0,305.20 h-2.6 M457.76,346.6 v1.4 M408.0,298.97 h-1.4 M461.57,346.6 v1.4 M408.0,295.32 h-1.4 M464.27,346.6 v1.4 M408.0,292.74 h-1.4 M466.37,346.6 v1.4 M408.0,290.73 h-1.4 M468.08,346.6 v1.4 M408.0,289.09 h-1.4 M469.53,346.6 v1.4 M408.0,287.71 h-1.4 M470.78,346.6 v1.4 M408.0,286.51 h-1.4 M471.89,346.6 v1.4 M408.0,285.45 h-1.4 M472.88,346.6 v2.6 M408.0,284.50 h-2.6 M479.38,346.6 v1.4 M408.0,278.27 h-1.4 M483.19,346.6 v1.4 M408.0,274.62 h-1.4 M485.89,346.6 v1.4 M408.0,272.04 h-1.4 M487.99,346.6 v1.4 M408.0,270.03 h-1.4 M489.70,346.6 v1.4 M408.0,268.39 h-1.4 M491.15,346.6 v1.4 M408.0,267.01 h-1.4 M492.40,346.6 v1.4 M408.0,265.81 h-1.4 M493.51,346.6 v1.4 M408.0,264.75 h-1.4 M494.50,346.6 v2.6 M408.0,263.8 h-2.6" stroke="#222" stroke-width="0.7" fill="none"/>
<path d="M408.0,326.3 L418.7,326.3 L489.5,270.8 L408.0,270.8" fill="none" stroke="#1a1a1a" stroke-width="0.9"/>
<circle cx="410.8" cy="341.9" r="0.5" fill="#666" opacity="0.8"/>
<circle cx="410.7" cy="339.7" r="0.5" fill="#666" opacity="0.8"/>
<circle cx="412.1" cy="339.5" r="0.5" fill="#666" opacity="0.8"/>
<circle cx="411.0" cy="340.7" r="0.5" fill="#666" opacity="0.8"/>
<circle cx="411.6" cy="342.0" r="0.5" fill="#666" opacity="0.8"/>
<circle cx="409.4" cy="342.6" r="0.5" fill="#666" opacity="0.8"/>
<circle cx="413.0" cy="340.2" r="0.5" fill="#666" opacity="0.8"/>
<circle cx="412.0" cy="342.3" r="0.5" fill="#666" opacity="0.8"/>
<circle cx="411.9" cy="343.9" r="0.5" fill="#666" opacity="0.8"/>
<circle cx="409.7" cy="345.4" r="0.5" fill="#666" opacity="0.8"/>
<circle cx="409.5" cy="346.1" r="0.5" fill="#666" opacity="0.8"/>
<circle cx="411.7" cy="339.1" r="0.5" fill="#666" opacity="0.8"/>
<circle cx="411.7" cy="340.5" r="0.5" fill="#666" opacity="0.8"/>
<circle cx="412.6" cy="340.6" r="0.5" fill="#666" opacity="0.8"/>
<circle cx="411.4" cy="341.4" r="0.5" fill="#666" opacity="0.8"/>
<circle cx="408.8" cy="341.2" r="0.5" fill="#666" opacity="0.8"/>
<circle cx="409.2" cy="345.3" r="0.5" fill="#666" opacity="0.8"/>
<circle cx="409.9" cy="346.0" r="0.5" fill="#666" opacity="0.8"/>
<circle cx="410.3" cy="342.0" r="0.5" fill="#666" opacity="0.8"/>
<circle cx="412.2" cy="343.3" r="0.5" fill="#666" opacity="0.8"/>
<circle cx="411.1" cy="344.7" r="0.5" fill="#666" opacity="0.8"/>
<circle cx="410.7" cy="339.5" r="0.5" fill="#666" opacity="0.8"/>
<circle cx="409.1" cy="343.4" r="0.5" fill="#666" opacity="0.8"/>
<circle cx="408.7" cy="337.9" r="0.5" fill="#666" opacity="0.8"/>
<circle cx="411.9" cy="340.4" r="0.5" fill="#666" opacity="0.8"/>
<circle cx="431.5" cy="310.7" r="0.5" fill="#777" opacity="0.9"/>
<circle cx="435.3" cy="302.5" r="0.5" fill="#777" opacity="0.9"/>
<circle cx="431.1" cy="308.8" r="0.5" fill="#777" opacity="0.9"/>
<circle cx="436.5" cy="305.7" r="0.5" fill="#777" opacity="0.9"/>
<circle cx="428.6" cy="312.5" r="0.5" fill="#777" opacity="0.9"/>
<circle cx="426.8" cy="312.8" r="0.5" fill="#777" opacity="0.9"/>
<circle cx="434.6" cy="307.5" r="0.5" fill="#777" opacity="0.9"/>
<circle cx="439.9" cy="304.7" r="0.5" fill="#777" opacity="0.9"/>
<circle cx="439.2" cy="303.0" r="0.5" fill="#777" opacity="0.9"/>
<circle cx="437.3" cy="302.1" r="0.5" fill="#777" opacity="0.9"/>
<circle cx="430.1" cy="309.8" r="0.5" fill="#777" opacity="0.9"/>
<circle cx="438.3" cy="303.0" r="0.5" fill="#777" opacity="0.9"/>
<circle cx="435.8" cy="306.6" r="0.5" fill="#777" opacity="0.9"/>
<circle cx="432.6" cy="308.3" r="0.5" fill="#777" opacity="0.9"/>
<circle cx="429.5" cy="315.2" r="0.5" fill="#777" opacity="0.9"/>
<circle cx="428.8" cy="311.5" r="0.5" fill="#777" opacity="0.9"/>
<circle cx="426.5" cy="311.4" r="0.5" fill="#777" opacity="0.9"/>
<circle cx="427.9" cy="312.6" r="0.5" fill="#777" opacity="0.9"/>
<circle cx="429.3" cy="312.0" r="0.5" fill="#777" opacity="0.9"/>
<circle cx="430.5" cy="308.8" r="0.5" fill="#777" opacity="0.9"/>
<circle cx="428.7" cy="311.0" r="0.5" fill="#777" opacity="0.9"/>
<circle cx="430.6" cy="312.4" r="0.5" fill="#777" opacity="0.9"/>
<circle cx="434.5" cy="303.9" r="0.5" fill="#777" opacity="0.9"/>
<circle cx="434.7" cy="306.8" r="0.5" fill="#777" opacity="0.9"/>
<circle cx="439.7" cy="306.2" r="0.5" fill="#777" opacity="0.9"/>
<circle cx="438.1" cy="305.1" r="0.5" fill="#777" opacity="0.9"/>
<circle cx="432.7" cy="308.8" r="0.5" fill="#777" opacity="0.9"/>
<circle cx="438.4" cy="304.4" r="0.5" fill="#777" opacity="0.9"/>
<circle cx="439.0" cy="302.7" r="0.5" fill="#777" opacity="0.9"/>
<circle cx="427.1" cy="311.6" r="0.5" fill="#777" opacity="0.9"/>
<circle cx="439.6" cy="302.5" r="0.5" fill="#777" opacity="0.9"/>
<circle cx="428.4" cy="312.1" r="0.5" fill="#777" opacity="0.9"/>
<circle cx="438.1" cy="302.9" r="0.5" fill="#777" opacity="0.9"/>
<circle cx="429.2" cy="313.8" r="0.5" fill="#777" opacity="0.9"/>
<circle cx="426.4" cy="311.7" r="0.5" fill="#777" opacity="0.9"/>
<circle cx="446.0" cy="313.1" r="0.45" fill="#666" opacity="0.85"/>
<circle cx="443.0" cy="313.4" r="0.45" fill="#666" opacity="0.85"/>
<circle cx="442.7" cy="315.5" r="0.45" fill="#666" opacity="0.85"/>
<circle cx="443.1" cy="314.3" r="0.45" fill="#666" opacity="0.85"/>
<circle cx="444.8" cy="311.9" r="0.45" fill="#666" opacity="0.85"/>
<circle cx="442.3" cy="314.3" r="0.45" fill="#666" opacity="0.85"/>
<circle cx="443.7" cy="313.9" r="0.45" fill="#666" opacity="0.85"/>
<circle cx="442.6" cy="314.8" r="0.45" fill="#666" opacity="0.85"/>
<circle cx="444.1" cy="313.1" r="0.45" fill="#666" opacity="0.85"/>
<circle cx="443.3" cy="314.7" r="0.45" fill="#666" opacity="0.85"/>
<circle cx="446.7" cy="311.9" r="0.45" fill="#666" opacity="0.85"/>
<circle cx="444.5" cy="312.5" r="0.45" fill="#666" opacity="0.85"/>
<circle cx="442.6" cy="314.8" r="0.45" fill="#666" opacity="0.85"/>
<circle cx="442.1" cy="315.3" r="0.45" fill="#666" opacity="0.85"/>
<circle cx="441.9" cy="314.3" r="0.45" fill="#666" opacity="0.85"/>
<circle cx="444.8" cy="312.7" r="0.45" fill="#666" opacity="0.85"/>
<circle cx="445.5" cy="312.2" r="0.45" fill="#666" opacity="0.85"/>
<circle cx="445.3" cy="312.9" r="0.45" fill="#666" opacity="0.85"/>
<circle cx="446.6" cy="311.6" r="0.45" fill="#666" opacity="0.85"/>
<circle cx="443.0" cy="313.8" r="0.45" fill="#666" opacity="0.85"/>
<circle cx="443.9" cy="312.9" r="0.45" fill="#666" opacity="0.85"/>
<circle cx="441.2" cy="316.2" r="0.45" fill="#666" opacity="0.85"/>
<circle cx="444.7" cy="312.4" r="0.45" fill="#666" opacity="0.85"/>
<circle cx="444.4" cy="312.9" r="0.45" fill="#666" opacity="0.85"/>
<circle cx="441.3" cy="316.3" r="0.45" fill="#666" opacity="0.85"/>
<circle cx="443.2" cy="314.9" r="0.45" fill="#666" opacity="0.85"/>
<circle cx="443.2" cy="314.4" r="0.45" fill="#666" opacity="0.85"/>
<circle cx="442.1" cy="314.3" r="0.45" fill="#666" opacity="0.85"/>
<circle cx="440.8" cy="315.7" r="0.45" fill="#666" opacity="0.85"/>
<circle cx="440.9" cy="315.7" r="0.45" fill="#666" opacity="0.85"/>
<circle cx="444.5" cy="312.9" r="0.45" fill="#666" opacity="0.85"/>
<circle cx="445.2" cy="314.2" r="0.45" fill="#666" opacity="0.85"/>
<circle cx="442.0" cy="315.5" r="0.45" fill="#666" opacity="0.85"/>
<circle cx="444.5" cy="312.1" r="0.45" fill="#666" opacity="0.85"/>
<circle cx="445.3" cy="312.9" r="0.45" fill="#666" opacity="0.85"/>
<circle cx="445.0" cy="312.3" r="0.45" fill="#666" opacity="0.85"/>
<circle cx="441.8" cy="315.4" r="0.45" fill="#666" opacity="0.85"/>
<circle cx="445.0" cy="312.8" r="0.45" fill="#666" opacity="0.85"/>
<circle cx="444.4" cy="313.9" r="0.45" fill="#666" opacity="0.85"/>
<circle cx="446.3" cy="312.0" r="0.45" fill="#666" opacity="0.85"/>
<polygon points="412.2,335.8 419.5,330.0 426.5,325.1 434.5,319.7 439.4,316.8 443.3,314.2 442.5,315.6 439.4,318.2 431.8,323.6 423.8,329.5 418.4,333.3 413.9,338.9 412.2,339.0" fill="#050505" stroke="#050505" stroke-width="0.9" stroke-linejoin="round" filter="url(#b04)"/>
<circle cx="415.3" cy="338.4" r="0.5" fill="#222" opacity="0.93"/>
<circle cx="430.3" cy="326.3" r="0.5" fill="#222" opacity="0.54"/>
<circle cx="427.1" cy="328.4" r="0.5" fill="#222" opacity="0.98"/>
<circle cx="414.3" cy="334.1" r="0.5" fill="#222" opacity="0.85"/>
<circle cx="436.0" cy="318.5" r="0.5" fill="#222" opacity="0.77"/>
<circle cx="424.4" cy="329.6" r="0.5" fill="#222" opacity="0.56"/>
<circle cx="417.1" cy="330.3" r="0.5" fill="#222" opacity="0.57"/>
<circle cx="436.4" cy="316.5" r="0.5" fill="#222" opacity="0.93"/>
<circle cx="426.2" cy="328.5" r="0.5" fill="#222" opacity="0.51"/>
<circle cx="442.7" cy="314.5" r="0.5" fill="#222" opacity="0.58"/>
<circle cx="423.7" cy="327.1" r="0.5" fill="#222" opacity="0.53"/>
<circle cx="426.2" cy="325.2" r="0.5" fill="#222" opacity="0.81"/>
<circle cx="411.7" cy="338.8" r="0.5" fill="#222" opacity="0.82"/>
<circle cx="424.6" cy="326.2" r="0.5" fill="#222" opacity="0.74"/>
<circle cx="443.3" cy="314.3" r="0.5" fill="#222" opacity="0.83"/>
<circle cx="418.5" cy="328.7" r="0.5" fill="#222" opacity="0.69"/>
<circle cx="433.2" cy="320.2" r="0.5" fill="#222" opacity="0.92"/>
<circle cx="428.3" cy="326.3" r="0.5" fill="#222" opacity="0.55"/>
<circle cx="411.9" cy="336.8" r="0.5" fill="#222" opacity="0.75"/>
<circle cx="426.6" cy="324.6" r="0.5" fill="#222" opacity="0.65"/>
<circle cx="431.1" cy="321.4" r="0.5" fill="#222" opacity="0.65"/>
<circle cx="415.4" cy="339.9" r="0.5" fill="#222" opacity="0.75"/>
<circle cx="424.6" cy="329.5" r="0.5" fill="#222" opacity="0.90"/>
<circle cx="443.8" cy="313.7" r="0.5" fill="#222" opacity="0.74"/>
<circle cx="418.7" cy="336.9" r="0.5" fill="#222" opacity="0.94"/>
<circle cx="431.1" cy="321.4" r="0.5" fill="#222" opacity="0.82"/>
<circle cx="412.4" cy="335.1" r="0.5" fill="#222" opacity="0.72"/>
<circle cx="436.2" cy="320.5" r="0.5" fill="#222" opacity="0.76"/>
<circle cx="437.6" cy="317.2" r="0.5" fill="#222" opacity="0.58"/>
<circle cx="437.6" cy="319.7" r="0.5" fill="#222" opacity="0.57"/>
<circle cx="415.9" cy="337.6" r="0.5" fill="#222" opacity="0.74"/>
<circle cx="437.3" cy="316.9" r="0.5" fill="#222" opacity="0.97"/>
<circle cx="424.1" cy="329.6" r="0.5" fill="#222" opacity="0.81"/>
<circle cx="428.7" cy="320.9" r="0.5" fill="#222" opacity="0.79"/>
<circle cx="432.5" cy="324.1" r="0.5" fill="#222" opacity="0.90"/>
<circle cx="411.7" cy="335.3" r="0.5" fill="#222" opacity="0.84"/>
<circle cx="414.8" cy="337.9" r="0.5" fill="#222" opacity="0.78"/>
<circle cx="427.2" cy="327.6" r="0.5" fill="#222" opacity="0.81"/>
<circle cx="434.9" cy="323.9" r="0.5" fill="#222" opacity="0.54"/>
<circle cx="439.2" cy="318.8" r="0.5" fill="#222" opacity="0.69"/>
<circle cx="418.2" cy="327.9" r="0.5" fill="#222" opacity="0.94"/>
<circle cx="443.2" cy="315.0" r="0.5" fill="#222" opacity="0.87"/>
<circle cx="422.1" cy="327.7" r="0.5" fill="#222" opacity="0.87"/>
<circle cx="428.1" cy="323.9" r="0.5" fill="#222" opacity="0.62"/>
<circle cx="442.3" cy="316.0" r="0.5" fill="#222" opacity="0.98"/>
<circle cx="425.2" cy="326.0" r="0.5" fill="#222" opacity="0.88"/>
<circle cx="434.9" cy="322.4" r="0.5" fill="#222" opacity="0.55"/>
<circle cx="418.3" cy="330.1" r="0.5" fill="#222" opacity="0.85"/>
<circle cx="428.5" cy="326.3" r="0.5" fill="#222" opacity="0.75"/>
<circle cx="430.5" cy="322.2" r="0.5" fill="#222" opacity="0.84"/>
<circle cx="431.3" cy="320.6" r="0.5" fill="#222" opacity="0.97"/>
<circle cx="437.9" cy="319.3" r="0.5" fill="#222" opacity="0.78"/>
<circle cx="414.7" cy="337.9" r="0.5" fill="#222" opacity="0.73"/>
<circle cx="442.2" cy="312.8" r="0.5" fill="#222" opacity="0.84"/>
<circle cx="427.7" cy="326.9" r="0.5" fill="#222" opacity="0.84"/>
<circle cx="414.0" cy="339.7" r="0.5" fill="#222" opacity="0.52"/>
<circle cx="431.0" cy="321.7" r="0.5" fill="#222" opacity="0.56"/>
<circle cx="434.1" cy="322.1" r="0.5" fill="#222" opacity="0.79"/>
<circle cx="415.3" cy="339.0" r="0.5" fill="#222" opacity="0.83"/>
<circle cx="429.4" cy="323.1" r="0.5" fill="#222" opacity="0.97"/>
<circle cx="412.3" cy="339.1" r="0.5" fill="#222" opacity="0.86"/>
<circle cx="426.6" cy="323.5" r="0.5" fill="#222" opacity="0.84"/>
<circle cx="434.3" cy="324.6" r="0.5" fill="#222" opacity="0.99"/>
<circle cx="436.4" cy="317.9" r="0.5" fill="#222" opacity="0.92"/>
<circle cx="424.3" cy="326.0" r="0.5" fill="#222" opacity="0.76"/>
<circle cx="443.2" cy="313.6" r="0.5" fill="#222" opacity="0.69"/>
<circle cx="428.4" cy="323.1" r="0.5" fill="#222" opacity="0.86"/>
<circle cx="431.0" cy="324.6" r="0.5" fill="#222" opacity="0.66"/>
<circle cx="417.2" cy="336.4" r="0.5" fill="#222" opacity="0.87"/>
<circle cx="443.5" cy="314.8" r="0.5" fill="#222" opacity="0.93"/>
<circle cx="436.0" cy="321.6" r="0.5" fill="#222" opacity="0.65"/>
<circle cx="424.7" cy="331.0" r="0.5" fill="#222" opacity="0.98"/>
<circle cx="430.9" cy="319.6" r="0.5" fill="#222" opacity="0.63"/>
<circle cx="417.6" cy="334.5" r="0.5" fill="#222" opacity="0.76"/>
<circle cx="426.7" cy="324.6" r="0.5" fill="#222" opacity="0.86"/>
<circle cx="428.4" cy="327.4" r="0.5" fill="#222" opacity="0.62"/>
<circle cx="433.3" cy="325.3" r="0.5" fill="#222" opacity="0.69"/>
<circle cx="424.3" cy="329.1" r="0.5" fill="#222" opacity="0.94"/>
<circle cx="411.1" cy="340.2" r="0.5" fill="#222" opacity="0.55"/>
<circle cx="414.5" cy="338.2" r="0.5" fill="#222" opacity="0.79"/>
<circle cx="418.4" cy="336.4" r="0.5" fill="#222" opacity="0.62"/>
<circle cx="417.1" cy="329.6" r="0.5" fill="#222" opacity="0.51"/>
<circle cx="411.8" cy="338.8" r="0.5" fill="#222" opacity="0.59"/>
<circle cx="429.1" cy="322.9" r="0.5" fill="#222" opacity="0.55"/>
<circle cx="412.0" cy="340.0" r="0.5" fill="#222" opacity="0.56"/>
<circle cx="423.5" cy="330.4" r="0.5" fill="#222" opacity="0.82"/>
<circle cx="416.7" cy="330.3" r="0.5" fill="#222" opacity="0.50"/>
<circle cx="416.4" cy="331.8" r="0.5" fill="#222" opacity="0.71"/>
<circle cx="436.3" cy="320.8" r="0.5" fill="#222" opacity="0.76"/>
<circle cx="432.0" cy="326.1" r="0.5" fill="#222" opacity="0.88"/>
<text x="437.50" y="263.00" font-size="8.8" text-anchor="start" font-weight="normal" fill="#1a1a1a" stroke="#1a1a1a" stroke-width="0.15" >C06</text>
<text x="445.90" y="304.40" font-size="8.6" text-anchor="start" font-weight="normal" fill="#1a1a1a" stroke="#1a1a1a" stroke-width="0.3" >R1</text>
<text x="453.30" y="325.60" font-size="10.6" text-anchor="start" font-weight="normal" fill="#111" stroke="#111" stroke-width="0.45" >XRCC3</text>
<text x="452.10" y="339.20" font-size="10.9" text-anchor="start" font-weight="normal" fill="#111" stroke="#111" stroke-width="0.45" >+ I-SceI</text>
<text x="408.00" y="357.90" font-size="8.4" text-anchor="middle" font-weight="normal" fill="#1a1a1a" stroke="#1a1a1a" stroke-width="0.3" >10</text>
<text x="412.60" y="354.20" font-size="5.4" text-anchor="start" font-weight="normal" fill="#1a1a1a" stroke="#1a1a1a" stroke-width="0.3" >0</text>
<text x="429.62" y="357.90" font-size="8.4" text-anchor="middle" font-weight="normal" fill="#1a1a1a" stroke="#1a1a1a" stroke-width="0.3" >10</text>
<text x="434.23" y="354.20" font-size="5.4" text-anchor="start" font-weight="normal" fill="#1a1a1a" stroke="#1a1a1a" stroke-width="0.3" >1</text>
<text x="451.25" y="357.90" font-size="8.4" text-anchor="middle" font-weight="normal" fill="#1a1a1a" stroke="#1a1a1a" stroke-width="0.3" >10</text>
<text x="455.85" y="354.20" font-size="5.4" text-anchor="start" font-weight="normal" fill="#1a1a1a" stroke="#1a1a1a" stroke-width="0.3" >2</text>
<text x="472.88" y="357.90" font-size="8.4" text-anchor="middle" font-weight="normal" fill="#1a1a1a" stroke="#1a1a1a" stroke-width="0.3" >10</text>
<text x="477.48" y="354.20" font-size="5.4" text-anchor="start" font-weight="normal" fill="#1a1a1a" stroke="#1a1a1a" stroke-width="0.3" >3</text>
<text x="494.50" y="357.90" font-size="8.4" text-anchor="middle" font-weight="normal" fill="#1a1a1a" stroke="#1a1a1a" stroke-width="0.3" >10</text>
<text x="499.10" y="354.20" font-size="5.4" text-anchor="start" font-weight="normal" fill="#1a1a1a" stroke="#1a1a1a" stroke-width="0.3" >4</text>
<text x="428.50" y="366.00" font-size="8.8" text-anchor="start" font-weight="normal" fill="#1a1a1a" stroke="#1a1a1a" stroke-width="0.3" >FL2-Height</text>
<g transform="translate(404.00,346.60) rotate(-90)">
<text x="0" y="0" font-size="8.4" text-anchor="middle" fill="#1a1a1a">10</text>
<text x="4.6" y="-3.7" font-size="5.4" fill="#1a1a1a">0</text>
</g>
<g transform="translate(404.00,325.90) rotate(-90)">
<text x="0" y="0" font-size="8.4" text-anchor="middle" fill="#1a1a1a">10</text>
<text x="4.6" y="-3.7" font-size="5.4" fill="#1a1a1a">1</text>
</g>
<g transform="translate(404.00,305.20) rotate(-90)">
<text x="0" y="0" font-size="8.4" text-anchor="middle" fill="#1a1a1a">10</text>
<text x="4.6" y="-3.7" font-size="5.4" fill="#1a1a1a">2</text>
</g>
<g transform="translate(404.00,284.50) rotate(-90)">
<text x="0" y="0" font-size="8.4" text-anchor="middle" fill="#1a1a1a">10</text>
<text x="4.6" y="-3.7" font-size="5.4" fill="#1a1a1a">3</text>
</g>
<g transform="translate(404.00,263.80) rotate(-90)">
<text x="0" y="0" font-size="8.4" text-anchor="middle" fill="#1a1a1a">10</text>
<text x="4.6" y="-3.7" font-size="5.4" fill="#1a1a1a">4</text>
</g>
<g transform="translate(392.00,305.20) rotate(-90)"><text x="0" y="0" font-size="8.8" text-anchor="middle" fill="#1a1a1a">FL1-Height</text></g>
<text x="46.30" y="378.70" font-size="12.8" text-anchor="start" font-weight="bold" fill="#111" stroke="#111" stroke-width="0.3" >C</text>
<path d="M107.0,371.55 L107.0,552.5" stroke="#111" stroke-width="1.1" fill="none"/>
<text x="98.60" y="556.30" font-size="10.7" text-anchor="end" font-weight="normal" fill="#111" stroke="#111" stroke-width="0.3" >0</text>
<text x="98.60" y="530.45" font-size="10.7" text-anchor="end" font-weight="normal" fill="#111" stroke="#111" stroke-width="0.3" >1</text>
<text x="98.60" y="504.60" font-size="10.7" text-anchor="end" font-weight="normal" fill="#111" stroke="#111" stroke-width="0.3" >2</text>
<text x="98.60" y="478.75" font-size="10.7" text-anchor="end" font-weight="normal" fill="#111" stroke="#111" stroke-width="0.3" >3</text>
<text x="98.60" y="452.90" font-size="10.7" text-anchor="end" font-weight="normal" fill="#111" stroke="#111" stroke-width="0.3" >4</text>
<text x="98.60" y="427.05" font-size="10.7" text-anchor="end" font-weight="normal" fill="#111" stroke="#111" stroke-width="0.3" >5</text>
<text x="98.60" y="401.20" font-size="10.7" text-anchor="end" font-weight="normal" fill="#111" stroke="#111" stroke-width="0.3" >6</text>
<text x="98.60" y="375.35" font-size="10.7" text-anchor="end" font-weight="normal" fill="#111" stroke="#111" stroke-width="0.3" >7</text>
<path d="M103.4,552.50 H107.0 M103.4,526.65 H107.0 M103.4,500.80 H107.0 M103.4,474.95 H107.0 M103.4,449.10 H107.0 M103.4,423.25 H107.0 M103.4,397.40 H107.0 M103.4,371.55 H107.0" stroke="#111" stroke-width="1" fill="none"/>
<path d="M103.4,552.5 H365.48" stroke="#111" stroke-width="1.3" fill="none"/>
<path d="M107.00,552.5 v3.2 M150.08,552.5 v3.2 M193.16,552.5 v3.2 M236.24,552.5 v3.2 M279.32,552.5 v3.2 M322.40,552.5 v3.2 M365.48,552.5 v3.2" stroke="#111" stroke-width="1" fill="none"/>
<rect x="111.00" y="550.87" width="16.90" height="1.63" fill="#222"/>
<rect x="127.90" y="399.99" width="18.40" height="152.51" fill="#000"/>
<path d="M137.10,399.99 V383.18 M134.10,383.18 H140.10" stroke="#111" stroke-width="1" fill="none"/>
<text x="128.54" y="566.30" font-size="10.5" text-anchor="middle" font-weight="normal" fill="#111" stroke="#111" stroke-width="0.25" >NT</text>
<rect x="154.08" y="551.12" width="16.90" height="1.38" fill="#222"/>
<rect x="170.98" y="540.35" width="18.40" height="12.15" fill="#000"/>
<path d="M180.18,540.35 V536.99 M177.18,536.99 H183.18" stroke="#111" stroke-width="1" fill="none"/>
<text x="171.62" y="566.30" font-size="10.5" text-anchor="middle" font-weight="normal" fill="#111" stroke="#111" stroke-width="0.25" >RAD54</text>
<text x="180.48" y="530.90" font-size="10.6" text-anchor="middle" font-weight="normal" fill="#111" stroke="#111" stroke-width="0.35" >***</text>
<rect x="197.16" y="551.12" width="16.90" height="1.38" fill="#222"/>
<rect x="214.06" y="485.81" width="18.40" height="66.69" fill="#000"/>
<path d="M223.26,485.81 V481.67 M220.26,481.67 H226.26" stroke="#111" stroke-width="1" fill="none"/>
<text x="214.70" y="566.30" font-size="10.5" text-anchor="middle" font-weight="normal" fill="#111" stroke="#111" stroke-width="0.25" >RAD52</text>
<text x="223.56" y="475.40" font-size="10.6" text-anchor="middle" font-weight="normal" fill="#111" stroke="#111" stroke-width="0.35" >***</text>
<rect x="240.24" y="550.35" width="16.90" height="2.15" fill="#222"/>
<rect x="257.14" y="516.57" width="18.40" height="35.93" fill="#000"/>
<path d="M266.34,516.57 V511.92 M263.34,511.92 H269.34" stroke="#111" stroke-width="1" fill="none"/>
<text x="257.78" y="566.30" font-size="10.5" text-anchor="middle" font-weight="normal" fill="#111" stroke="#111" stroke-width="0.25" >BLM</text>
<text x="266.64" y="507.40" font-size="10.6" text-anchor="middle" font-weight="normal" fill="#111" stroke="#111" stroke-width="0.35" >***</text>
<rect x="283.32" y="550.61" width="16.90" height="1.89" fill="#222"/>
<rect x="300.22" y="482.70" width="18.40" height="69.80" fill="#000"/>
<path d="M309.42,482.70 V475.98 M306.42,475.98 H312.42" stroke="#111" stroke-width="1" fill="none"/>
<text x="300.86" y="566.30" font-size="10.5" text-anchor="middle" font-weight="normal" fill="#111" stroke="#111" stroke-width="0.25" >WRN</text>
<text x="309.72" y="472.10" font-size="10.6" text-anchor="middle" font-weight="normal" fill="#111" stroke="#111" stroke-width="0.35" >***</text>
<rect x="326.40" y="551.38" width="16.90" height="1.12" fill="#222"/>
<rect x="343.30" y="539.58" width="18.40" height="12.92" fill="#000"/>
<path d="M352.50,539.58 V535.70 M349.50,535.70 H355.50" stroke="#111" stroke-width="1" fill="none"/>
<text x="343.94" y="566.30" font-size="10.5" text-anchor="middle" font-weight="normal" fill="#111" stroke="#111" stroke-width="0.25" >XRCC3</text>
<text x="352.80" y="530.10" font-size="10.6" text-anchor="middle" font-weight="normal" fill="#111" stroke="#111" stroke-width="0.35" >***</text>
<g transform="translate(84.6,462.8) rotate(-90)"><text x="0" y="0" font-size="11.1" text-anchor="middle" fill="#111" stroke="#111" stroke-width="0.3">% GFP positive cells</text></g>
<text x="45.20" y="565.00" font-size="11.1" text-anchor="start" font-weight="normal" fill="#111" stroke="#111" stroke-width="0.35" letter-spacing="0.3">siRNA</text>
<rect x="334.7" y="400.6" width="5.4" height="5.4" fill="#fff" stroke="#111" stroke-width="0.9"/>
<rect x="334.2" y="417.6" width="6.2" height="5.8" fill="#000"/>
<text x="343.80" y="406.30" font-size="10.5" text-anchor="start" font-weight="normal" fill="#111" stroke="#111" stroke-width="0.2" >No I-SceI</text>
<text x="343.80" y="423.80" font-size="10.5" text-anchor="start" font-weight="normal" fill="#111" stroke="#111" stroke-width="0.2" >I-SceI</text>
</g>
</svg></body></html>
